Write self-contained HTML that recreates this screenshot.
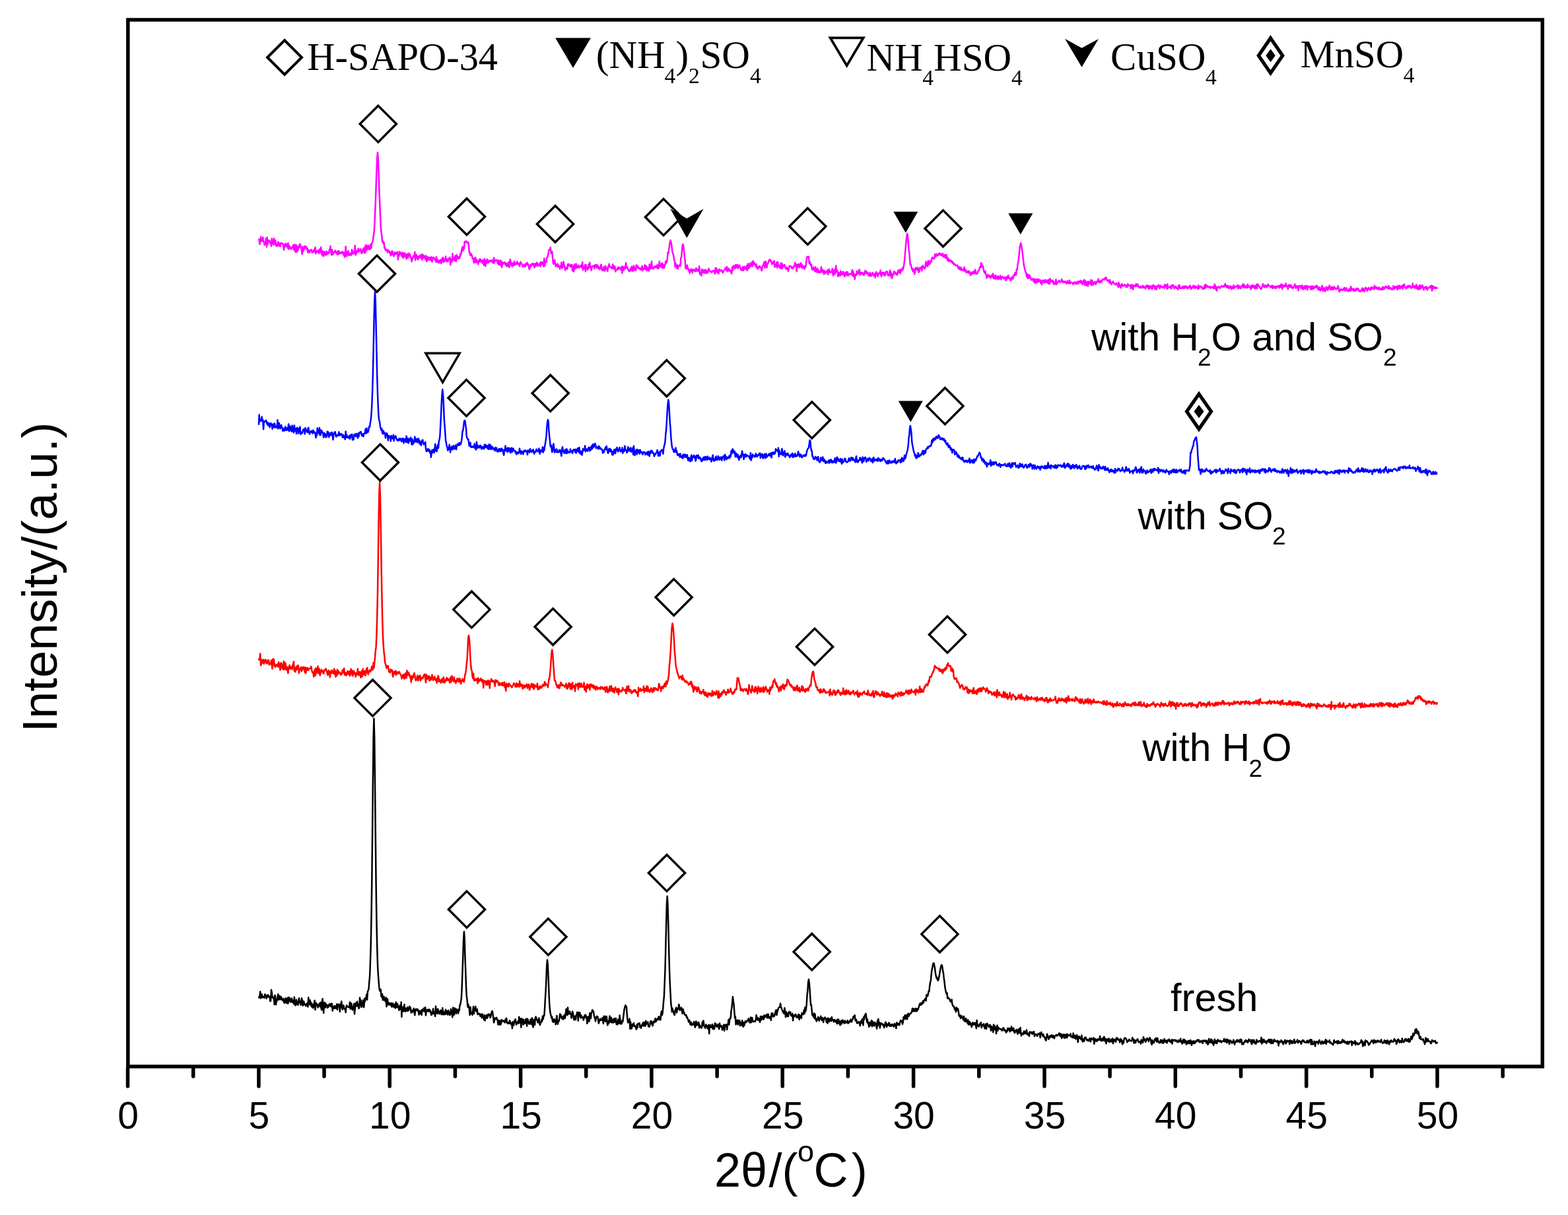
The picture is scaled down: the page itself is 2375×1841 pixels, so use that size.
<!DOCTYPE html><html><head><meta charset="utf-8"><title>XRD patterns</title><style>html,body{margin:0;padding:0;background:#fff;}svg{display:block;}</style></head><body><svg width="2375" height="1841" viewBox="0 0 2375 1841"><rect width="2375" height="1841" fill="#fff"/><path d="M391.9 1509.5 L392.6 1511.8 L393.4 1509.7 L394.2 1502.5 L395.0 1512.6 L395.8 1510.7 L396.6 1506.5 L397.4 1511.6 L398.2 1510.8 L399.0 1510.7 L399.8 1509.6 L400.6 1512.1 L401.4 1506.5 L402.2 1509.3 L403.0 1508.0 L403.8 1513.0 L404.5 1510.6 L405.3 1509.3 L406.1 1507.3 L406.9 1509.8 L407.7 1511.1 L408.5 1510.0 L409.3 1517.2 L410.1 1516.1 L410.9 1499.7 L411.7 1503.5 L412.5 1511.3 L413.3 1510.3 L414.1 1513.3 L414.9 1513.5 L415.7 1522.1 L416.4 1507.9 L417.2 1511.3 L418.0 1522.2 L418.8 1516.2 L419.6 1516.4 L420.4 1511.4 L421.2 1506.5 L422.0 1514.7 L422.8 1514.6 L423.6 1508.9 L424.4 1511.4 L425.2 1514.3 L426.0 1510.6 L426.8 1514.5 L427.6 1515.5 L428.3 1515.4 L429.1 1513.2 L429.9 1518.2 L430.7 1519.6 L431.5 1517.3 L432.3 1512.4 L433.1 1519.3 L433.9 1514.0 L434.7 1520.2 L435.5 1511.8 L436.3 1520.6 L437.1 1516.6 L437.9 1511.3 L438.7 1515.6 L439.5 1517.3 L440.2 1518.4 L441.0 1513.0 L441.8 1512.6 L442.6 1518.4 L443.4 1515.6 L444.2 1518.8 L445.0 1521.2 L445.8 1510.8 L446.6 1519.2 L447.4 1523.6 L448.2 1517.1 L449.0 1514.9 L449.8 1521.9 L450.6 1519.8 L451.4 1522.7 L452.1 1517.4 L452.9 1512.6 L453.7 1518.7 L454.5 1517.4 L455.3 1522.8 L456.1 1520.4 L456.9 1512.6 L457.7 1514.6 L458.5 1523.7 L459.3 1523.0 L460.1 1517.3 L460.9 1520.2 L461.7 1522.3 L462.5 1522.5 L463.3 1524.4 L464.0 1521.8 L464.8 1520.4 L465.6 1519.8 L466.4 1525.6 L467.2 1511.4 L468.0 1520.7 L468.8 1521.5 L469.6 1515.4 L470.4 1523.1 L471.2 1518.9 L472.0 1525.6 L472.8 1521.4 L473.6 1524.9 L474.4 1527.4 L475.2 1523.9 L476.0 1518.6 L476.7 1515.9 L477.5 1530.1 L478.3 1522.1 L479.1 1519.8 L479.9 1523.4 L480.7 1522.1 L481.5 1526.6 L482.3 1523.2 L483.1 1523.2 L483.9 1520.2 L484.7 1525.4 L485.5 1519.0 L486.3 1526.4 L487.1 1530.2 L487.9 1517.2 L488.6 1513.3 L489.4 1526.6 L490.2 1534.9 L491.0 1519.9 L491.8 1518.9 L492.6 1526.8 L493.4 1520.8 L494.2 1522.3 L495.0 1523.1 L495.8 1526.9 L496.6 1523.0 L497.4 1526.0 L498.2 1524.2 L499.0 1521.4 L499.8 1523.8 L500.5 1521.2 L501.3 1525.3 L502.1 1520.6 L502.9 1520.9 L503.7 1531.7 L504.5 1525.4 L505.3 1525.5 L506.1 1528.0 L506.9 1524.1 L507.7 1525.0 L508.5 1527.9 L509.3 1527.3 L510.1 1521.4 L510.9 1529.8 L511.7 1523.8 L512.4 1521.8 L513.2 1522.5 L514.0 1524.6 L514.8 1533.0 L515.6 1521.3 L516.4 1526.8 L517.2 1517.2 L518.0 1526.1 L518.8 1529.8 L519.6 1525.1 L520.4 1523.4 L521.2 1527.0 L522.0 1528.9 L522.8 1528.7 L523.6 1534.1 L524.3 1526.7 L525.1 1523.3 L525.9 1525.2 L526.7 1525.4 L527.5 1526.1 L528.3 1525.5 L529.1 1526.2 L529.9 1518.6 L530.7 1528.8 L531.5 1523.0 L532.3 1520.4 L533.1 1527.8 L533.9 1530.5 L534.7 1527.0 L535.5 1525.5 L536.2 1521.0 L537.0 1536.4 L537.8 1528.1 L538.6 1519.7 L539.4 1521.1 L540.2 1524.4 L541.0 1517.6 L541.8 1524.4 L542.6 1521.6 L543.4 1528.1 L544.2 1526.8 L545.0 1511.8 L545.8 1522.5 L546.6 1515.5 L547.4 1525.9 L548.1 1521.7 L548.9 1522.6 L549.7 1515.8 L550.5 1526.2 L551.3 1526.0 L552.1 1513.2 L552.9 1517.4 L553.7 1512.1 L554.5 1512.9 L555.3 1506.5 L556.1 1515.0 L556.9 1502.4 L557.7 1500.9 L558.5 1498.3 L559.3 1487.9 L560.1 1478.5 L560.8 1461.5 L561.6 1436.3 L562.4 1395.8 L563.2 1340.9 L564.0 1269.4 L564.8 1188.5 L565.6 1118.5 L566.4 1088.7 L567.2 1119.0 L568.0 1188.1 L568.8 1268.9 L569.6 1339.9 L570.4 1395.5 L571.2 1433.9 L572.0 1461.9 L572.7 1474.8 L573.5 1485.9 L574.3 1495.9 L575.1 1500.9 L575.9 1501.9 L576.7 1499.1 L577.5 1509.6 L578.3 1510.9 L579.1 1506.3 L579.9 1515.4 L580.7 1511.0 L581.5 1510.2 L582.3 1515.5 L583.1 1515.4 L583.9 1517.7 L584.6 1511.5 L585.4 1525.3 L586.2 1516.6 L587.0 1513.5 L587.8 1522.4 L588.6 1519.1 L589.4 1522.3 L590.2 1520.1 L591.0 1521.6 L591.8 1523.2 L592.6 1519.7 L593.4 1525.7 L594.2 1521.5 L595.0 1520.3 L595.8 1524.3 L596.5 1526.1 L597.3 1523.7 L598.1 1521.5 L598.9 1527.7 L599.7 1518.6 L600.5 1521.7 L601.3 1526.2 L602.1 1521.0 L602.9 1526.7 L603.7 1526.7 L604.5 1530.7 L605.3 1523.8 L606.1 1525.2 L606.9 1529.2 L607.7 1518.4 L608.4 1540.7 L609.2 1525.9 L610.0 1526.0 L610.8 1532.4 L611.6 1528.9 L612.4 1522.1 L613.2 1531.8 L614.0 1532.8 L614.8 1527.8 L615.6 1528.5 L616.4 1531.7 L617.2 1526.2 L618.0 1531.7 L618.8 1530.8 L619.6 1527.5 L620.3 1524.7 L621.1 1529.5 L621.9 1527.0 L622.7 1534.5 L623.5 1531.2 L624.3 1533.8 L625.1 1531.4 L625.9 1532.0 L626.7 1527.9 L627.5 1533.8 L628.3 1538.3 L629.1 1530.1 L629.9 1529.0 L630.7 1530.9 L631.5 1529.7 L632.3 1528.9 L633.0 1532.3 L633.8 1530.7 L634.6 1537.6 L635.4 1532.0 L636.2 1533.4 L637.0 1535.9 L637.8 1531.1 L638.6 1538.0 L639.4 1529.9 L640.2 1529.3 L641.0 1531.2 L641.8 1532.2 L642.6 1527.3 L643.4 1532.7 L644.2 1526.4 L644.9 1538.5 L645.7 1532.8 L646.5 1530.7 L647.3 1529.7 L648.1 1531.8 L648.9 1532.6 L649.7 1529.4 L650.5 1529.9 L651.3 1532.8 L652.1 1531.5 L652.9 1537.3 L653.7 1538.1 L654.5 1533.7 L655.3 1535.5 L656.1 1528.4 L656.8 1536.2 L657.6 1533.6 L658.4 1535.6 L659.2 1540.0 L660.0 1524.8 L660.8 1534.8 L661.6 1529.5 L662.4 1536.1 L663.2 1528.7 L664.0 1531.9 L664.8 1534.6 L665.6 1536.2 L666.4 1534.1 L667.2 1530.8 L668.0 1531.7 L668.7 1537.3 L669.5 1533.9 L670.3 1527.3 L671.1 1537.2 L671.9 1535.5 L672.7 1537.3 L673.5 1532.6 L674.3 1537.1 L675.1 1529.8 L675.9 1536.1 L676.7 1532.0 L677.5 1536.4 L678.3 1537.7 L679.1 1530.9 L679.9 1533.6 L680.6 1533.9 L681.4 1538.3 L682.2 1536.4 L683.0 1528.9 L683.8 1535.3 L684.6 1536.3 L685.4 1541.5 L686.2 1526.8 L687.0 1531.1 L687.8 1538.0 L688.6 1527.6 L689.4 1528.0 L690.2 1534.3 L691.0 1535.9 L691.8 1529.2 L692.5 1533.3 L693.3 1531.1 L694.1 1535.5 L694.9 1529.0 L695.7 1531.2 L696.5 1522.6 L697.3 1522.0 L698.1 1517.1 L698.9 1511.8 L699.7 1495.6 L700.5 1472.4 L701.3 1448.3 L702.1 1423.6 L702.9 1411.7 L703.7 1422.7 L704.4 1447.7 L705.2 1471.1 L706.0 1495.1 L706.8 1509.6 L707.6 1515.2 L708.4 1525.8 L709.2 1521.6 L710.0 1526.5 L710.8 1528.2 L711.6 1538.1 L712.4 1525.8 L713.2 1534.4 L714.0 1536.3 L714.8 1534.6 L715.6 1537.9 L716.4 1529.9 L717.1 1525.1 L717.9 1536.0 L718.7 1527.9 L719.5 1529.7 L720.3 1525.1 L721.1 1532.3 L721.9 1532.8 L722.7 1529.2 L723.5 1537.1 L724.3 1535.6 L725.1 1535.6 L725.9 1536.9 L726.7 1536.4 L727.5 1539.9 L728.3 1539.0 L729.0 1536.9 L729.8 1542.3 L730.6 1536.4 L731.4 1540.1 L732.2 1540.9 L733.0 1545.1 L733.8 1537.9 L734.6 1546.6 L735.4 1540.9 L736.2 1539.7 L737.0 1538.1 L737.8 1543.0 L738.6 1541.1 L739.4 1536.8 L740.2 1536.6 L740.9 1538.5 L741.7 1537.2 L742.5 1542.0 L743.3 1540.4 L744.1 1535.8 L744.9 1532.8 L745.7 1531.9 L746.5 1536.7 L747.3 1542.7 L748.1 1549.4 L748.9 1546.3 L749.7 1542.6 L750.5 1544.3 L751.3 1542.7 L752.1 1541.9 L752.8 1544.4 L753.6 1546.0 L754.4 1552.4 L755.2 1545.9 L756.0 1551.0 L756.8 1552.7 L757.6 1546.6 L758.4 1552.5 L759.2 1549.3 L760.0 1545.3 L760.8 1548.0 L761.6 1547.3 L762.4 1546.5 L763.2 1546.8 L764.0 1548.2 L764.7 1549.5 L765.5 1544.7 L766.3 1548.1 L767.1 1542.7 L767.9 1549.5 L768.7 1551.0 L769.5 1549.3 L770.3 1549.7 L771.1 1550.9 L771.9 1546.2 L772.7 1547.8 L773.5 1550.6 L774.3 1552.4 L775.1 1550.2 L775.9 1558.2 L776.6 1548.3 L777.4 1552.4 L778.2 1553.4 L779.0 1548.2 L779.8 1545.6 L780.6 1544.3 L781.4 1549.3 L782.2 1552.8 L783.0 1549.7 L783.8 1549.3 L784.6 1547.3 L785.4 1550.7 L786.2 1540.7 L787.0 1549.5 L787.8 1548.8 L788.5 1543.6 L789.3 1556.7 L790.1 1543.5 L790.9 1544.6 L791.7 1544.2 L792.5 1552.7 L793.3 1545.3 L794.1 1551.1 L794.9 1550.7 L795.7 1549.5 L796.5 1543.7 L797.3 1546.3 L798.1 1554.7 L798.9 1543.8 L799.7 1545.4 L800.5 1547.9 L801.2 1551.4 L802.0 1549.3 L802.8 1551.1 L803.6 1544.5 L804.4 1551.8 L805.2 1550.4 L806.0 1542.4 L806.8 1553.9 L807.6 1556.5 L808.4 1545.3 L809.2 1548.3 L810.0 1553.1 L810.8 1542.5 L811.6 1540.6 L812.4 1543.0 L813.1 1545.6 L813.9 1545.4 L814.7 1549.5 L815.5 1548.1 L816.3 1542.5 L817.1 1548.7 L817.9 1553.1 L818.7 1550.3 L819.5 1549.1 L820.3 1545.0 L821.1 1547.6 L821.9 1539.8 L822.7 1544.2 L823.5 1539.0 L824.3 1538.8 L825.0 1529.8 L825.8 1514.8 L826.6 1502.1 L827.4 1483.9 L828.2 1462.3 L829.0 1454.4 L829.8 1462.6 L830.6 1480.2 L831.4 1503.8 L832.2 1521.0 L833.0 1530.8 L833.8 1536.0 L834.6 1539.1 L835.4 1542.5 L836.2 1540.7 L836.9 1547.3 L837.7 1548.6 L838.5 1548.8 L839.3 1544.2 L840.1 1546.7 L840.9 1545.7 L841.7 1552.4 L842.5 1546.5 L843.3 1538.9 L844.1 1546.7 L844.9 1551.7 L845.7 1547.1 L846.5 1547.5 L847.3 1544.1 L848.1 1536.5 L848.8 1536.8 L849.6 1538.4 L850.4 1542.0 L851.2 1543.2 L852.0 1544.1 L852.8 1540.0 L853.6 1544.3 L854.4 1539.5 L855.2 1537.5 L856.0 1542.7 L856.8 1535.9 L857.6 1529.0 L858.4 1534.6 L859.2 1538.3 L860.0 1526.5 L860.7 1536.3 L861.5 1536.5 L862.3 1532.7 L863.1 1532.5 L863.9 1536.3 L864.7 1536.0 L865.5 1542.6 L866.3 1539.5 L867.1 1532.6 L867.9 1535.2 L868.7 1540.9 L869.5 1545.2 L870.3 1539.9 L871.1 1539.7 L871.9 1545.3 L872.7 1538.6 L873.4 1537.7 L874.2 1533.8 L875.0 1537.1 L875.8 1546.7 L876.6 1534.0 L877.4 1539.2 L878.2 1534.2 L879.0 1539.7 L879.8 1542.5 L880.6 1538.5 L881.4 1542.0 L882.2 1542.0 L883.0 1541.1 L883.8 1545.7 L884.6 1542.6 L885.3 1539.0 L886.1 1537.9 L886.9 1537.6 L887.7 1542.5 L888.5 1539.9 L889.3 1550.8 L890.1 1547.9 L890.9 1540.8 L891.7 1540.5 L892.5 1547.6 L893.3 1535.0 L894.1 1539.5 L894.9 1543.2 L895.7 1534.9 L896.5 1533.3 L897.2 1530.3 L898.0 1531.8 L898.8 1532.3 L899.6 1537.2 L900.4 1541.5 L901.2 1542.2 L902.0 1547.6 L902.8 1542.2 L903.6 1540.4 L904.4 1539.7 L905.2 1540.7 L906.0 1544.8 L906.8 1550.7 L907.6 1548.0 L908.4 1545.3 L909.1 1543.7 L909.9 1545.6 L910.7 1546.0 L911.5 1545.4 L912.3 1542.4 L913.1 1545.7 L913.9 1550.9 L914.7 1539.7 L915.5 1546.4 L916.3 1539.9 L917.1 1547.9 L917.9 1544.6 L918.7 1539.9 L919.5 1547.5 L920.3 1553.4 L921.0 1547.4 L921.8 1551.1 L922.6 1546.7 L923.4 1539.5 L924.2 1548.6 L925.0 1545.4 L925.8 1541.8 L926.6 1549.5 L927.4 1547.7 L928.2 1544.9 L929.0 1549.7 L929.8 1543.6 L930.6 1548.8 L931.4 1543.2 L932.2 1548.5 L932.9 1543.1 L933.7 1552.2 L934.5 1548.1 L935.3 1552.4 L936.1 1544.8 L936.9 1546.1 L937.7 1550.8 L938.5 1538.6 L939.3 1544.4 L940.1 1551.6 L940.9 1549.6 L941.7 1551.1 L942.5 1546.3 L943.3 1548.1 L944.1 1541.7 L944.8 1535.9 L945.6 1529.3 L946.4 1526.3 L947.2 1523.3 L948.0 1526.5 L948.8 1524.9 L949.6 1535.3 L950.4 1544.1 L951.2 1549.5 L952.0 1548.1 L952.8 1548.0 L953.6 1543.8 L954.4 1558.9 L955.2 1548.8 L956.0 1558.6 L956.8 1558.5 L957.5 1554.5 L958.3 1551.9 L959.1 1554.6 L959.9 1550.2 L960.7 1555.0 L961.5 1554.1 L962.3 1555.8 L963.1 1557.2 L963.9 1559.8 L964.7 1552.6 L965.5 1557.4 L966.3 1551.1 L967.1 1550.7 L967.9 1551.6 L968.7 1550.3 L969.4 1556.8 L970.2 1556.6 L971.0 1557.7 L971.8 1553.2 L972.6 1554.2 L973.4 1551.2 L974.2 1549.2 L975.0 1554.5 L975.8 1553.8 L976.6 1549.1 L977.4 1554.7 L978.2 1546.8 L979.0 1551.9 L979.8 1550.3 L980.6 1550.6 L981.3 1548.6 L982.1 1555.3 L982.9 1553.9 L983.7 1555.8 L984.5 1552.2 L985.3 1547.3 L986.1 1550.2 L986.9 1547.4 L987.7 1552.4 L988.5 1554.4 L989.3 1551.0 L990.1 1547.5 L990.9 1547.8 L991.7 1549.1 L992.5 1543.2 L993.2 1547.8 L994.0 1547.4 L994.8 1544.3 L995.6 1544.1 L996.4 1545.2 L997.2 1541.2 L998.0 1540.3 L998.8 1544.4 L999.6 1541.9 L1000.4 1545.5 L1001.2 1536.1 L1002.0 1532.2 L1002.8 1538.3 L1003.6 1535.2 L1004.4 1526.0 L1005.1 1517.2 L1005.9 1509.5 L1006.7 1489.7 L1007.5 1468.0 L1008.3 1435.2 L1009.1 1401.6 L1009.9 1369.3 L1010.7 1358.0 L1011.5 1372.1 L1012.3 1401.2 L1013.1 1437.0 L1013.9 1466.8 L1014.7 1489.8 L1015.5 1504.8 L1016.3 1521.0 L1017.0 1525.0 L1017.8 1533.3 L1018.6 1528.0 L1019.4 1531.8 L1020.2 1533.2 L1021.0 1537.1 L1021.8 1538.0 L1022.6 1530.8 L1023.4 1529.0 L1024.2 1526.7 L1025.0 1534.4 L1025.8 1529.9 L1026.6 1527.8 L1027.4 1528.9 L1028.2 1522.0 L1029.0 1523.9 L1029.7 1530.8 L1030.5 1529.6 L1031.3 1529.3 L1032.1 1526.8 L1032.9 1531.8 L1033.7 1535.9 L1034.5 1528.9 L1035.3 1533.5 L1036.1 1533.5 L1036.9 1537.1 L1037.7 1537.6 L1038.5 1538.6 L1039.3 1537.8 L1040.1 1541.7 L1040.9 1541.3 L1041.6 1543.9 L1042.4 1545.3 L1043.2 1548.6 L1044.0 1545.7 L1044.8 1547.3 L1045.6 1552.5 L1046.4 1549.0 L1047.2 1549.4 L1048.0 1553.5 L1048.8 1552.0 L1049.6 1551.7 L1050.4 1552.4 L1051.2 1547.9 L1052.0 1553.6 L1052.8 1556.6 L1053.5 1554.3 L1054.3 1547.5 L1055.1 1553.6 L1055.9 1549.8 L1056.7 1552.1 L1057.5 1553.3 L1058.3 1549.1 L1059.1 1557.4 L1059.9 1552.9 L1060.7 1555.7 L1061.5 1555.3 L1062.3 1557.6 L1063.1 1557.2 L1063.9 1548.6 L1064.7 1553.6 L1065.4 1546.6 L1066.2 1552.1 L1067.0 1555.9 L1067.8 1556.6 L1068.6 1557.9 L1069.4 1552.6 L1070.2 1554.9 L1071.0 1554.2 L1071.8 1558.0 L1072.6 1559.1 L1073.4 1552.9 L1074.2 1566.2 L1075.0 1554.1 L1075.8 1553.0 L1076.6 1556.1 L1077.3 1556.7 L1078.1 1556.1 L1078.9 1552.3 L1079.7 1559.1 L1080.5 1554.6 L1081.3 1559.4 L1082.1 1559.0 L1082.9 1550.5 L1083.7 1551.5 L1084.5 1551.5 L1085.3 1555.5 L1086.1 1554.9 L1086.9 1555.6 L1087.7 1552.2 L1088.5 1556.2 L1089.2 1559.3 L1090.0 1550.6 L1090.8 1554.3 L1091.6 1555.7 L1092.4 1554.5 L1093.2 1554.3 L1094.0 1560.5 L1094.8 1559.0 L1095.6 1557.6 L1096.4 1552.5 L1097.2 1561.9 L1098.0 1555.9 L1098.8 1552.7 L1099.6 1553.1 L1100.4 1552.3 L1101.1 1560.1 L1101.9 1553.6 L1102.7 1552.6 L1103.5 1545.0 L1104.3 1552.7 L1105.1 1545.5 L1105.9 1542.3 L1106.7 1542.6 L1107.5 1531.9 L1108.3 1527.5 L1109.1 1519.8 L1109.9 1510.2 L1110.7 1516.9 L1111.5 1521.4 L1112.3 1533.1 L1113.1 1542.3 L1113.8 1540.2 L1114.6 1552.3 L1115.4 1547.5 L1116.2 1545.7 L1117.0 1549.5 L1117.8 1552.6 L1118.6 1546.1 L1119.4 1550.4 L1120.2 1546.2 L1121.0 1554.2 L1121.8 1551.0 L1122.6 1549.1 L1123.4 1553.6 L1124.2 1546.3 L1125.0 1549.0 L1125.7 1555.9 L1126.5 1549.6 L1127.3 1554.0 L1128.1 1550.1 L1128.9 1547.1 L1129.7 1548.3 L1130.5 1549.1 L1131.3 1547.4 L1132.1 1545.9 L1132.9 1545.8 L1133.7 1543.4 L1134.5 1548.1 L1135.3 1548.7 L1136.1 1549.6 L1136.9 1541.5 L1137.6 1549.3 L1138.4 1546.5 L1139.2 1541.9 L1140.0 1546.4 L1140.8 1548.4 L1141.6 1547.2 L1142.4 1547.6 L1143.2 1548.1 L1144.0 1547.7 L1144.8 1544.6 L1145.6 1538.0 L1146.4 1541.9 L1147.2 1545.2 L1148.0 1542.5 L1148.8 1545.9 L1149.5 1546.0 L1150.3 1543.6 L1151.1 1549.0 L1151.9 1540.1 L1152.7 1545.8 L1153.5 1541.3 L1154.3 1540.1 L1155.1 1544.2 L1155.9 1540.3 L1156.7 1544.6 L1157.5 1538.2 L1158.3 1541.7 L1159.1 1538.8 L1159.9 1540.5 L1160.7 1539.9 L1161.4 1537.4 L1162.2 1542.6 L1163.0 1536.6 L1163.8 1537.2 L1164.6 1542.6 L1165.4 1542.6 L1166.2 1541.5 L1167.0 1540.4 L1167.8 1546.0 L1168.6 1535.3 L1169.4 1536.4 L1170.2 1535.3 L1171.0 1540.5 L1171.8 1538.2 L1172.6 1539.9 L1173.3 1538.8 L1174.1 1534.5 L1174.9 1531.8 L1175.7 1530.3 L1176.5 1538.1 L1177.3 1533.4 L1178.1 1531.1 L1178.9 1527.5 L1179.7 1527.0 L1180.5 1526.0 L1181.3 1525.8 L1182.1 1520.5 L1182.9 1527.2 L1183.7 1527.2 L1184.5 1530.1 L1185.2 1531.1 L1186.0 1534.0 L1186.8 1532.7 L1187.6 1536.0 L1188.4 1527.3 L1189.2 1532.3 L1190.0 1541.2 L1190.8 1533.2 L1191.6 1536.4 L1192.4 1539.7 L1193.2 1535.3 L1194.0 1540.2 L1194.8 1534.1 L1195.6 1532.8 L1196.4 1534.6 L1197.2 1533.7 L1197.9 1538.6 L1198.7 1537.8 L1199.5 1539.7 L1200.3 1535.7 L1201.1 1546.4 L1201.9 1538.5 L1202.7 1538.6 L1203.5 1540.1 L1204.3 1538.0 L1205.1 1536.8 L1205.9 1539.0 L1206.7 1541.6 L1207.5 1540.9 L1208.3 1541.8 L1209.1 1537.4 L1209.8 1536.8 L1210.6 1545.0 L1211.4 1538.3 L1212.2 1540.4 L1213.0 1541.1 L1213.8 1543.0 L1214.6 1534.8 L1215.4 1537.1 L1216.2 1536.9 L1217.0 1536.9 L1217.8 1530.2 L1218.6 1535.8 L1219.4 1526.4 L1220.2 1532.4 L1221.0 1528.5 L1221.7 1521.7 L1222.5 1508.4 L1223.3 1501.6 L1224.1 1488.6 L1224.9 1483.9 L1225.7 1488.6 L1226.5 1498.8 L1227.3 1512.0 L1228.1 1523.1 L1228.9 1522.8 L1229.7 1531.5 L1230.5 1538.4 L1231.3 1538.4 L1232.1 1540.5 L1232.9 1535.6 L1233.6 1543.2 L1234.4 1536.5 L1235.2 1542.0 L1236.0 1545.8 L1236.8 1547.6 L1237.6 1543.9 L1238.4 1545.2 L1239.2 1541.1 L1240.0 1541.7 L1240.8 1546.7 L1241.6 1543.5 L1242.4 1543.3 L1243.2 1539.7 L1244.0 1544.4 L1244.8 1546.0 L1245.5 1541.9 L1246.3 1542.9 L1247.1 1549.1 L1247.9 1545.1 L1248.7 1543.9 L1249.5 1541.5 L1250.3 1543.1 L1251.1 1544.3 L1251.9 1549.1 L1252.7 1543.4 L1253.5 1550.5 L1254.3 1542.7 L1255.1 1544.5 L1255.9 1548.1 L1256.7 1545.0 L1257.4 1543.4 L1258.2 1545.5 L1259.0 1547.3 L1259.8 1541.1 L1260.6 1545.4 L1261.4 1545.9 L1262.2 1545.2 L1263.0 1548.6 L1263.8 1544.9 L1264.6 1545.6 L1265.4 1546.8 L1266.2 1548.9 L1267.0 1546.2 L1267.8 1551.3 L1268.6 1544.4 L1269.4 1550.8 L1270.1 1544.7 L1270.9 1546.8 L1271.7 1548.4 L1272.5 1553.4 L1273.3 1550.1 L1274.1 1546.4 L1274.9 1551.4 L1275.7 1547.1 L1276.5 1545.5 L1277.3 1549.1 L1278.1 1548.1 L1278.9 1550.6 L1279.7 1546.4 L1280.5 1549.1 L1281.3 1549.9 L1282.0 1548.9 L1282.8 1548.0 L1283.6 1546.2 L1284.4 1550.7 L1285.2 1548.6 L1286.0 1549.6 L1286.8 1547.1 L1287.6 1548.0 L1288.4 1544.8 L1289.2 1547.5 L1290.0 1548.5 L1290.8 1545.0 L1291.6 1544.6 L1292.4 1540.5 L1293.2 1541.9 L1293.9 1539.3 L1294.7 1538.2 L1295.5 1546.3 L1296.3 1546.4 L1297.1 1545.1 L1297.9 1550.2 L1298.7 1549.5 L1299.5 1550.2 L1300.3 1548.2 L1301.1 1549.7 L1301.9 1550.0 L1302.7 1554.3 L1303.5 1547.4 L1304.3 1549.3 L1305.1 1550.2 L1305.8 1544.2 L1306.6 1544.1 L1307.4 1553.5 L1308.2 1541.1 L1309.0 1544.9 L1309.8 1538.5 L1310.6 1537.4 L1311.4 1535.7 L1312.2 1541.3 L1313.0 1548.4 L1313.8 1544.3 L1314.6 1550.8 L1315.4 1550.7 L1316.2 1555.8 L1317.0 1549.1 L1317.7 1554.1 L1318.5 1553.2 L1319.3 1550.1 L1320.1 1546.3 L1320.9 1555.3 L1321.7 1547.4 L1322.5 1549.9 L1323.3 1553.8 L1324.1 1554.5 L1324.9 1549.1 L1325.7 1551.5 L1326.5 1550.9 L1327.3 1554.9 L1328.1 1558.7 L1328.9 1546.7 L1329.6 1554.4 L1330.4 1544.0 L1331.2 1552.0 L1332.0 1549.0 L1332.8 1557.6 L1333.6 1552.7 L1334.4 1550.3 L1335.2 1551.0 L1336.0 1550.9 L1336.8 1553.1 L1337.6 1552.2 L1338.4 1554.5 L1339.2 1557.1 L1340.0 1554.8 L1340.8 1549.6 L1341.5 1548.6 L1342.3 1551.1 L1343.1 1556.1 L1343.9 1552.4 L1344.7 1551.6 L1345.5 1553.8 L1346.3 1549.7 L1347.1 1550.5 L1347.9 1555.1 L1348.7 1552.9 L1349.5 1552.6 L1350.3 1554.7 L1351.1 1552.3 L1351.9 1552.1 L1352.7 1552.8 L1353.5 1555.7 L1354.2 1554.3 L1355.0 1551.0 L1355.8 1553.4 L1356.6 1555.4 L1357.4 1558.1 L1358.2 1549.4 L1359.0 1552.8 L1359.8 1550.6 L1360.6 1552.9 L1361.4 1551.2 L1362.2 1553.4 L1363.0 1550.2 L1363.8 1546.7 L1364.6 1546.1 L1365.4 1547.9 L1366.1 1547.2 L1366.9 1551.9 L1367.7 1549.3 L1368.5 1541.2 L1369.3 1544.6 L1370.1 1539.6 L1370.9 1538.2 L1371.7 1543.9 L1372.5 1542.8 L1373.3 1538.0 L1374.1 1544.3 L1374.9 1536.9 L1375.7 1535.7 L1376.5 1539.7 L1377.3 1537.9 L1378.0 1536.2 L1378.8 1535.7 L1379.6 1535.6 L1380.4 1533.9 L1381.2 1533.0 L1382.0 1527.9 L1382.8 1528.4 L1383.6 1532.4 L1384.4 1528.7 L1385.2 1531.2 L1386.0 1532.3 L1386.8 1527.9 L1387.6 1528.8 L1388.4 1532.5 L1389.2 1528.5 L1389.9 1530.6 L1390.7 1529.1 L1391.5 1526.6 L1392.3 1523.8 L1393.1 1521.4 L1393.9 1520.0 L1394.7 1522.8 L1395.5 1521.9 L1396.3 1519.6 L1397.1 1520.9 L1397.9 1516.8 L1398.7 1519.5 L1399.5 1516.2 L1400.3 1515.0 L1401.1 1514.0 L1401.8 1512.7 L1402.6 1516.5 L1403.4 1507.2 L1404.2 1509.1 L1405.0 1509.4 L1405.8 1506.3 L1406.6 1501.9 L1407.4 1502.1 L1408.2 1493.7 L1409.0 1488.8 L1409.8 1485.8 L1410.6 1477.2 L1411.4 1470.0 L1412.2 1466.8 L1413.0 1461.9 L1413.7 1459.6 L1414.5 1459.6 L1415.3 1463.5 L1416.1 1467.3 L1416.9 1474.8 L1417.7 1478.4 L1418.5 1482.0 L1419.3 1480.9 L1420.1 1485.2 L1420.9 1485.6 L1421.7 1483.3 L1422.5 1479.6 L1423.3 1474.6 L1424.1 1469.7 L1424.9 1466.1 L1425.7 1462.9 L1426.4 1462.1 L1427.2 1463.9 L1428.0 1470.3 L1428.8 1473.7 L1429.6 1481.2 L1430.4 1486.6 L1431.2 1494.3 L1432.0 1499.6 L1432.8 1503.2 L1433.6 1505.5 L1434.4 1504.2 L1435.2 1512.7 L1436.0 1511.5 L1436.8 1511.8 L1437.6 1513.4 L1438.3 1513.9 L1439.1 1516.6 L1439.9 1517.8 L1440.7 1517.8 L1441.5 1514.5 L1442.3 1521.2 L1443.1 1523.6 L1443.9 1525.0 L1444.7 1524.8 L1445.5 1527.4 L1446.3 1529.8 L1447.1 1527.6 L1447.9 1533.2 L1448.7 1526.5 L1449.5 1529.1 L1450.2 1531.0 L1451.0 1528.4 L1451.8 1532.8 L1452.6 1539.0 L1453.4 1540.0 L1454.2 1538.2 L1455.0 1543.0 L1455.8 1540.3 L1456.6 1539.4 L1457.4 1542.0 L1458.2 1541.9 L1459.0 1544.8 L1459.8 1540.1 L1460.6 1547.0 L1461.4 1544.2 L1462.1 1548.1 L1462.9 1542.9 L1463.7 1546.1 L1464.5 1547.7 L1465.3 1550.1 L1466.1 1545.2 L1466.9 1552.7 L1467.7 1550.1 L1468.5 1547.9 L1469.3 1552.6 L1470.1 1550.0 L1470.9 1553.0 L1471.7 1556.2 L1472.5 1552.5 L1473.3 1549.5 L1474.0 1550.0 L1474.8 1552.8 L1475.6 1552.3 L1476.4 1549.6 L1477.2 1550.3 L1478.0 1553.9 L1478.8 1558.3 L1479.6 1545.9 L1480.4 1554.6 L1481.2 1552.4 L1482.0 1555.1 L1482.8 1555.5 L1483.6 1553.6 L1484.4 1551.1 L1485.2 1550.2 L1485.9 1549.2 L1486.7 1557.2 L1487.5 1553.8 L1488.3 1553.1 L1489.1 1553.9 L1489.9 1551.4 L1490.7 1555.7 L1491.5 1558.4 L1492.3 1558.1 L1493.1 1551.4 L1493.9 1559.0 L1494.7 1553.7 L1495.5 1550.9 L1496.3 1552.8 L1497.1 1553.6 L1497.8 1556.2 L1498.6 1553.7 L1499.4 1552.7 L1500.2 1556.0 L1501.0 1561.7 L1501.8 1555.1 L1502.6 1558.2 L1503.4 1557.4 L1504.2 1564.1 L1505.0 1552.6 L1505.8 1560.4 L1506.6 1554.5 L1507.4 1556.4 L1508.2 1557.7 L1509.0 1566.2 L1509.8 1556.3 L1510.5 1553.6 L1511.3 1561.8 L1512.1 1556.5 L1512.9 1558.1 L1513.7 1558.8 L1514.5 1559.3 L1515.3 1558.7 L1516.1 1560.0 L1516.9 1560.4 L1517.7 1561.7 L1518.5 1558.6 L1519.3 1557.9 L1520.1 1557.2 L1520.9 1561.5 L1521.7 1560.0 L1522.4 1561.7 L1523.2 1561.8 L1524.0 1564.8 L1524.8 1561.2 L1525.6 1562.7 L1526.4 1557.9 L1527.2 1558.3 L1528.0 1560.4 L1528.8 1558.2 L1529.6 1563.2 L1530.4 1558.2 L1531.2 1561.8 L1532.0 1555.6 L1532.8 1559.1 L1533.6 1561.2 L1534.3 1561.5 L1535.1 1557.8 L1535.9 1562.7 L1536.7 1565.0 L1537.5 1564.3 L1538.3 1561.1 L1539.1 1561.4 L1539.9 1560.0 L1540.7 1564.7 L1541.5 1566.9 L1542.3 1562.1 L1543.1 1559.2 L1543.9 1564.1 L1544.7 1565.5 L1545.5 1557.0 L1546.2 1564.3 L1547.0 1569.5 L1547.8 1566.3 L1548.6 1565.7 L1549.4 1565.5 L1550.2 1567.3 L1551.0 1562.4 L1551.8 1562.7 L1552.6 1566.0 L1553.4 1563.4 L1554.2 1565.9 L1555.0 1560.6 L1555.8 1567.4 L1556.6 1567.7 L1557.4 1565.9 L1558.1 1566.3 L1558.9 1570.1 L1559.7 1563.5 L1560.5 1564.0 L1561.3 1563.7 L1562.1 1565.5 L1562.9 1564.1 L1563.7 1566.9 L1564.5 1565.3 L1565.3 1563.4 L1566.1 1563.3 L1566.9 1570.3 L1567.7 1567.3 L1568.5 1567.0 L1569.3 1567.8 L1570.0 1567.6 L1570.8 1569.8 L1571.6 1569.5 L1572.4 1566.7 L1573.2 1566.3 L1574.0 1565.8 L1574.8 1565.5 L1575.6 1572.2 L1576.4 1566.6 L1577.2 1564.0 L1578.0 1567.0 L1578.8 1567.3 L1579.6 1570.2 L1580.4 1567.3 L1581.2 1570.9 L1581.9 1570.7 L1582.7 1572.8 L1583.5 1575.1 L1584.3 1576.7 L1585.1 1573.0 L1585.9 1566.8 L1586.7 1568.6 L1587.5 1570.2 L1588.3 1574.7 L1589.1 1571.3 L1589.9 1572.5 L1590.7 1569.1 L1591.5 1571.0 L1592.3 1571.3 L1593.1 1568.4 L1593.9 1571.4 L1594.6 1572.1 L1595.4 1569.1 L1596.2 1571.9 L1597.0 1573.5 L1597.8 1569.6 L1598.6 1569.4 L1599.4 1568.6 L1600.2 1567.8 L1601.0 1569.7 L1601.8 1568.3 L1602.6 1568.6 L1603.4 1567.4 L1604.2 1565.5 L1605.0 1567.0 L1605.8 1570.1 L1606.5 1566.3 L1607.3 1567.6 L1608.1 1573.2 L1608.9 1571.9 L1609.7 1567.5 L1610.5 1570.6 L1611.3 1567.5 L1612.1 1573.1 L1612.9 1567.7 L1613.7 1569.3 L1614.5 1572.4 L1615.3 1567.0 L1616.1 1572.2 L1616.9 1567.0 L1617.7 1569.6 L1618.4 1568.3 L1619.2 1568.8 L1620.0 1569.3 L1620.8 1568.8 L1621.6 1566.4 L1622.4 1571.0 L1623.2 1570.6 L1624.0 1572.0 L1624.8 1572.2 L1625.6 1565.6 L1626.4 1572.3 L1627.2 1572.8 L1628.0 1568.7 L1628.8 1572.9 L1629.6 1574.4 L1630.3 1569.9 L1631.1 1568.3 L1631.9 1571.2 L1632.7 1579.2 L1633.5 1573.4 L1634.3 1570.3 L1635.1 1573.0 L1635.9 1571.7 L1636.7 1573.5 L1637.5 1575.1 L1638.3 1568.7 L1639.1 1575.8 L1639.9 1578.4 L1640.7 1574.5 L1641.5 1574.1 L1642.2 1577.7 L1643.0 1572.0 L1643.8 1572.1 L1644.6 1571.8 L1645.4 1574.8 L1646.2 1576.2 L1647.0 1575.0 L1647.8 1576.6 L1648.6 1577.3 L1649.4 1576.6 L1650.2 1573.5 L1651.0 1574.8 L1651.8 1578.5 L1652.6 1573.0 L1653.4 1574.9 L1654.1 1574.6 L1654.9 1575.2 L1655.7 1573.1 L1656.5 1572.4 L1657.3 1581.8 L1658.1 1578.0 L1658.9 1574.1 L1659.7 1575.7 L1660.5 1577.5 L1661.3 1575.1 L1662.1 1577.4 L1662.9 1574.4 L1663.7 1575.1 L1664.5 1575.7 L1665.3 1574.8 L1666.1 1570.1 L1666.8 1576.0 L1667.6 1576.6 L1668.4 1577.1 L1669.2 1573.6 L1670.0 1576.8 L1670.8 1576.5 L1671.6 1571.8 L1672.4 1570.8 L1673.2 1577.2 L1674.0 1573.8 L1674.8 1578.4 L1675.6 1581.1 L1676.4 1574.7 L1677.2 1574.5 L1678.0 1576.1 L1678.7 1577.7 L1679.5 1573.5 L1680.3 1579.1 L1681.1 1578.5 L1681.9 1577.7 L1682.7 1574.9 L1683.5 1578.4 L1684.3 1578.2 L1685.1 1573.4 L1685.9 1581.2 L1686.7 1575.5 L1687.5 1577.1 L1688.3 1575.0 L1689.1 1577.2 L1689.9 1579.0 L1690.6 1574.4 L1691.4 1572.4 L1692.2 1575.3 L1693.0 1573.3 L1693.8 1574.6 L1694.6 1576.1 L1695.4 1576.2 L1696.2 1579.4 L1697.0 1574.0 L1697.8 1577.2 L1698.6 1575.2 L1699.4 1579.6 L1700.2 1582.3 L1701.0 1577.2 L1701.8 1580.4 L1702.5 1575.2 L1703.3 1572.7 L1704.1 1573.5 L1704.9 1572.8 L1705.7 1574.3 L1706.5 1576.0 L1707.3 1579.2 L1708.1 1578.2 L1708.9 1577.6 L1709.7 1575.6 L1710.5 1574.9 L1711.3 1576.7 L1712.1 1576.9 L1712.9 1577.2 L1713.7 1577.5 L1714.4 1576.4 L1715.2 1572.2 L1716.0 1574.1 L1716.8 1574.8 L1717.6 1580.6 L1718.4 1575.7 L1719.2 1578.3 L1720.0 1580.1 L1720.8 1577.5 L1721.6 1575.8 L1722.4 1576.1 L1723.2 1574.4 L1724.0 1577.5 L1724.8 1579.4 L1725.6 1578.1 L1726.3 1578.6 L1727.1 1578.5 L1727.9 1581.5 L1728.7 1575.4 L1729.5 1577.2 L1730.3 1578.5 L1731.1 1579.7 L1731.9 1571.3 L1732.7 1575.7 L1733.5 1576.4 L1734.3 1574.5 L1735.1 1578.9 L1735.9 1577.4 L1736.7 1576.0 L1737.5 1573.2 L1738.2 1573.9 L1739.0 1574.7 L1739.8 1578.0 L1740.6 1574.2 L1741.4 1572.3 L1742.2 1573.7 L1743.0 1575.7 L1743.8 1580.9 L1744.6 1582.8 L1745.4 1576.0 L1746.2 1579.2 L1747.0 1580.3 L1747.8 1580.0 L1748.6 1576.9 L1749.4 1574.2 L1750.2 1576.0 L1750.9 1572.9 L1751.7 1577.7 L1752.5 1578.9 L1753.3 1572.9 L1754.1 1577.1 L1754.9 1577.9 L1755.7 1580.1 L1756.5 1580.4 L1757.3 1579.1 L1758.1 1575.7 L1758.9 1576.4 L1759.7 1580.0 L1760.5 1575.9 L1761.3 1577.2 L1762.1 1580.8 L1762.8 1577.6 L1763.6 1574.2 L1764.4 1576.7 L1765.2 1578.8 L1766.0 1576.9 L1766.8 1580.0 L1767.6 1580.3 L1768.4 1575.9 L1769.2 1576.3 L1770.0 1577.2 L1770.8 1574.7 L1771.6 1578.3 L1772.4 1577.0 L1773.2 1579.2 L1774.0 1576.1 L1774.7 1575.5 L1775.5 1581.6 L1776.3 1575.5 L1777.1 1576.2 L1777.9 1575.9 L1778.7 1576.9 L1779.5 1575.5 L1780.3 1577.5 L1781.1 1576.0 L1781.9 1576.6 L1782.7 1578.4 L1783.5 1579.2 L1784.3 1578.7 L1785.1 1576.0 L1785.9 1578.5 L1786.6 1577.4 L1787.4 1577.4 L1788.2 1573.8 L1789.0 1579.2 L1789.8 1577.4 L1790.6 1581.5 L1791.4 1579.2 L1792.2 1575.2 L1793.0 1574.7 L1793.8 1580.3 L1794.6 1575.8 L1795.4 1579.3 L1796.2 1577.1 L1797.0 1582.5 L1797.8 1578.0 L1798.5 1581.2 L1799.3 1580.8 L1800.1 1576.8 L1800.9 1577.1 L1801.7 1581.2 L1802.5 1577.9 L1803.3 1576.0 L1804.1 1580.6 L1804.9 1583.7 L1805.7 1577.9 L1806.5 1581.1 L1807.3 1577.6 L1808.1 1581.0 L1808.9 1577.5 L1809.7 1581.0 L1810.4 1579.2 L1811.2 1577.6 L1812.0 1578.6 L1812.8 1576.8 L1813.6 1575.5 L1814.4 1575.7 L1815.2 1577.9 L1816.0 1575.7 L1816.8 1579.0 L1817.6 1579.3 L1818.4 1579.1 L1819.2 1577.0 L1820.0 1578.2 L1820.8 1578.0 L1821.6 1581.0 L1822.4 1576.3 L1823.1 1577.2 L1823.9 1577.6 L1824.7 1577.8 L1825.5 1576.4 L1826.3 1576.7 L1827.1 1580.4 L1827.9 1576.7 L1828.7 1580.1 L1829.5 1582.6 L1830.3 1580.9 L1831.1 1574.1 L1831.9 1579.8 L1832.7 1579.2 L1833.5 1579.3 L1834.3 1574.5 L1835.0 1579.8 L1835.8 1575.7 L1836.6 1581.0 L1837.4 1580.5 L1838.2 1583.8 L1839.0 1577.2 L1839.8 1574.7 L1840.6 1580.4 L1841.4 1580.0 L1842.2 1577.2 L1843.0 1581.1 L1843.8 1579.6 L1844.6 1575.2 L1845.4 1577.3 L1846.2 1577.1 L1846.9 1577.8 L1847.7 1578.5 L1848.5 1576.6 L1849.3 1577.7 L1850.1 1579.4 L1850.9 1577.9 L1851.7 1577.5 L1852.5 1577.4 L1853.3 1577.9 L1854.1 1573.9 L1854.9 1578.4 L1855.7 1575.8 L1856.5 1578.3 L1857.3 1574.8 L1858.1 1580.1 L1858.8 1578.6 L1859.6 1575.1 L1860.4 1578.6 L1861.2 1576.4 L1862.0 1582.1 L1862.8 1579.2 L1863.6 1576.3 L1864.4 1578.6 L1865.2 1578.0 L1866.0 1580.7 L1866.8 1578.9 L1867.6 1579.2 L1868.4 1575.6 L1869.2 1579.8 L1870.0 1582.7 L1870.7 1579.5 L1871.5 1578.0 L1872.3 1578.5 L1873.1 1576.0 L1873.9 1578.5 L1874.7 1575.7 L1875.5 1578.2 L1876.3 1577.3 L1877.1 1576.3 L1877.9 1579.4 L1878.7 1574.8 L1879.5 1578.0 L1880.3 1575.2 L1881.1 1582.1 L1881.9 1582.4 L1882.6 1580.0 L1883.4 1582.3 L1884.2 1579.4 L1885.0 1579.3 L1885.8 1577.2 L1886.6 1576.1 L1887.4 1578.4 L1888.2 1576.9 L1889.0 1577.2 L1889.8 1579.7 L1890.6 1577.8 L1891.4 1574.7 L1892.2 1577.6 L1893.0 1576.4 L1893.8 1577.5 L1894.5 1575.7 L1895.3 1580.7 L1896.1 1582.3 L1896.9 1575.7 L1897.7 1579.5 L1898.5 1579.4 L1899.3 1575.8 L1900.1 1578.3 L1900.9 1581.2 L1901.7 1579.9 L1902.5 1581.6 L1903.3 1575.5 L1904.1 1576.5 L1904.9 1578.7 L1905.7 1578.9 L1906.5 1578.1 L1907.2 1577.2 L1908.0 1577.2 L1908.8 1576.8 L1909.6 1579.1 L1910.4 1572.1 L1911.2 1581.6 L1912.0 1576.9 L1912.8 1575.0 L1913.6 1579.3 L1914.4 1575.0 L1915.2 1578.9 L1916.0 1577.2 L1916.8 1579.3 L1917.6 1579.8 L1918.4 1580.9 L1919.1 1577.0 L1919.9 1577.4 L1920.7 1578.0 L1921.5 1575.0 L1922.3 1579.3 L1923.1 1578.3 L1923.9 1575.1 L1924.7 1580.7 L1925.5 1581.0 L1926.3 1575.2 L1927.1 1579.3 L1927.9 1580.8 L1928.7 1579.9 L1929.5 1575.9 L1930.3 1575.0 L1931.0 1577.8 L1931.8 1577.0 L1932.6 1578.0 L1933.4 1577.8 L1934.2 1579.2 L1935.0 1576.8 L1935.8 1577.7 L1936.6 1584.4 L1937.4 1577.7 L1938.2 1579.6 L1939.0 1578.6 L1939.8 1578.5 L1940.6 1576.1 L1941.4 1579.2 L1942.2 1577.9 L1942.9 1579.8 L1943.7 1582.4 L1944.5 1578.4 L1945.3 1579.7 L1946.1 1575.8 L1946.9 1578.3 L1947.7 1581.4 L1948.5 1577.9 L1949.3 1576.6 L1950.1 1578.5 L1950.9 1577.6 L1951.7 1577.5 L1952.5 1577.2 L1953.3 1582.3 L1954.1 1576.2 L1954.8 1577.2 L1955.6 1576.9 L1956.4 1580.8 L1957.2 1577.5 L1958.0 1580.9 L1958.8 1578.5 L1959.6 1578.1 L1960.4 1575.0 L1961.2 1580.8 L1962.0 1579.4 L1962.8 1579.1 L1963.6 1578.0 L1964.4 1577.4 L1965.2 1575.5 L1966.0 1580.3 L1966.7 1578.9 L1967.5 1577.5 L1968.3 1577.0 L1969.1 1578.6 L1969.9 1578.2 L1970.7 1581.9 L1971.5 1580.0 L1972.3 1577.1 L1973.1 1576.0 L1973.9 1577.9 L1974.7 1576.5 L1975.5 1578.6 L1976.3 1579.3 L1977.1 1579.8 L1977.9 1579.4 L1978.6 1578.1 L1979.4 1579.8 L1980.2 1576.6 L1981.0 1578.4 L1981.8 1580.3 L1982.6 1579.2 L1983.4 1575.9 L1984.2 1576.2 L1985.0 1575.2 L1985.8 1582.5 L1986.6 1575.4 L1987.4 1578.4 L1988.2 1582.6 L1989.0 1581.0 L1989.8 1581.5 L1990.6 1577.7 L1991.3 1580.3 L1992.1 1585.3 L1992.9 1578.7 L1993.7 1579.7 L1994.5 1578.1 L1995.3 1578.8 L1996.1 1579.6 L1996.9 1581.8 L1997.7 1577.0 L1998.5 1575.9 L1999.3 1579.0 L2000.1 1579.4 L2000.9 1581.9 L2001.7 1580.5 L2002.5 1577.6 L2003.2 1580.2 L2004.0 1581.4 L2004.8 1579.6 L2005.6 1578.3 L2006.4 1580.5 L2007.2 1578.3 L2008.0 1575.1 L2008.8 1581.9 L2009.6 1576.4 L2010.4 1578.4 L2011.2 1578.4 L2012.0 1578.4 L2012.8 1578.5 L2013.6 1576.1 L2014.4 1580.3 L2015.1 1579.2 L2015.9 1579.3 L2016.7 1581.5 L2017.5 1581.5 L2018.3 1582.1 L2019.1 1583.2 L2019.9 1580.2 L2020.7 1576.0 L2021.5 1579.7 L2022.3 1579.3 L2023.1 1579.5 L2023.9 1578.1 L2024.7 1577.5 L2025.5 1581.0 L2026.3 1581.4 L2027.0 1577.0 L2027.8 1580.5 L2028.6 1579.1 L2029.4 1578.6 L2030.2 1580.9 L2031.0 1579.3 L2031.8 1578.3 L2032.6 1579.6 L2033.4 1575.3 L2034.2 1578.3 L2035.0 1578.6 L2035.8 1576.6 L2036.6 1579.9 L2037.4 1580.1 L2038.2 1578.3 L2038.9 1579.2 L2039.7 1581.0 L2040.5 1581.8 L2041.3 1578.0 L2042.1 1580.3 L2042.9 1581.8 L2043.7 1579.6 L2044.5 1578.0 L2045.3 1578.1 L2046.1 1579.0 L2046.9 1577.5 L2047.7 1583.9 L2048.5 1578.5 L2049.3 1580.5 L2050.1 1580.1 L2050.8 1581.1 L2051.6 1579.0 L2052.4 1577.1 L2053.2 1583.2 L2054.0 1579.6 L2054.8 1580.1 L2055.6 1580.2 L2056.4 1582.5 L2057.2 1581.5 L2058.0 1582.3 L2058.8 1581.6 L2059.6 1580.2 L2060.4 1580.4 L2061.2 1578.4 L2062.0 1575.9 L2062.8 1579.4 L2063.5 1577.6 L2064.3 1585.3 L2065.1 1583.1 L2065.9 1582.2 L2066.7 1578.6 L2067.5 1584.0 L2068.3 1576.2 L2069.1 1577.2 L2069.9 1578.0 L2070.7 1577.6 L2071.5 1579.9 L2072.3 1580.0 L2073.1 1583.5 L2073.9 1581.6 L2074.7 1582.0 L2075.4 1580.3 L2076.2 1579.1 L2077.0 1577.9 L2077.8 1576.2 L2078.6 1577.5 L2079.4 1578.5 L2080.2 1580.8 L2081.0 1575.7 L2081.8 1576.4 L2082.6 1579.6 L2083.4 1577.0 L2084.2 1579.8 L2085.0 1578.2 L2085.8 1577.5 L2086.6 1576.2 L2087.3 1578.8 L2088.1 1577.4 L2088.9 1577.6 L2089.7 1577.6 L2090.5 1579.2 L2091.3 1579.1 L2092.1 1575.2 L2092.9 1578.4 L2093.7 1579.6 L2094.5 1580.8 L2095.3 1580.3 L2096.1 1579.1 L2096.9 1576.2 L2097.7 1577.0 L2098.5 1580.4 L2099.2 1577.0 L2100.0 1580.6 L2100.8 1581.1 L2101.6 1576.2 L2102.4 1579.3 L2103.2 1578.1 L2104.0 1582.5 L2104.8 1580.0 L2105.6 1577.2 L2106.4 1579.0 L2107.2 1576.3 L2108.0 1577.8 L2108.8 1578.5 L2109.6 1578.3 L2110.4 1578.6 L2111.1 1576.1 L2111.9 1574.1 L2112.7 1577.1 L2113.5 1576.0 L2114.3 1576.3 L2115.1 1582.1 L2115.9 1580.1 L2116.7 1577.3 L2117.5 1574.7 L2118.3 1574.9 L2119.1 1578.3 L2119.9 1579.8 L2120.7 1577.0 L2121.5 1577.8 L2122.3 1578.0 L2123.0 1579.7 L2123.8 1573.6 L2124.6 1577.8 L2125.4 1578.2 L2126.2 1579.3 L2127.0 1578.1 L2127.8 1575.0 L2128.6 1576.0 L2129.4 1574.0 L2130.2 1577.4 L2131.0 1577.2 L2131.8 1577.7 L2132.6 1574.5 L2133.4 1573.9 L2134.2 1578.9 L2134.9 1575.8 L2135.7 1578.3 L2136.5 1575.1 L2137.3 1570.6 L2138.1 1574.2 L2138.9 1574.0 L2139.7 1569.7 L2140.5 1565.8 L2141.3 1569.4 L2142.1 1566.6 L2142.9 1566.2 L2143.7 1560.0 L2144.5 1565.0 L2145.3 1559.1 L2146.1 1562.7 L2146.9 1566.4 L2147.6 1562.5 L2148.4 1563.6 L2149.2 1567.4 L2150.0 1572.6 L2150.8 1573.8 L2151.6 1570.7 L2152.4 1574.8 L2153.2 1574.9 L2154.0 1575.1 L2154.8 1575.9 L2155.6 1574.3 L2156.4 1577.8 L2157.2 1578.7 L2158.0 1582.3 L2158.8 1578.9 L2159.5 1572.4 L2160.3 1575.0 L2161.1 1578.3 L2161.9 1577.9 L2162.7 1574.1 L2163.5 1577.6 L2164.3 1577.3 L2165.1 1578.0 L2165.9 1577.9 L2166.7 1580.0 L2167.5 1581.2 L2168.3 1579.7 L2169.1 1576.1 L2169.9 1576.6 L2170.7 1577.1 L2171.4 1578.3 L2172.2 1577.6 L2173.0 1577.8 L2173.8 1576.7 L2174.6 1580.5 L2175.4 1580.3 L2176.2 1580.6 L2177.0 1578.5" fill="none" stroke="#000000" stroke-width="2.5" stroke-linejoin="round"/><path d="M391.9 1000.7 L392.6 998.0 L393.4 998.6 L394.2 990.4 L395.0 1008.3 L395.8 1005.7 L396.6 999.8 L397.4 1004.6 L398.2 1002.7 L399.0 999.5 L399.8 1006.0 L400.6 1000.9 L401.4 1001.0 L402.2 999.3 L403.0 1004.6 L403.8 1002.5 L404.5 1005.4 L405.3 1000.8 L406.1 1004.1 L406.9 1000.1 L407.7 1007.4 L408.5 1004.9 L409.3 1005.7 L410.1 1006.2 L410.9 1000.6 L411.7 1008.1 L412.5 1013.5 L413.3 998.7 L414.1 998.5 L414.9 999.6 L415.7 1009.4 L416.4 1006.7 L417.2 1010.7 L418.0 1009.5 L418.8 1007.6 L419.6 1008.1 L420.4 1006.4 L421.2 1010.8 L422.0 1003.0 L422.8 1006.0 L423.6 1008.9 L424.4 1015.4 L425.2 1005.3 L426.0 1004.2 L426.8 1006.5 L427.6 1012.8 L428.3 1008.2 L429.1 1014.6 L429.9 1002.0 L430.7 1014.2 L431.5 1014.1 L432.3 1004.4 L433.1 1010.8 L433.9 1015.1 L434.7 1010.8 L435.5 1014.5 L436.3 1020.1 L437.1 1011.8 L437.9 1009.8 L438.7 1007.9 L439.5 1013.7 L440.2 1010.5 L441.0 1010.6 L441.8 1011.1 L442.6 1014.2 L443.4 1007.5 L444.2 1005.8 L445.0 1002.4 L445.8 1016.8 L446.6 1012.5 L447.4 1018.2 L448.2 1012.4 L449.0 1009.6 L449.8 1014.5 L450.6 1012.5 L451.4 1008.0 L452.1 1009.6 L452.9 1020.0 L453.7 1014.6 L454.5 1015.0 L455.3 1012.4 L456.1 1010.9 L456.9 1017.2 L457.7 1013.4 L458.5 1011.0 L459.3 1013.6 L460.1 1010.7 L460.9 1015.1 L461.7 1018.8 L462.5 1011.3 L463.3 1020.2 L464.0 1012.2 L464.8 1015.5 L465.6 1011.8 L466.4 1014.3 L467.2 1015.5 L468.0 1013.7 L468.8 1012.8 L469.6 1013.0 L470.4 1012.6 L471.2 1009.9 L472.0 1014.9 L472.8 1017.5 L473.6 1019.5 L474.4 1018.6 L475.2 1025.6 L476.0 1017.5 L476.7 1014.7 L477.5 1023.6 L478.3 1012.6 L479.1 1020.3 L479.9 1013.1 L480.7 1018.1 L481.5 1009.5 L482.3 1020.3 L483.1 1016.4 L483.9 1013.5 L484.7 1023.5 L485.5 1020.1 L486.3 1017.5 L487.1 1014.6 L487.9 1017.3 L488.6 1017.0 L489.4 1020.3 L490.2 1020.7 L491.0 1015.3 L491.8 1015.8 L492.6 1016.0 L493.4 1013.0 L494.2 1015.9 L495.0 1017.8 L495.8 1020.8 L496.6 1023.2 L497.4 1015.4 L498.2 1020.5 L499.0 1016.9 L499.8 1026.2 L500.5 1018.5 L501.3 1020.6 L502.1 1015.4 L502.9 1016.0 L503.7 1019.7 L504.5 1017.7 L505.3 1020.4 L506.1 1013.5 L506.9 1021.7 L507.7 1016.1 L508.5 1025.7 L509.3 1018.5 L510.1 1023.6 L510.9 1014.6 L511.7 1021.2 L512.4 1016.5 L513.2 1018.0 L514.0 1019.9 L514.8 1018.7 L515.6 1020.8 L516.4 1022.6 L517.2 1022.2 L518.0 1019.6 L518.8 1015.1 L519.6 1017.1 L520.4 1019.3 L521.2 1012.5 L522.0 1022.7 L522.8 1019.2 L523.6 1019.2 L524.3 1023.5 L525.1 1022.5 L525.9 1021.0 L526.7 1016.7 L527.5 1021.3 L528.3 1021.5 L529.1 1017.2 L529.9 1024.0 L530.7 1022.1 L531.5 1013.4 L532.3 1020.8 L533.1 1015.9 L533.9 1024.3 L534.7 1023.2 L535.5 1016.5 L536.2 1017.3 L537.0 1020.7 L537.8 1019.5 L538.6 1025.7 L539.4 1022.9 L540.2 1019.4 L541.0 1022.3 L541.8 1013.3 L542.6 1021.4 L543.4 1023.3 L544.2 1019.6 L545.0 1017.8 L545.8 1022.1 L546.6 1026.8 L547.4 1020.8 L548.1 1016.2 L548.9 1024.8 L549.7 1013.5 L550.5 1021.5 L551.3 1017.7 L552.1 1022.6 L552.9 1016.4 L553.7 1023.5 L554.5 1019.8 L555.3 1012.9 L556.1 1011.8 L556.9 1017.0 L557.7 1021.9 L558.5 1017.6 L559.3 1017.0 L560.1 1015.4 L560.8 1017.9 L561.6 1016.0 L562.4 1014.8 L563.2 1009.8 L564.0 1015.2 L564.8 1014.1 L565.6 1004.3 L566.4 1012.2 L567.2 1004.3 L568.0 996.4 L568.8 986.0 L569.6 980.7 L570.4 962.7 L571.2 935.0 L572.0 896.6 L572.7 850.7 L573.5 795.0 L574.3 747.6 L575.1 730.6 L575.9 749.8 L576.7 796.2 L577.5 849.4 L578.3 898.6 L579.1 933.6 L579.9 962.1 L580.7 977.9 L581.5 987.5 L582.3 993.6 L583.1 1003.7 L583.9 1005.9 L584.6 1008.6 L585.4 1012.5 L586.2 1009.1 L587.0 1009.3 L587.8 1008.8 L588.6 1014.1 L589.4 1018.3 L590.2 1016.2 L591.0 1019.3 L591.8 1014.2 L592.6 1017.0 L593.4 1016.5 L594.2 1015.4 L595.0 1025.5 L595.8 1022.7 L596.5 1018.0 L597.3 1018.2 L598.1 1020.8 L598.9 1016.6 L599.7 1022.8 L600.5 1017.6 L601.3 1020.7 L602.1 1018.9 L602.9 1020.8 L603.7 1018.3 L604.5 1017.7 L605.3 1019.8 L606.1 1020.9 L606.9 1022.3 L607.7 1023.6 L608.4 1028.4 L609.2 1026.3 L610.0 1023.0 L610.8 1026.3 L611.6 1021.9 L612.4 1028.8 L613.2 1026.0 L614.0 1020.0 L614.8 1026.9 L615.6 1027.2 L616.4 1016.1 L617.2 1022.3 L618.0 1023.3 L618.8 1018.7 L619.6 1021.6 L620.3 1022.0 L621.1 1026.8 L621.9 1026.2 L622.7 1033.7 L623.5 1024.1 L624.3 1029.2 L625.1 1025.8 L625.9 1026.5 L626.7 1022.0 L627.5 1019.7 L628.3 1023.4 L629.1 1028.4 L629.9 1031.1 L630.7 1028.0 L631.5 1027.7 L632.3 1023.5 L633.0 1031.2 L633.8 1030.6 L634.6 1024.7 L635.4 1026.3 L636.2 1023.4 L637.0 1031.3 L637.8 1028.0 L638.6 1026.5 L639.4 1028.1 L640.2 1028.3 L641.0 1025.7 L641.8 1023.1 L642.6 1023.0 L643.4 1021.6 L644.2 1028.7 L644.9 1034.3 L645.7 1022.0 L646.5 1027.9 L647.3 1028.8 L648.1 1024.4 L648.9 1028.3 L649.7 1024.2 L650.5 1031.6 L651.3 1026.0 L652.1 1028.2 L652.9 1030.2 L653.7 1026.7 L654.5 1022.5 L655.3 1026.6 L656.1 1030.8 L656.8 1028.1 L657.6 1029.2 L658.4 1025.2 L659.2 1029.1 L660.0 1031.0 L660.8 1028.9 L661.6 1034.9 L662.4 1028.3 L663.2 1025.8 L664.0 1024.0 L664.8 1032.9 L665.6 1029.1 L666.4 1032.6 L667.2 1030.9 L668.0 1034.7 L668.7 1033.6 L669.5 1028.5 L670.3 1030.6 L671.1 1033.3 L671.9 1026.0 L672.7 1034.6 L673.5 1033.9 L674.3 1033.2 L675.1 1029.6 L675.9 1031.2 L676.7 1026.8 L677.5 1030.6 L678.3 1028.6 L679.1 1030.8 L679.9 1029.1 L680.6 1031.6 L681.4 1034.5 L682.2 1026.7 L683.0 1033.8 L683.8 1024.7 L684.6 1024.3 L685.4 1030.7 L686.2 1031.1 L687.0 1032.6 L687.8 1026.1 L688.6 1031.1 L689.4 1031.7 L690.2 1035.2 L691.0 1030.9 L691.8 1032.9 L692.5 1028.1 L693.3 1030.5 L694.1 1029.7 L694.9 1033.2 L695.7 1027.8 L696.5 1028.2 L697.3 1032.4 L698.1 1036.0 L698.9 1031.4 L699.7 1030.9 L700.5 1028.6 L701.3 1032.5 L702.1 1030.3 L702.9 1033.1 L703.7 1027.7 L704.4 1022.2 L705.2 1020.3 L706.0 1014.2 L706.8 1005.5 L707.6 999.2 L708.4 983.0 L709.2 965.8 L710.0 962.7 L710.8 967.6 L711.6 980.2 L712.4 997.5 L713.2 1008.5 L714.0 1014.9 L714.8 1016.7 L715.6 1025.4 L716.4 1027.9 L717.1 1020.6 L717.9 1030.7 L718.7 1031.5 L719.5 1028.7 L720.3 1030.9 L721.1 1030.0 L721.9 1028.5 L722.7 1030.2 L723.5 1035.6 L724.3 1027.2 L725.1 1032.5 L725.9 1032.5 L726.7 1029.8 L727.5 1030.7 L728.3 1027.9 L729.0 1029.6 L729.8 1032.4 L730.6 1033.6 L731.4 1029.9 L732.2 1042.2 L733.0 1031.2 L733.8 1033.5 L734.6 1032.5 L735.4 1032.1 L736.2 1037.5 L737.0 1032.1 L737.8 1037.8 L738.6 1037.3 L739.4 1030.7 L740.2 1037.2 L740.9 1032.2 L741.7 1042.7 L742.5 1033.2 L743.3 1031.6 L744.1 1028.7 L744.9 1030.8 L745.7 1033.0 L746.5 1031.9 L747.3 1031.3 L748.1 1033.0 L748.9 1034.6 L749.7 1039.8 L750.5 1030.3 L751.3 1033.9 L752.1 1032.8 L752.8 1031.1 L753.6 1032.0 L754.4 1033.2 L755.2 1038.3 L756.0 1035.6 L756.8 1034.7 L757.6 1038.3 L758.4 1037.4 L759.2 1035.9 L760.0 1037.9 L760.8 1034.3 L761.6 1038.8 L762.4 1038.4 L763.2 1035.9 L764.0 1033.5 L764.7 1042.0 L765.5 1037.7 L766.3 1046.8 L767.1 1035.6 L767.9 1040.3 L768.7 1036.5 L769.5 1038.7 L770.3 1040.5 L771.1 1035.6 L771.9 1037.8 L772.7 1038.6 L773.5 1038.5 L774.3 1040.1 L775.1 1041.4 L775.9 1040.9 L776.6 1039.2 L777.4 1037.4 L778.2 1035.1 L779.0 1036.4 L779.8 1037.1 L780.6 1040.8 L781.4 1037.7 L782.2 1035.1 L783.0 1040.8 L783.8 1036.5 L784.6 1036.7 L785.4 1038.4 L786.2 1040.6 L787.0 1031.9 L787.8 1035.9 L788.5 1039.9 L789.3 1038.3 L790.1 1036.8 L790.9 1037.9 L791.7 1043.7 L792.5 1038.2 L793.3 1041.8 L794.1 1042.1 L794.9 1038.4 L795.7 1041.2 L796.5 1038.5 L797.3 1038.1 L798.1 1036.6 L798.9 1042.7 L799.7 1038.9 L800.5 1038.5 L801.2 1036.8 L802.0 1045.7 L802.8 1042.6 L803.6 1040.0 L804.4 1038.4 L805.2 1035.9 L806.0 1041.4 L806.8 1041.5 L807.6 1036.4 L808.4 1044.2 L809.2 1043.0 L810.0 1037.7 L810.8 1038.9 L811.6 1039.3 L812.4 1041.0 L813.1 1040.0 L813.9 1035.5 L814.7 1044.8 L815.5 1041.3 L816.3 1044.0 L817.1 1043.9 L817.9 1039.5 L818.7 1041.1 L819.5 1042.2 L820.3 1042.2 L821.1 1039.3 L821.9 1037.9 L822.7 1039.7 L823.5 1037.1 L824.3 1037.6 L825.0 1033.1 L825.8 1039.1 L826.6 1035.5 L827.4 1036.5 L828.2 1037.5 L829.0 1038.0 L829.8 1041.5 L830.6 1035.3 L831.4 1028.5 L832.2 1028.7 L833.0 1020.5 L833.8 1013.6 L834.6 999.9 L835.4 989.0 L836.2 984.4 L836.9 989.1 L837.7 997.7 L838.5 1011.2 L839.3 1021.8 L840.1 1031.3 L840.9 1031.3 L841.7 1033.4 L842.5 1037.5 L843.3 1038.2 L844.1 1041.9 L844.9 1039.4 L845.7 1038.0 L846.5 1042.2 L847.3 1043.0 L848.1 1037.3 L848.8 1039.3 L849.6 1034.0 L850.4 1038.0 L851.2 1036.5 L852.0 1038.6 L852.8 1037.9 L853.6 1038.8 L854.4 1039.1 L855.2 1040.9 L856.0 1040.1 L856.8 1037.9 L857.6 1035.8 L858.4 1043.2 L859.2 1043.7 L860.0 1038.3 L860.7 1041.3 L861.5 1035.2 L862.3 1035.1 L863.1 1038.9 L863.9 1044.0 L864.7 1036.6 L865.5 1037.3 L866.3 1044.4 L867.1 1034.2 L867.9 1041.6 L868.7 1041.2 L869.5 1039.2 L870.3 1040.3 L871.1 1047.4 L871.9 1036.5 L872.7 1038.9 L873.4 1039.1 L874.2 1037.8 L875.0 1035.9 L875.8 1044.5 L876.6 1040.5 L877.4 1034.7 L878.2 1037.8 L879.0 1041.0 L879.8 1041.0 L880.6 1035.6 L881.4 1039.6 L882.2 1040.6 L883.0 1041.0 L883.8 1041.0 L884.6 1034.5 L885.3 1045.2 L886.1 1040.5 L886.9 1045.1 L887.7 1048.2 L888.5 1039.5 L889.3 1036.5 L890.1 1042.7 L890.9 1039.7 L891.7 1039.1 L892.5 1037.5 L893.3 1045.4 L894.1 1039.4 L894.9 1036.7 L895.7 1039.6 L896.5 1037.6 L897.2 1041.5 L898.0 1040.0 L898.8 1038.2 L899.6 1043.1 L900.4 1039.6 L901.2 1043.7 L902.0 1045.3 L902.8 1040.7 L903.6 1040.0 L904.4 1042.5 L905.2 1044.6 L906.0 1042.2 L906.8 1042.7 L907.6 1042.3 L908.4 1043.4 L909.1 1044.4 L909.9 1040.6 L910.7 1041.4 L911.5 1043.0 L912.3 1041.1 L913.1 1043.5 L913.9 1044.7 L914.7 1043.2 L915.5 1041.6 L916.3 1041.2 L917.1 1048.6 L917.9 1046.2 L918.7 1040.6 L919.5 1041.5 L920.3 1049.3 L921.0 1048.4 L921.8 1044.5 L922.6 1047.6 L923.4 1040.1 L924.2 1044.5 L925.0 1046.7 L925.8 1039.3 L926.6 1042.5 L927.4 1047.1 L928.2 1048.1 L929.0 1043.3 L929.8 1045.9 L930.6 1049.7 L931.4 1044.1 L932.2 1041.4 L932.9 1045.1 L933.7 1044.2 L934.5 1049.1 L935.3 1045.9 L936.1 1043.2 L936.9 1052.4 L937.7 1044.2 L938.5 1047.0 L939.3 1047.7 L940.1 1048.0 L940.9 1046.3 L941.7 1047.6 L942.5 1045.8 L943.3 1042.0 L944.1 1045.5 L944.8 1045.6 L945.6 1045.7 L946.4 1046.6 L947.2 1044.5 L948.0 1050.1 L948.8 1050.8 L949.6 1040.3 L950.4 1046.6 L951.2 1044.6 L952.0 1039.3 L952.8 1047.9 L953.6 1045.0 L954.4 1045.7 L955.2 1045.0 L956.0 1050.0 L956.8 1050.5 L957.5 1047.8 L958.3 1049.0 L959.1 1046.8 L959.9 1047.6 L960.7 1045.2 L961.5 1047.4 L962.3 1045.3 L963.1 1048.5 L963.9 1049.8 L964.7 1048.4 L965.5 1050.9 L966.3 1055.2 L967.1 1041.8 L967.9 1047.6 L968.7 1045.8 L969.4 1046.0 L970.2 1043.3 L971.0 1047.2 L971.8 1046.2 L972.6 1045.0 L973.4 1045.9 L974.2 1044.8 L975.0 1039.8 L975.8 1049.2 L976.6 1045.2 L977.4 1043.3 L978.2 1046.7 L979.0 1043.8 L979.8 1039.5 L980.6 1047.9 L981.3 1040.6 L982.1 1044.6 L982.9 1045.4 L983.7 1048.7 L984.5 1048.2 L985.3 1045.2 L986.1 1042.5 L986.9 1043.4 L987.7 1047.4 L988.5 1049.2 L989.3 1045.6 L990.1 1042.2 L990.9 1046.7 L991.7 1042.7 L992.5 1042.5 L993.2 1042.7 L994.0 1044.9 L994.8 1043.9 L995.6 1045.7 L996.4 1046.3 L997.2 1044.0 L998.0 1036.0 L998.8 1037.5 L999.6 1042.4 L1000.4 1041.6 L1001.2 1047.4 L1002.0 1041.1 L1002.8 1040.5 L1003.6 1043.1 L1004.4 1043.0 L1005.1 1039.1 L1005.9 1040.5 L1006.7 1035.6 L1007.5 1035.4 L1008.3 1040.3 L1009.1 1032.3 L1009.9 1036.9 L1010.7 1034.3 L1011.5 1031.7 L1012.3 1028.0 L1013.1 1021.6 L1013.9 1008.5 L1014.7 1000.9 L1015.5 989.3 L1016.3 976.7 L1017.0 960.5 L1017.8 949.1 L1018.6 944.4 L1019.4 949.3 L1020.2 957.9 L1021.0 971.0 L1021.8 986.4 L1022.6 993.6 L1023.4 1006.6 L1024.2 1011.7 L1025.0 1013.9 L1025.8 1019.3 L1026.6 1019.9 L1027.4 1023.8 L1028.2 1025.1 L1029.0 1028.3 L1029.7 1025.3 L1030.5 1026.0 L1031.3 1024.9 L1032.1 1026.7 L1032.9 1029.8 L1033.7 1023.2 L1034.5 1030.1 L1035.3 1027.8 L1036.1 1030.0 L1036.9 1031.3 L1037.7 1033.3 L1038.5 1032.5 L1039.3 1031.5 L1040.1 1034.0 L1040.9 1033.8 L1041.6 1033.8 L1042.4 1035.5 L1043.2 1037.7 L1044.0 1036.2 L1044.8 1036.7 L1045.6 1033.2 L1046.4 1036.6 L1047.2 1032.8 L1048.0 1040.4 L1048.8 1036.7 L1049.6 1043.3 L1050.4 1048.5 L1051.2 1040.0 L1052.0 1045.3 L1052.8 1043.3 L1053.5 1041.3 L1054.3 1041.0 L1055.1 1045.3 L1055.9 1048.1 L1056.7 1045.7 L1057.5 1041.2 L1058.3 1042.9 L1059.1 1045.6 L1059.9 1050.4 L1060.7 1047.9 L1061.5 1048.5 L1062.3 1051.4 L1063.1 1048.0 L1063.9 1048.7 L1064.7 1048.9 L1065.4 1045.1 L1066.2 1051.6 L1067.0 1051.9 L1067.8 1053.9 L1068.6 1048.4 L1069.4 1049.9 L1070.2 1055.1 L1071.0 1053.4 L1071.8 1056.1 L1072.6 1050.0 L1073.4 1052.8 L1074.2 1050.4 L1075.0 1053.0 L1075.8 1050.7 L1076.6 1053.4 L1077.3 1054.8 L1078.1 1053.6 L1078.9 1046.8 L1079.7 1054.2 L1080.5 1052.8 L1081.3 1048.7 L1082.1 1049.0 L1082.9 1051.3 L1083.7 1052.8 L1084.5 1049.9 L1085.3 1046.7 L1086.1 1051.8 L1086.9 1051.4 L1087.7 1057.4 L1088.5 1047.3 L1089.2 1057.5 L1090.0 1055.3 L1090.8 1051.3 L1091.6 1054.9 L1092.4 1050.6 L1093.2 1052.9 L1094.0 1048.2 L1094.8 1050.3 L1095.6 1047.2 L1096.4 1045.6 L1097.2 1049.0 L1098.0 1047.9 L1098.8 1051.1 L1099.6 1052.9 L1100.4 1048.9 L1101.1 1049.4 L1101.9 1049.7 L1102.7 1044.6 L1103.5 1049.7 L1104.3 1048.9 L1105.1 1048.6 L1105.9 1045.6 L1106.7 1043.1 L1107.5 1047.6 L1108.3 1048.9 L1109.1 1051.5 L1109.9 1050.6 L1110.7 1051.2 L1111.5 1047.9 L1112.3 1049.4 L1113.1 1044.9 L1113.8 1045.5 L1114.6 1043.8 L1115.4 1044.6 L1116.2 1034.4 L1117.0 1026.9 L1117.8 1030.8 L1118.6 1027.8 L1119.4 1033.3 L1120.2 1036.8 L1121.0 1038.5 L1121.8 1046.5 L1122.6 1045.9 L1123.4 1043.6 L1124.2 1045.8 L1125.0 1044.7 L1125.7 1047.6 L1126.5 1045.0 L1127.3 1044.0 L1128.1 1044.4 L1128.9 1044.9 L1129.7 1046.8 L1130.5 1043.6 L1131.3 1045.8 L1132.1 1047.1 L1132.9 1052.1 L1133.7 1048.1 L1134.5 1037.8 L1135.3 1044.3 L1136.1 1044.6 L1136.9 1046.4 L1137.6 1049.7 L1138.4 1047.4 L1139.2 1039.2 L1140.0 1046.1 L1140.8 1045.5 L1141.6 1046.2 L1142.4 1048.6 L1143.2 1042.0 L1144.0 1047.8 L1144.8 1040.4 L1145.6 1044.8 L1146.4 1045.7 L1147.2 1050.8 L1148.0 1042.8 L1148.8 1040.2 L1149.5 1046.5 L1150.3 1042.9 L1151.1 1048.8 L1151.9 1042.8 L1152.7 1042.3 L1153.5 1047.9 L1154.3 1044.8 L1155.1 1047.3 L1155.9 1040.8 L1156.7 1048.9 L1157.5 1043.0 L1158.3 1046.7 L1159.1 1041.8 L1159.9 1040.3 L1160.7 1043.7 L1161.4 1044.8 L1162.2 1048.4 L1163.0 1045.1 L1163.8 1046.0 L1164.6 1045.7 L1165.4 1051.9 L1166.2 1041.4 L1167.0 1046.4 L1167.8 1042.2 L1168.6 1042.4 L1169.4 1039.0 L1170.2 1041.6 L1171.0 1033.6 L1171.8 1031.2 L1172.6 1032.0 L1173.3 1029.0 L1174.1 1034.1 L1174.9 1036.5 L1175.7 1034.7 L1176.5 1040.5 L1177.3 1038.6 L1178.1 1041.4 L1178.9 1042.3 L1179.7 1047.7 L1180.5 1043.2 L1181.3 1041.0 L1182.1 1041.1 L1182.9 1046.6 L1183.7 1039.2 L1184.5 1042.2 L1185.2 1042.3 L1186.0 1036.8 L1186.8 1041.5 L1187.6 1044.7 L1188.4 1041.8 L1189.2 1037.7 L1190.0 1039.8 L1190.8 1037.2 L1191.6 1038.3 L1192.4 1029.8 L1193.2 1029.8 L1194.0 1031.6 L1194.8 1033.2 L1195.6 1036.2 L1196.4 1038.0 L1197.2 1038.3 L1197.9 1037.3 L1198.7 1040.9 L1199.5 1039.4 L1200.3 1040.6 L1201.1 1042.2 L1201.9 1045.1 L1202.7 1046.1 L1203.5 1041.3 L1204.3 1044.9 L1205.1 1046.2 L1205.9 1044.1 L1206.7 1040.0 L1207.5 1038.6 L1208.3 1046.3 L1209.1 1046.6 L1209.8 1045.1 L1210.6 1041.7 L1211.4 1048.3 L1212.2 1047.7 L1213.0 1044.5 L1213.8 1044.1 L1214.6 1039.6 L1215.4 1046.7 L1216.2 1040.6 L1217.0 1046.5 L1217.8 1046.6 L1218.6 1045.0 L1219.4 1048.8 L1220.2 1043.8 L1221.0 1046.1 L1221.7 1046.5 L1222.5 1044.9 L1223.3 1042.9 L1224.1 1046.7 L1224.9 1043.9 L1225.7 1041.2 L1226.5 1039.6 L1227.3 1037.8 L1228.1 1039.3 L1228.9 1030.0 L1229.7 1024.7 L1230.5 1019.2 L1231.3 1017.5 L1232.1 1017.7 L1232.9 1026.0 L1233.6 1030.3 L1234.4 1032.3 L1235.2 1034.7 L1236.0 1040.1 L1236.8 1041.4 L1237.6 1040.7 L1238.4 1045.6 L1239.2 1045.8 L1240.0 1045.8 L1240.8 1048.2 L1241.6 1044.8 L1242.4 1050.2 L1243.2 1044.3 L1244.0 1048.4 L1244.8 1048.9 L1245.5 1046.8 L1246.3 1048.5 L1247.1 1044.4 L1247.9 1044.0 L1248.7 1047.4 L1249.5 1046.2 L1250.3 1049.7 L1251.1 1048.3 L1251.9 1049.9 L1252.7 1049.3 L1253.5 1049.1 L1254.3 1048.9 L1255.1 1047.8 L1255.9 1047.6 L1256.7 1054.1 L1257.4 1044.5 L1258.2 1048.6 L1259.0 1051.7 L1259.8 1050.3 L1260.6 1052.9 L1261.4 1050.8 L1262.2 1046.2 L1263.0 1048.7 L1263.8 1046.0 L1264.6 1052.2 L1265.4 1053.4 L1266.2 1048.6 L1267.0 1051.2 L1267.8 1048.7 L1268.6 1046.1 L1269.4 1048.7 L1270.1 1045.8 L1270.9 1048.4 L1271.7 1050.4 L1272.5 1051.8 L1273.3 1053.3 L1274.1 1049.1 L1274.9 1050.6 L1275.7 1051.1 L1276.5 1051.5 L1277.3 1042.8 L1278.1 1048.1 L1278.9 1052.1 L1279.7 1047.3 L1280.5 1050.8 L1281.3 1052.3 L1282.0 1045.3 L1282.8 1049.7 L1283.6 1050.8 L1284.4 1050.3 L1285.2 1046.3 L1286.0 1051.2 L1286.8 1048.9 L1287.6 1052.4 L1288.4 1051.4 L1289.2 1048.9 L1290.0 1050.8 L1290.8 1048.6 L1291.6 1048.6 L1292.4 1046.4 L1293.2 1049.8 L1293.9 1052.5 L1294.7 1050.8 L1295.5 1050.4 L1296.3 1048.9 L1297.1 1049.2 L1297.9 1052.4 L1298.7 1046.7 L1299.5 1055.8 L1300.3 1050.4 L1301.1 1056.1 L1301.9 1053.6 L1302.7 1049.5 L1303.5 1052.5 L1304.3 1051.3 L1305.1 1051.9 L1305.8 1052.8 L1306.6 1049.4 L1307.4 1049.3 L1308.2 1049.9 L1309.0 1047.5 L1309.8 1050.4 L1310.6 1051.7 L1311.4 1051.8 L1312.2 1051.7 L1313.0 1050.3 L1313.8 1053.4 L1314.6 1046.2 L1315.4 1050.5 L1316.2 1050.7 L1317.0 1053.9 L1317.7 1053.3 L1318.5 1053.7 L1319.3 1051.8 L1320.1 1054.2 L1320.9 1049.4 L1321.7 1052.1 L1322.5 1046.7 L1323.3 1056.4 L1324.1 1056.2 L1324.9 1050.7 L1325.7 1050.1 L1326.5 1047.0 L1327.3 1048.5 L1328.1 1052.8 L1328.9 1052.1 L1329.6 1048.9 L1330.4 1051.4 L1331.2 1051.0 L1332.0 1053.9 L1332.8 1054.6 L1333.6 1052.3 L1334.4 1053.3 L1335.2 1053.0 L1336.0 1047.8 L1336.8 1053.6 L1337.6 1053.1 L1338.4 1055.2 L1339.2 1048.7 L1340.0 1055.3 L1340.8 1051.9 L1341.5 1054.2 L1342.3 1056.6 L1343.1 1050.0 L1343.9 1050.5 L1344.7 1056.3 L1345.5 1051.0 L1346.3 1051.5 L1347.1 1055.5 L1347.9 1053.5 L1348.7 1055.9 L1349.5 1054.6 L1350.3 1053.6 L1351.1 1056.0 L1351.9 1058.9 L1352.7 1053.1 L1353.5 1056.9 L1354.2 1055.9 L1355.0 1053.2 L1355.8 1054.0 L1356.6 1050.4 L1357.4 1051.1 L1358.2 1053.2 L1359.0 1052.2 L1359.8 1055.5 L1360.6 1048.9 L1361.4 1051.3 L1362.2 1050.3 L1363.0 1051.4 L1363.8 1054.5 L1364.6 1048.5 L1365.4 1053.5 L1366.1 1049.8 L1366.9 1050.3 L1367.7 1053.5 L1368.5 1050.2 L1369.3 1052.4 L1370.1 1050.9 L1370.9 1050.1 L1371.7 1049.5 L1372.5 1045.9 L1373.3 1048.3 L1374.1 1050.4 L1374.9 1050.4 L1375.7 1046.0 L1376.5 1052.1 L1377.3 1050.9 L1378.0 1046.1 L1378.8 1046.6 L1379.6 1050.3 L1380.4 1044.6 L1381.2 1047.0 L1382.0 1048.5 L1382.8 1048.2 L1383.6 1048.3 L1384.4 1049.2 L1385.2 1046.1 L1386.0 1046.8 L1386.8 1052.9 L1387.6 1044.2 L1388.4 1046.4 L1389.2 1047.6 L1389.9 1045.6 L1390.7 1050.0 L1391.5 1047.0 L1392.3 1048.5 L1393.1 1040.0 L1393.9 1049.1 L1394.7 1048.8 L1395.5 1043.8 L1396.3 1048.5 L1397.1 1045.6 L1397.9 1046.8 L1398.7 1048.4 L1399.5 1043.7 L1400.3 1040.4 L1401.1 1042.0 L1401.8 1038.1 L1402.6 1038.3 L1403.4 1037.2 L1404.2 1036.1 L1405.0 1038.9 L1405.8 1036.6 L1406.6 1031.1 L1407.4 1033.6 L1408.2 1025.8 L1409.0 1025.9 L1409.8 1024.9 L1410.6 1025.4 L1411.4 1022.4 L1412.2 1019.8 L1413.0 1019.4 L1413.7 1016.5 L1414.5 1016.1 L1415.3 1011.1 L1416.1 1008.6 L1416.9 1010.2 L1417.7 1012.0 L1418.5 1011.0 L1419.3 1012.4 L1420.1 1012.7 L1420.9 1013.2 L1421.7 1014.7 L1422.5 1012.9 L1423.3 1017.1 L1424.1 1014.2 L1424.9 1016.6 L1425.7 1014.7 L1426.4 1018.6 L1427.2 1014.8 L1428.0 1020.2 L1428.8 1014.6 L1429.6 1016.8 L1430.4 1015.2 L1431.2 1012.7 L1432.0 1015.3 L1432.8 1011.1 L1433.6 1013.2 L1434.4 1007.8 L1435.2 1007.3 L1436.0 1004.8 L1436.8 1008.8 L1437.6 1009.6 L1438.3 1009.0 L1439.1 1009.3 L1439.9 1009.3 L1440.7 1016.7 L1441.5 1015.6 L1442.3 1012.8 L1443.1 1017.7 L1443.9 1015.1 L1444.7 1025.5 L1445.5 1028.3 L1446.3 1029.1 L1447.1 1027.6 L1447.9 1027.9 L1448.7 1027.6 L1449.5 1033.5 L1450.2 1032.0 L1451.0 1034.1 L1451.8 1034.6 L1452.6 1036.3 L1453.4 1040.0 L1454.2 1042.6 L1455.0 1039.7 L1455.8 1040.0 L1456.6 1037.8 L1457.4 1038.1 L1458.2 1038.9 L1459.0 1044.0 L1459.8 1042.9 L1460.6 1045.0 L1461.4 1044.0 L1462.1 1042.4 L1462.9 1040.8 L1463.7 1043.2 L1464.5 1041.1 L1465.3 1049.5 L1466.1 1045.8 L1466.9 1044.6 L1467.7 1050.5 L1468.5 1045.2 L1469.3 1047.7 L1470.1 1046.4 L1470.9 1047.9 L1471.7 1046.3 L1472.5 1048.4 L1473.3 1050.7 L1474.0 1044.4 L1474.8 1042.2 L1475.6 1050.7 L1476.4 1048.0 L1477.2 1049.7 L1478.0 1046.9 L1478.8 1051.2 L1479.6 1051.8 L1480.4 1044.7 L1481.2 1048.9 L1482.0 1045.7 L1482.8 1043.2 L1483.6 1045.9 L1484.4 1047.6 L1485.2 1042.7 L1485.9 1042.5 L1486.7 1047.8 L1487.5 1044.6 L1488.3 1045.0 L1489.1 1041.2 L1489.9 1042.2 L1490.7 1043.9 L1491.5 1044.2 L1492.3 1044.5 L1493.1 1048.3 L1493.9 1045.7 L1494.7 1042.5 L1495.5 1044.7 L1496.3 1047.2 L1497.1 1050.8 L1497.8 1046.8 L1498.6 1048.0 L1499.4 1049.3 L1500.2 1048.1 L1501.0 1048.2 L1501.8 1049.8 L1502.6 1053.0 L1503.4 1052.0 L1504.2 1050.4 L1505.0 1052.2 L1505.8 1048.4 L1506.6 1053.9 L1507.4 1053.4 L1508.2 1052.5 L1509.0 1048.1 L1509.8 1056.8 L1510.5 1045.3 L1511.3 1049.9 L1512.1 1050.2 L1512.9 1054.1 L1513.7 1049.1 L1514.5 1053.3 L1515.3 1052.5 L1516.1 1052.2 L1516.9 1055.0 L1517.7 1056.5 L1518.5 1054.2 L1519.3 1052.7 L1520.1 1048.1 L1520.9 1057.0 L1521.7 1052.9 L1522.4 1049.4 L1523.2 1054.2 L1524.0 1057.3 L1524.8 1053.7 L1525.6 1051.4 L1526.4 1059.5 L1527.2 1055.8 L1528.0 1055.3 L1528.8 1056.9 L1529.6 1049.6 L1530.4 1054.6 L1531.2 1054.5 L1532.0 1060.2 L1532.8 1053.7 L1533.6 1053.8 L1534.3 1052.0 L1535.1 1053.4 L1535.9 1054.9 L1536.7 1056.1 L1537.5 1055.2 L1538.3 1060.4 L1539.1 1057.0 L1539.9 1057.4 L1540.7 1059.2 L1541.5 1057.6 L1542.3 1055.0 L1543.1 1052.7 L1543.9 1057.2 L1544.7 1054.5 L1545.5 1059.6 L1546.2 1054.9 L1547.0 1051.6 L1547.8 1056.9 L1548.6 1059.4 L1549.4 1056.5 L1550.2 1057.5 L1551.0 1057.6 L1551.8 1061.3 L1552.6 1058.1 L1553.4 1057.4 L1554.2 1056.1 L1555.0 1053.9 L1555.8 1061.0 L1556.6 1060.5 L1557.4 1055.7 L1558.1 1059.4 L1558.9 1058.9 L1559.7 1057.3 L1560.5 1057.6 L1561.3 1060.1 L1562.1 1055.7 L1562.9 1057.4 L1563.7 1058.5 L1564.5 1058.7 L1565.3 1058.3 L1566.1 1059.4 L1566.9 1060.2 L1567.7 1057.0 L1568.5 1059.4 L1569.3 1058.1 L1570.0 1062.8 L1570.8 1056.2 L1571.6 1059.0 L1572.4 1061.2 L1573.2 1059.1 L1574.0 1059.1 L1574.8 1058.7 L1575.6 1060.7 L1576.4 1057.4 L1577.2 1060.0 L1578.0 1060.0 L1578.8 1057.0 L1579.6 1061.1 L1580.4 1059.5 L1581.2 1061.4 L1581.9 1062.7 L1582.7 1061.5 L1583.5 1058.0 L1584.3 1061.4 L1585.1 1057.0 L1585.9 1058.9 L1586.7 1064.4 L1587.5 1060.6 L1588.3 1064.1 L1589.1 1060.1 L1589.9 1060.5 L1590.7 1058.0 L1591.5 1062.6 L1592.3 1060.0 L1593.1 1061.8 L1593.9 1061.4 L1594.6 1061.6 L1595.4 1061.1 L1596.2 1060.2 L1597.0 1060.3 L1597.8 1058.7 L1598.6 1055.5 L1599.4 1061.3 L1600.2 1064.9 L1601.0 1062.6 L1601.8 1065.4 L1602.6 1061.2 L1603.4 1058.0 L1604.2 1057.9 L1605.0 1061.8 L1605.8 1060.8 L1606.5 1059.7 L1607.3 1061.7 L1608.1 1058.0 L1608.9 1061.1 L1609.7 1059.3 L1610.5 1060.3 L1611.3 1062.6 L1612.1 1059.6 L1612.9 1062.9 L1613.7 1062.8 L1614.5 1058.1 L1615.3 1065.0 L1616.1 1057.0 L1616.9 1059.5 L1617.7 1061.4 L1618.4 1054.6 L1619.2 1062.0 L1620.0 1062.2 L1620.8 1059.4 L1621.6 1060.2 L1622.4 1060.2 L1623.2 1059.3 L1624.0 1062.3 L1624.8 1059.1 L1625.6 1060.0 L1626.4 1061.0 L1627.2 1062.1 L1628.0 1062.8 L1628.8 1057.1 L1629.6 1056.0 L1630.3 1060.3 L1631.1 1060.6 L1631.9 1058.4 L1632.7 1061.6 L1633.5 1062.4 L1634.3 1061.9 L1635.1 1064.8 L1635.9 1059.0 L1636.7 1061.4 L1637.5 1065.7 L1638.3 1063.0 L1639.1 1059.2 L1639.9 1062.2 L1640.7 1064.4 L1641.5 1066.5 L1642.2 1063.5 L1643.0 1064.7 L1643.8 1059.7 L1644.6 1061.7 L1645.4 1065.0 L1646.2 1060.4 L1647.0 1062.4 L1647.8 1058.5 L1648.6 1066.0 L1649.4 1062.6 L1650.2 1064.2 L1651.0 1059.7 L1651.8 1060.2 L1652.6 1067.2 L1653.4 1062.6 L1654.1 1062.2 L1654.9 1064.6 L1655.7 1064.8 L1656.5 1059.4 L1657.3 1061.6 L1658.1 1064.0 L1658.9 1064.0 L1659.7 1064.8 L1660.5 1063.2 L1661.3 1063.6 L1662.1 1064.8 L1662.9 1062.9 L1663.7 1062.7 L1664.5 1063.4 L1665.3 1064.7 L1666.1 1064.5 L1666.8 1063.8 L1667.6 1064.4 L1668.4 1065.0 L1669.2 1065.9 L1670.0 1066.0 L1670.8 1062.6 L1671.6 1067.6 L1672.4 1062.1 L1673.2 1066.8 L1674.0 1064.2 L1674.8 1067.1 L1675.6 1068.2 L1676.4 1061.9 L1677.2 1067.4 L1678.0 1066.8 L1678.7 1065.3 L1679.5 1067.2 L1680.3 1065.4 L1681.1 1066.8 L1681.9 1064.4 L1682.7 1068.4 L1683.5 1068.1 L1684.3 1068.5 L1685.1 1065.6 L1685.9 1071.1 L1686.7 1071.4 L1687.5 1067.1 L1688.3 1066.5 L1689.1 1066.6 L1689.9 1069.0 L1690.6 1069.9 L1691.4 1066.2 L1692.2 1063.5 L1693.0 1068.9 L1693.8 1067.9 L1694.6 1068.3 L1695.4 1069.0 L1696.2 1065.6 L1697.0 1068.1 L1697.8 1067.3 L1698.6 1068.7 L1699.4 1070.5 L1700.2 1067.9 L1701.0 1066.1 L1701.8 1070.6 L1702.5 1069.4 L1703.3 1067.5 L1704.1 1064.1 L1704.9 1066.1 L1705.7 1068.2 L1706.5 1069.1 L1707.3 1066.8 L1708.1 1068.8 L1708.9 1066.6 L1709.7 1067.0 L1710.5 1069.0 L1711.3 1067.3 L1712.1 1068.2 L1712.9 1069.7 L1713.7 1070.3 L1714.4 1066.6 L1715.2 1067.4 L1716.0 1065.1 L1716.8 1065.1 L1717.6 1068.5 L1718.4 1066.8 L1719.2 1064.0 L1720.0 1069.0 L1720.8 1066.1 L1721.6 1067.2 L1722.4 1068.7 L1723.2 1068.7 L1724.0 1067.7 L1724.8 1063.7 L1725.6 1069.0 L1726.3 1066.6 L1727.1 1064.9 L1727.9 1063.3 L1728.7 1070.6 L1729.5 1068.2 L1730.3 1068.1 L1731.1 1069.1 L1731.9 1067.7 L1732.7 1064.8 L1733.5 1069.3 L1734.3 1070.0 L1735.1 1068.9 L1735.9 1071.1 L1736.7 1071.8 L1737.5 1066.2 L1738.2 1067.0 L1739.0 1069.7 L1739.8 1068.2 L1740.6 1068.3 L1741.4 1069.8 L1742.2 1069.4 L1743.0 1067.0 L1743.8 1068.1 L1744.6 1066.4 L1745.4 1067.5 L1746.2 1065.6 L1747.0 1063.8 L1747.8 1066.9 L1748.6 1066.7 L1749.4 1069.7 L1750.2 1071.1 L1750.9 1067.9 L1751.7 1068.9 L1752.5 1066.6 L1753.3 1066.0 L1754.1 1067.3 L1754.9 1067.3 L1755.7 1068.5 L1756.5 1068.1 L1757.3 1071.3 L1758.1 1067.5 L1758.9 1064.5 L1759.7 1068.2 L1760.5 1066.6 L1761.3 1068.3 L1762.1 1070.2 L1762.8 1066.6 L1763.6 1067.8 L1764.4 1069.0 L1765.2 1066.0 L1766.0 1068.4 L1766.8 1069.0 L1767.6 1069.6 L1768.4 1070.2 L1769.2 1069.1 L1770.0 1068.7 L1770.8 1065.1 L1771.6 1062.5 L1772.4 1066.0 L1773.2 1070.8 L1774.0 1068.2 L1774.7 1063.4 L1775.5 1067.1 L1776.3 1068.7 L1777.1 1064.2 L1777.9 1069.1 L1778.7 1065.6 L1779.5 1070.0 L1780.3 1068.0 L1781.1 1074.2 L1781.9 1065.3 L1782.7 1068.5 L1783.5 1065.0 L1784.3 1070.3 L1785.1 1068.2 L1785.9 1069.8 L1786.6 1068.2 L1787.4 1065.6 L1788.2 1066.7 L1789.0 1065.5 L1789.8 1065.9 L1790.6 1068.3 L1791.4 1070.1 L1792.2 1069.7 L1793.0 1069.0 L1793.8 1066.8 L1794.6 1069.0 L1795.4 1066.3 L1796.2 1068.4 L1797.0 1069.7 L1797.8 1067.6 L1798.5 1067.0 L1799.3 1067.1 L1800.1 1069.2 L1800.9 1067.4 L1801.7 1065.1 L1802.5 1067.1 L1803.3 1065.8 L1804.1 1071.0 L1804.9 1068.0 L1805.7 1065.0 L1806.5 1068.5 L1807.3 1069.4 L1808.1 1068.7 L1808.9 1067.2 L1809.7 1068.2 L1810.4 1068.4 L1811.2 1069.9 L1812.0 1068.5 L1812.8 1072.3 L1813.6 1067.3 L1814.4 1070.8 L1815.2 1067.7 L1816.0 1064.3 L1816.8 1065.3 L1817.6 1064.0 L1818.4 1064.1 L1819.2 1069.9 L1820.0 1066.2 L1820.8 1068.7 L1821.6 1065.7 L1822.4 1067.4 L1823.1 1065.3 L1823.9 1069.1 L1824.7 1066.8 L1825.5 1066.4 L1826.3 1066.9 L1827.1 1071.5 L1827.9 1068.1 L1828.7 1068.8 L1829.5 1064.6 L1830.3 1065.8 L1831.1 1067.6 L1831.9 1063.3 L1832.7 1069.6 L1833.5 1067.5 L1834.3 1066.9 L1835.0 1066.5 L1835.8 1066.4 L1836.6 1065.8 L1837.4 1069.6 L1838.2 1068.1 L1839.0 1069.2 L1839.8 1066.1 L1840.6 1064.9 L1841.4 1069.3 L1842.2 1064.2 L1843.0 1065.4 L1843.8 1067.9 L1844.6 1068.7 L1845.4 1063.9 L1846.2 1065.9 L1846.9 1066.5 L1847.7 1066.1 L1848.5 1064.6 L1849.3 1067.7 L1850.1 1065.2 L1850.9 1065.8 L1851.7 1061.8 L1852.5 1066.0 L1853.3 1062.3 L1854.1 1067.5 L1854.9 1067.1 L1855.7 1065.1 L1856.5 1066.3 L1857.3 1066.2 L1858.1 1065.7 L1858.8 1066.6 L1859.6 1065.7 L1860.4 1064.9 L1861.2 1064.3 L1862.0 1069.1 L1862.8 1066.2 L1863.6 1065.7 L1864.4 1067.1 L1865.2 1064.9 L1866.0 1064.9 L1866.8 1066.9 L1867.6 1067.6 L1868.4 1066.9 L1869.2 1062.6 L1870.0 1065.6 L1870.7 1065.4 L1871.5 1066.3 L1872.3 1063.6 L1873.1 1063.3 L1873.9 1065.1 L1874.7 1063.5 L1875.5 1063.2 L1876.3 1065.1 L1877.1 1067.0 L1877.9 1065.4 L1878.7 1067.3 L1879.5 1063.1 L1880.3 1066.4 L1881.1 1065.0 L1881.9 1063.3 L1882.6 1064.1 L1883.4 1063.3 L1884.2 1064.5 L1885.0 1063.4 L1885.8 1067.3 L1886.6 1064.1 L1887.4 1062.0 L1888.2 1064.4 L1889.0 1065.5 L1889.8 1064.1 L1890.6 1066.3 L1891.4 1062.8 L1892.2 1062.9 L1893.0 1067.7 L1893.8 1064.5 L1894.5 1065.5 L1895.3 1065.4 L1896.1 1065.5 L1896.9 1064.5 L1897.7 1064.0 L1898.5 1066.4 L1899.3 1063.3 L1900.1 1064.5 L1900.9 1065.6 L1901.7 1063.4 L1902.5 1061.2 L1903.3 1065.0 L1904.1 1066.2 L1904.9 1064.6 L1905.7 1060.8 L1906.5 1065.2 L1907.2 1067.8 L1908.0 1061.0 L1908.8 1058.8 L1909.6 1063.6 L1910.4 1064.3 L1911.2 1065.7 L1912.0 1065.8 L1912.8 1064.4 L1913.6 1065.3 L1914.4 1065.0 L1915.2 1064.6 L1916.0 1064.3 L1916.8 1064.2 L1917.6 1065.9 L1918.4 1065.3 L1919.1 1063.8 L1919.9 1066.7 L1920.7 1063.3 L1921.5 1064.3 L1922.3 1065.0 L1923.1 1061.1 L1923.9 1064.1 L1924.7 1066.5 L1925.5 1066.5 L1926.3 1062.7 L1927.1 1063.4 L1927.9 1063.0 L1928.7 1064.6 L1929.5 1065.0 L1930.3 1062.1 L1931.0 1065.8 L1931.8 1065.4 L1932.6 1065.1 L1933.4 1064.0 L1934.2 1065.0 L1935.0 1062.0 L1935.8 1065.9 L1936.6 1065.9 L1937.4 1065.3 L1938.2 1063.3 L1939.0 1068.0 L1939.8 1067.8 L1940.6 1062.1 L1941.4 1066.5 L1942.2 1066.0 L1942.9 1060.9 L1943.7 1066.8 L1944.5 1067.1 L1945.3 1067.3 L1946.1 1066.3 L1946.9 1064.8 L1947.7 1065.1 L1948.5 1067.0 L1949.3 1068.3 L1950.1 1065.2 L1950.9 1065.7 L1951.7 1067.6 L1952.5 1062.2 L1953.3 1067.2 L1954.1 1065.9 L1954.8 1062.2 L1955.6 1067.9 L1956.4 1064.7 L1957.2 1068.0 L1958.0 1069.2 L1958.8 1064.2 L1959.6 1064.4 L1960.4 1066.7 L1961.2 1063.4 L1962.0 1068.1 L1962.8 1067.2 L1963.6 1068.7 L1964.4 1063.4 L1965.2 1067.3 L1966.0 1067.8 L1966.7 1063.6 L1967.5 1068.7 L1968.3 1064.5 L1969.1 1067.5 L1969.9 1064.7 L1970.7 1068.7 L1971.5 1070.5 L1972.3 1067.4 L1973.1 1067.4 L1973.9 1069.8 L1974.7 1066.6 L1975.5 1067.6 L1976.3 1069.1 L1977.1 1068.4 L1977.9 1070.6 L1978.6 1069.9 L1979.4 1071.3 L1980.2 1067.7 L1981.0 1069.9 L1981.8 1066.3 L1982.6 1069.6 L1983.4 1071.3 L1984.2 1072.4 L1985.0 1065.7 L1985.8 1067.8 L1986.6 1069.5 L1987.4 1066.5 L1988.2 1069.3 L1989.0 1069.3 L1989.8 1067.4 L1990.6 1067.3 L1991.3 1066.7 L1992.1 1069.0 L1992.9 1070.9 L1993.7 1069.1 L1994.5 1073.8 L1995.3 1065.8 L1996.1 1067.6 L1996.9 1070.0 L1997.7 1066.6 L1998.5 1069.4 L1999.3 1070.3 L2000.1 1069.2 L2000.9 1068.5 L2001.7 1070.7 L2002.5 1069.8 L2003.2 1070.4 L2004.0 1070.1 L2004.8 1067.8 L2005.6 1067.0 L2006.4 1068.4 L2007.2 1069.5 L2008.0 1068.9 L2008.8 1071.1 L2009.6 1069.8 L2010.4 1071.2 L2011.2 1069.6 L2012.0 1068.1 L2012.8 1071.1 L2013.6 1070.4 L2014.4 1068.0 L2015.1 1068.8 L2015.9 1074.9 L2016.7 1063.3 L2017.5 1071.8 L2018.3 1069.8 L2019.1 1069.6 L2019.9 1069.1 L2020.7 1068.7 L2021.5 1074.1 L2022.3 1068.8 L2023.1 1069.0 L2023.9 1071.1 L2024.7 1070.3 L2025.5 1069.2 L2026.3 1069.0 L2027.0 1067.0 L2027.8 1071.6 L2028.6 1067.5 L2029.4 1064.9 L2030.2 1071.5 L2031.0 1070.9 L2031.8 1070.1 L2032.6 1068.4 L2033.4 1071.7 L2034.2 1067.3 L2035.0 1065.2 L2035.8 1069.7 L2036.6 1070.9 L2037.4 1070.5 L2038.2 1073.2 L2038.9 1070.9 L2039.7 1068.9 L2040.5 1068.9 L2041.3 1070.9 L2042.1 1069.1 L2042.9 1069.0 L2043.7 1065.9 L2044.5 1068.6 L2045.3 1066.7 L2046.1 1069.6 L2046.9 1069.4 L2047.7 1070.5 L2048.5 1072.5 L2049.3 1068.8 L2050.1 1071.8 L2050.8 1066.9 L2051.6 1069.4 L2052.4 1070.9 L2053.2 1072.8 L2054.0 1066.9 L2054.8 1068.5 L2055.6 1069.3 L2056.4 1068.8 L2057.2 1067.2 L2058.0 1065.9 L2058.8 1066.6 L2059.6 1068.8 L2060.4 1066.4 L2061.2 1072.3 L2062.0 1071.2 L2062.8 1065.3 L2063.5 1067.9 L2064.3 1071.4 L2065.1 1071.6 L2065.9 1070.9 L2066.7 1066.1 L2067.5 1068.1 L2068.3 1071.2 L2069.1 1069.0 L2069.9 1067.9 L2070.7 1069.7 L2071.5 1070.6 L2072.3 1069.0 L2073.1 1069.2 L2073.9 1070.7 L2074.7 1067.6 L2075.4 1066.9 L2076.2 1070.1 L2077.0 1066.4 L2077.8 1069.6 L2078.6 1067.2 L2079.4 1070.2 L2080.2 1066.3 L2081.0 1070.7 L2081.8 1069.1 L2082.6 1068.0 L2083.4 1066.9 L2084.2 1068.2 L2085.0 1066.7 L2085.8 1066.2 L2086.6 1070.5 L2087.3 1069.6 L2088.1 1070.8 L2088.9 1065.9 L2089.7 1064.7 L2090.5 1065.4 L2091.3 1069.6 L2092.1 1069.9 L2092.9 1064.8 L2093.7 1070.3 L2094.5 1067.5 L2095.3 1066.0 L2096.1 1068.1 L2096.9 1069.3 L2097.7 1067.8 L2098.5 1067.9 L2099.2 1066.6 L2100.0 1065.5 L2100.8 1067.5 L2101.6 1065.1 L2102.4 1069.3 L2103.2 1066.5 L2104.0 1070.6 L2104.8 1065.1 L2105.6 1070.7 L2106.4 1066.4 L2107.2 1066.3 L2108.0 1068.6 L2108.8 1069.7 L2109.6 1067.9 L2110.4 1067.3 L2111.1 1071.7 L2111.9 1068.9 L2112.7 1065.6 L2113.5 1067.4 L2114.3 1071.0 L2115.1 1068.4 L2115.9 1069.4 L2116.7 1071.6 L2117.5 1066.6 L2118.3 1068.4 L2119.1 1066.4 L2119.9 1067.6 L2120.7 1068.6 L2121.5 1065.0 L2122.3 1067.7 L2123.0 1067.6 L2123.8 1069.3 L2124.6 1066.1 L2125.4 1064.8 L2126.2 1067.9 L2127.0 1064.9 L2127.8 1067.3 L2128.6 1068.0 L2129.4 1065.2 L2130.2 1066.5 L2131.0 1064.7 L2131.8 1061.2 L2132.6 1063.7 L2133.4 1062.4 L2134.2 1066.2 L2134.9 1064.0 L2135.7 1065.5 L2136.5 1065.5 L2137.3 1067.3 L2138.1 1064.4 L2138.9 1063.9 L2139.7 1065.1 L2140.5 1066.6 L2141.3 1062.8 L2142.1 1062.9 L2142.9 1061.1 L2143.7 1059.3 L2144.5 1056.8 L2145.3 1058.3 L2146.1 1057.0 L2146.9 1056.1 L2147.6 1059.1 L2148.4 1054.6 L2149.2 1055.5 L2150.0 1054.5 L2150.8 1057.6 L2151.6 1055.8 L2152.4 1060.3 L2153.2 1057.6 L2154.0 1060.4 L2154.8 1061.7 L2155.6 1060.4 L2156.4 1063.1 L2157.2 1062.3 L2158.0 1061.4 L2158.8 1062.0 L2159.5 1064.2 L2160.3 1067.2 L2161.1 1063.2 L2161.9 1065.3 L2162.7 1063.0 L2163.5 1065.0 L2164.3 1062.2 L2165.1 1063.2 L2165.9 1064.7 L2166.7 1063.4 L2167.5 1064.3 L2168.3 1066.7 L2169.1 1064.6 L2169.9 1063.5 L2170.7 1062.5 L2171.4 1063.8 L2172.2 1066.9 L2173.0 1064.6 L2173.8 1064.5 L2174.6 1066.1 L2175.4 1066.3 L2176.2 1066.6 L2177.0 1064.0" fill="none" stroke="#ff0000" stroke-width="2.5" stroke-linejoin="round"/><path d="M391.9 643.9 L392.6 628.5 L393.4 638.9 L394.2 635.8 L395.0 636.4 L395.8 637.5 L396.6 631.6 L397.4 637.9 L398.2 636.0 L399.0 650.5 L399.8 640.2 L400.6 638.5 L401.4 639.0 L402.2 637.9 L403.0 636.8 L403.8 639.3 L404.5 642.5 L405.3 640.4 L406.1 644.7 L406.9 641.0 L407.7 642.0 L408.5 647.4 L409.3 644.2 L410.1 640.9 L410.9 642.3 L411.7 645.0 L412.5 649.9 L413.3 642.7 L414.1 643.1 L414.9 647.5 L415.7 641.4 L416.4 643.6 L417.2 647.8 L418.0 647.1 L418.8 645.7 L419.6 647.9 L420.4 636.3 L421.2 649.5 L422.0 643.1 L422.8 641.0 L423.6 647.8 L424.4 649.4 L425.2 645.8 L426.0 644.0 L426.8 647.9 L427.6 647.9 L428.3 653.0 L429.1 651.1 L429.9 649.5 L430.7 652.8 L431.5 648.6 L432.3 646.5 L433.1 651.8 L433.9 652.0 L434.7 649.6 L435.5 647.9 L436.3 651.6 L437.1 642.6 L437.9 653.3 L438.7 652.7 L439.5 645.7 L440.2 651.4 L441.0 648.1 L441.8 653.9 L442.6 644.7 L443.4 648.5 L444.2 653.9 L445.0 655.5 L445.8 644.5 L446.6 650.1 L447.4 652.9 L448.2 649.9 L449.0 657.3 L449.8 648.1 L450.6 653.3 L451.4 648.7 L452.1 656.9 L452.9 652.2 L453.7 651.2 L454.5 646.8 L455.3 658.1 L456.1 655.1 L456.9 655.1 L457.7 656.5 L458.5 653.9 L459.3 650.8 L460.1 650.3 L460.9 650.4 L461.7 657.6 L462.5 648.3 L463.3 651.2 L464.0 652.2 L464.8 654.1 L465.6 655.3 L466.4 649.4 L467.2 647.8 L468.0 653.6 L468.8 657.7 L469.6 656.2 L470.4 654.5 L471.2 652.8 L472.0 654.9 L472.8 653.3 L473.6 656.9 L474.4 651.7 L475.2 654.8 L476.0 654.2 L476.7 656.4 L477.5 655.5 L478.3 663.2 L479.1 659.8 L479.9 659.9 L480.7 648.5 L481.5 654.2 L482.3 653.4 L483.1 657.2 L483.9 648.2 L484.7 659.5 L485.5 659.3 L486.3 651.7 L487.1 652.8 L487.9 653.5 L488.6 656.4 L489.4 658.4 L490.2 663.1 L491.0 655.9 L491.8 659.1 L492.6 657.3 L493.4 662.6 L494.2 659.4 L495.0 661.5 L495.8 653.7 L496.6 656.7 L497.4 654.7 L498.2 662.4 L499.0 659.7 L499.8 656.7 L500.5 656.3 L501.3 659.5 L502.1 655.7 L502.9 655.1 L503.7 659.8 L504.5 666.3 L505.3 657.6 L506.1 656.7 L506.9 654.9 L507.7 654.4 L508.5 660.5 L509.3 661.7 L510.1 659.1 L510.9 660.2 L511.7 659.6 L512.4 659.8 L513.2 654.5 L514.0 658.1 L514.8 660.0 L515.6 657.2 L516.4 658.3 L517.2 657.3 L518.0 659.0 L518.8 662.8 L519.6 658.9 L520.4 659.8 L521.2 663.0 L522.0 662.5 L522.8 665.8 L523.6 653.7 L524.3 663.1 L525.1 658.7 L525.9 660.6 L526.7 662.8 L527.5 663.5 L528.3 663.3 L529.1 660.5 L529.9 665.0 L530.7 658.9 L531.5 659.3 L532.3 662.2 L533.1 657.9 L533.9 666.4 L534.7 662.7 L535.5 666.3 L536.2 659.2 L537.0 658.0 L537.8 659.7 L538.6 661.3 L539.4 657.1 L540.2 660.0 L541.0 658.7 L541.8 663.7 L542.6 656.4 L543.4 661.6 L544.2 656.2 L545.0 655.0 L545.8 655.6 L546.6 654.0 L547.4 657.9 L548.1 660.4 L548.9 657.5 L549.7 658.6 L550.5 661.4 L551.3 657.0 L552.1 656.5 L552.9 654.7 L553.7 650.3 L554.5 656.9 L555.3 648.8 L556.1 655.3 L556.9 652.4 L557.7 654.6 L558.5 649.8 L559.3 645.9 L560.1 646.8 L560.8 640.9 L561.6 636.7 L562.4 629.0 L563.2 615.7 L564.0 596.1 L564.8 567.9 L565.6 532.6 L566.4 490.6 L567.2 457.0 L568.0 441.5 L568.8 458.1 L569.6 493.6 L570.4 531.6 L571.2 569.2 L572.0 596.9 L572.7 614.9 L573.5 631.0 L574.3 637.1 L575.1 639.0 L575.9 646.4 L576.7 649.2 L577.5 651.9 L578.3 649.5 L579.1 656.1 L579.9 657.4 L580.7 652.8 L581.5 654.9 L582.3 657.2 L583.1 656.3 L583.9 663.7 L584.6 659.6 L585.4 656.3 L586.2 657.3 L587.0 659.9 L587.8 667.3 L588.6 660.1 L589.4 661.3 L590.2 662.8 L591.0 661.3 L591.8 668.6 L592.6 660.3 L593.4 664.4 L594.2 662.8 L595.0 664.4 L595.8 659.1 L596.5 668.2 L597.3 662.6 L598.1 663.3 L598.9 660.5 L599.7 661.3 L600.5 665.4 L601.3 666.8 L602.1 666.2 L602.9 667.8 L603.7 666.4 L604.5 664.4 L605.3 667.1 L606.1 666.4 L606.9 664.5 L607.7 667.1 L608.4 669.0 L609.2 665.9 L610.0 664.2 L610.8 667.6 L611.6 671.4 L612.4 665.1 L613.2 665.6 L614.0 665.6 L614.8 669.9 L615.6 660.7 L616.4 667.6 L617.2 670.3 L618.0 664.3 L618.8 671.5 L619.6 668.7 L620.3 665.6 L621.1 668.0 L621.9 662.8 L622.7 665.9 L623.5 673.4 L624.3 665.2 L625.1 673.7 L625.9 668.0 L626.7 671.4 L627.5 668.6 L628.3 661.8 L629.1 667.0 L629.9 669.5 L630.7 665.5 L631.5 665.1 L632.3 670.4 L633.0 667.5 L633.8 664.4 L634.6 667.6 L635.4 672.5 L636.2 668.5 L637.0 672.9 L637.8 674.9 L638.6 670.4 L639.4 667.0 L640.2 666.6 L641.0 670.6 L641.8 673.5 L642.6 671.7 L643.4 672.7 L644.2 669.8 L644.9 679.0 L645.7 683.6 L646.5 684.0 L647.3 681.0 L648.1 680.0 L648.9 683.2 L649.7 681.2 L650.5 681.6 L651.3 686.3 L652.1 683.9 L652.9 692.8 L653.7 686.6 L654.5 681.8 L655.3 685.8 L656.1 684.3 L656.8 680.9 L657.6 685.9 L658.4 679.9 L659.2 672.8 L660.0 683.5 L660.8 678.8 L661.6 684.0 L662.4 676.8 L663.2 673.7 L664.0 679.0 L664.8 668.3 L665.6 666.0 L666.4 660.3 L667.2 645.3 L668.0 629.5 L668.7 612.3 L669.5 597.7 L670.3 590.1 L671.1 597.6 L671.9 613.0 L672.7 633.3 L673.5 644.8 L674.3 655.5 L675.1 667.9 L675.9 670.7 L676.7 676.1 L677.5 678.0 L678.3 682.5 L679.1 678.4 L679.9 680.9 L680.6 673.8 L681.4 678.5 L682.2 685.4 L683.0 678.6 L683.8 678.3 L684.6 676.4 L685.4 681.3 L686.2 679.7 L687.0 675.2 L687.8 680.2 L688.6 678.4 L689.4 679.4 L690.2 674.6 L691.0 681.1 L691.8 676.5 L692.5 674.3 L693.3 672.4 L694.1 672.5 L694.9 674.9 L695.7 670.9 L696.5 674.2 L697.3 671.9 L698.1 672.6 L698.9 668.8 L699.7 662.9 L700.5 653.3 L701.3 652.5 L702.1 646.4 L702.9 638.8 L703.7 637.0 L704.4 637.6 L705.2 644.0 L706.0 649.7 L706.8 661.8 L707.6 663.7 L708.4 665.4 L709.2 665.3 L710.0 670.2 L710.8 675.8 L711.6 673.7 L712.4 670.7 L713.2 677.5 L714.0 677.8 L714.8 676.8 L715.6 676.5 L716.4 677.8 L717.1 676.2 L717.9 677.1 L718.7 672.6 L719.5 679.6 L720.3 675.9 L721.1 681.4 L721.9 669.4 L722.7 677.7 L723.5 678.7 L724.3 674.9 L725.1 677.3 L725.9 678.3 L726.7 677.9 L727.5 674.7 L728.3 676.0 L729.0 679.6 L729.8 680.5 L730.6 677.1 L731.4 677.2 L732.2 677.7 L733.0 680.3 L733.8 674.2 L734.6 673.5 L735.4 678.0 L736.2 674.4 L737.0 676.1 L737.8 678.3 L738.6 679.6 L739.4 675.1 L740.2 680.8 L740.9 673.2 L741.7 680.3 L742.5 674.1 L743.3 675.1 L744.1 680.9 L744.9 677.9 L745.7 676.9 L746.5 678.1 L747.3 680.9 L748.1 679.5 L748.9 679.7 L749.7 683.0 L750.5 677.9 L751.3 678.7 L752.1 678.7 L752.8 683.9 L753.6 683.4 L754.4 684.4 L755.2 680.7 L756.0 680.4 L756.8 683.5 L757.6 680.0 L758.4 683.7 L759.2 683.5 L760.0 679.4 L760.8 681.4 L761.6 681.4 L762.4 687.0 L763.2 689.6 L764.0 681.8 L764.7 682.3 L765.5 675.6 L766.3 683.1 L767.1 682.6 L767.9 679.5 L768.7 685.1 L769.5 678.2 L770.3 682.2 L771.1 683.3 L771.9 679.2 L772.7 685.5 L773.5 686.1 L774.3 678.9 L775.1 678.8 L775.9 684.8 L776.6 682.9 L777.4 679.5 L778.2 682.2 L779.0 682.8 L779.8 682.7 L780.6 685.6 L781.4 684.3 L782.2 688.4 L783.0 687.2 L783.8 685.2 L784.6 686.4 L785.4 687.1 L786.2 685.3 L787.0 679.7 L787.8 685.8 L788.5 683.5 L789.3 688.1 L790.1 683.6 L790.9 684.9 L791.7 684.3 L792.5 688.3 L793.3 683.9 L794.1 682.6 L794.9 684.3 L795.7 682.2 L796.5 683.9 L797.3 683.4 L798.1 684.3 L798.9 689.1 L799.7 682.3 L800.5 683.6 L801.2 682.9 L802.0 685.5 L802.8 680.1 L803.6 681.5 L804.4 683.4 L805.2 685.2 L806.0 683.4 L806.8 682.1 L807.6 681.0 L808.4 685.1 L809.2 687.7 L810.0 684.4 L810.8 684.0 L811.6 684.7 L812.4 680.6 L813.1 682.4 L813.9 682.5 L814.7 684.1 L815.5 683.0 L816.3 679.5 L817.1 686.2 L817.9 687.7 L818.7 681.9 L819.5 683.6 L820.3 683.0 L821.1 684.2 L821.9 677.3 L822.7 685.6 L823.5 679.0 L824.3 682.6 L825.0 677.3 L825.8 672.7 L826.6 667.9 L827.4 662.4 L828.2 648.8 L829.0 640.5 L829.8 636.1 L830.6 638.1 L831.4 653.2 L832.2 661.7 L833.0 668.2 L833.8 676.7 L834.6 674.5 L835.4 678.9 L836.2 685.1 L836.9 683.8 L837.7 675.2 L838.5 672.4 L839.3 679.3 L840.1 685.5 L840.9 681.3 L841.7 682.2 L842.5 684.7 L843.3 680.5 L844.1 683.7 L844.9 685.5 L845.7 684.6 L846.5 684.5 L847.3 681.6 L848.1 684.9 L848.8 682.2 L849.6 687.2 L850.4 690.9 L851.2 681.3 L852.0 677.2 L852.8 682.2 L853.6 684.6 L854.4 686.5 L855.2 686.6 L856.0 681.2 L856.8 681.2 L857.6 687.1 L858.4 680.3 L859.2 686.6 L860.0 682.8 L860.7 685.6 L861.5 685.4 L862.3 685.6 L863.1 685.7 L863.9 680.5 L864.7 684.2 L865.5 683.4 L866.3 684.2 L867.1 686.8 L867.9 682.5 L868.7 681.2 L869.5 681.1 L870.3 682.3 L871.1 685.3 L871.9 680.8 L872.7 686.5 L873.4 683.9 L874.2 682.4 L875.0 679.2 L875.8 683.7 L876.6 685.0 L877.4 677.9 L878.2 686.3 L879.0 687.6 L879.8 683.8 L880.6 684.2 L881.4 689.6 L882.2 686.2 L883.0 680.1 L883.8 682.5 L884.6 682.0 L885.3 681.9 L886.1 675.5 L886.9 684.3 L887.7 680.1 L888.5 682.2 L889.3 681.1 L890.1 683.6 L890.9 680.0 L891.7 678.1 L892.5 681.3 L893.3 683.2 L894.1 677.8 L894.9 681.7 L895.7 678.0 L896.5 675.2 L897.2 680.0 L898.0 673.2 L898.8 677.7 L899.6 673.6 L900.4 676.2 L901.2 672.1 L902.0 673.6 L902.8 679.3 L903.6 677.6 L904.4 677.9 L905.2 677.3 L906.0 680.3 L906.8 675.7 L907.6 676.9 L908.4 680.0 L909.1 678.5 L909.9 679.1 L910.7 681.1 L911.5 681.1 L912.3 681.0 L913.1 686.4 L913.9 684.7 L914.7 685.3 L915.5 681.8 L916.3 680.5 L917.1 677.9 L917.9 681.0 L918.7 676.1 L919.5 680.4 L920.3 684.2 L921.0 686.7 L921.8 684.8 L922.6 679.7 L923.4 683.5 L924.2 679.9 L925.0 684.4 L925.8 681.8 L926.6 684.5 L927.4 689.4 L928.2 684.7 L929.0 688.7 L929.8 682.6 L930.6 681.1 L931.4 685.8 L932.2 686.9 L932.9 680.5 L933.7 682.2 L934.5 678.0 L935.3 681.4 L936.1 684.5 L936.9 681.7 L937.7 680.3 L938.5 678.0 L939.3 683.0 L940.1 684.2 L940.9 683.6 L941.7 682.6 L942.5 678.3 L943.3 686.8 L944.1 681.7 L944.8 681.4 L945.6 683.9 L946.4 675.7 L947.2 681.6 L948.0 681.5 L948.8 683.1 L949.6 686.0 L950.4 683.6 L951.2 677.3 L952.0 681.6 L952.8 683.3 L953.6 683.3 L954.4 679.4 L955.2 678.4 L956.0 684.8 L956.8 684.3 L957.5 683.5 L958.3 678.8 L959.1 688.8 L959.9 675.8 L960.7 683.0 L961.5 690.0 L962.3 683.9 L963.1 685.1 L963.9 681.3 L964.7 688.5 L965.5 681.2 L966.3 685.7 L967.1 685.5 L967.9 682.3 L968.7 687.8 L969.4 681.5 L970.2 683.7 L971.0 685.6 L971.8 684.7 L972.6 687.3 L973.4 688.7 L974.2 685.4 L975.0 684.8 L975.8 685.0 L976.6 685.6 L977.4 689.0 L978.2 686.2 L979.0 688.1 L979.8 686.8 L980.6 684.8 L981.3 689.5 L982.1 684.3 L982.9 687.2 L983.7 691.3 L984.5 684.2 L985.3 687.1 L986.1 682.8 L986.9 685.8 L987.7 683.1 L988.5 686.2 L989.3 685.7 L990.1 687.6 L990.9 691.5 L991.7 687.9 L992.5 688.9 L993.2 686.9 L994.0 686.3 L994.8 684.6 L995.6 681.9 L996.4 686.9 L997.2 691.0 L998.0 687.7 L998.8 684.8 L999.6 690.5 L1000.4 684.5 L1001.2 683.7 L1002.0 681.6 L1002.8 681.7 L1003.6 682.9 L1004.4 687.7 L1005.1 680.4 L1005.9 676.0 L1006.7 673.5 L1007.5 669.0 L1008.3 658.0 L1009.1 651.1 L1009.9 638.7 L1010.7 623.8 L1011.5 611.9 L1012.3 605.7 L1013.1 610.3 L1013.9 625.0 L1014.7 639.5 L1015.5 648.5 L1016.3 662.4 L1017.0 670.0 L1017.8 676.8 L1018.6 679.8 L1019.4 680.4 L1020.2 683.8 L1021.0 684.9 L1021.8 685.2 L1022.6 681.0 L1023.4 678.5 L1024.2 684.8 L1025.0 682.9 L1025.8 688.4 L1026.6 690.0 L1027.4 689.2 L1028.2 687.8 L1029.0 689.3 L1029.7 692.5 L1030.5 687.6 L1031.3 692.4 L1032.1 692.0 L1032.9 691.1 L1033.7 694.5 L1034.5 688.8 L1035.3 693.6 L1036.1 688.7 L1036.9 689.3 L1037.7 688.7 L1038.5 693.0 L1039.3 689.4 L1040.1 692.3 L1040.9 689.2 L1041.6 695.4 L1042.4 697.7 L1043.2 693.5 L1044.0 697.5 L1044.8 694.7 L1045.6 699.3 L1046.4 693.8 L1047.2 689.4 L1048.0 697.9 L1048.8 693.7 L1049.6 691.3 L1050.4 692.5 L1051.2 689.9 L1052.0 694.0 L1052.8 691.5 L1053.5 698.6 L1054.3 696.4 L1055.1 690.1 L1055.9 690.5 L1056.7 693.2 L1057.5 689.5 L1058.3 694.5 L1059.1 694.7 L1059.9 692.8 L1060.7 693.4 L1061.5 696.3 L1062.3 698.9 L1063.1 699.1 L1063.9 695.2 L1064.7 697.4 L1065.4 693.1 L1066.2 696.3 L1067.0 692.6 L1067.8 697.3 L1068.6 691.9 L1069.4 692.7 L1070.2 695.4 L1071.0 696.9 L1071.8 691.6 L1072.6 694.0 L1073.4 695.9 L1074.2 696.2 L1075.0 693.3 L1075.8 695.9 L1076.6 695.0 L1077.3 699.5 L1078.1 697.3 L1078.9 692.1 L1079.7 689.6 L1080.5 695.8 L1081.3 698.7 L1082.1 695.9 L1082.9 697.7 L1083.7 693.9 L1084.5 691.5 L1085.3 697.1 L1086.1 695.3 L1086.9 696.8 L1087.7 691.1 L1088.5 695.3 L1089.2 693.0 L1090.0 696.8 L1090.8 692.9 L1091.6 692.8 L1092.4 692.8 L1093.2 697.6 L1094.0 694.2 L1094.8 692.0 L1095.6 691.2 L1096.4 691.0 L1097.2 697.6 L1098.0 688.7 L1098.8 691.1 L1099.6 694.9 L1100.4 696.2 L1101.1 692.4 L1101.9 694.5 L1102.7 694.0 L1103.5 694.1 L1104.3 690.9 L1105.1 694.2 L1105.9 689.4 L1106.7 691.6 L1107.5 683.6 L1108.3 687.6 L1109.1 681.2 L1109.9 680.3 L1110.7 685.4 L1111.5 682.9 L1112.3 687.1 L1113.1 684.4 L1113.8 692.3 L1114.6 689.1 L1115.4 686.9 L1116.2 690.9 L1117.0 693.2 L1117.8 689.1 L1118.6 692.7 L1119.4 696.9 L1120.2 693.8 L1121.0 691.5 L1121.8 690.0 L1122.6 693.1 L1123.4 687.5 L1124.2 683.4 L1125.0 689.7 L1125.7 688.6 L1126.5 696.1 L1127.3 691.7 L1128.1 688.7 L1128.9 688.2 L1129.7 692.5 L1130.5 688.9 L1131.3 689.5 L1132.1 690.8 L1132.9 691.2 L1133.7 691.2 L1134.5 691.2 L1135.3 694.3 L1136.1 695.3 L1136.9 686.3 L1137.6 697.5 L1138.4 690.9 L1139.2 693.8 L1140.0 688.4 L1140.8 691.2 L1141.6 690.8 L1142.4 690.5 L1143.2 692.4 L1144.0 691.7 L1144.8 687.3 L1145.6 689.6 L1146.4 691.8 L1147.2 691.7 L1148.0 689.0 L1148.8 689.2 L1149.5 689.5 L1150.3 687.0 L1151.1 686.5 L1151.9 694.1 L1152.7 688.8 L1153.5 690.1 L1154.3 687.9 L1155.1 693.3 L1155.9 694.5 L1156.7 689.2 L1157.5 691.2 L1158.3 687.8 L1159.1 694.4 L1159.9 692.2 L1160.7 687.5 L1161.4 692.9 L1162.2 690.5 L1163.0 690.6 L1163.8 690.4 L1164.6 687.6 L1165.4 687.8 L1166.2 690.6 L1167.0 688.7 L1167.8 686.1 L1168.6 693.5 L1169.4 687.3 L1170.2 686.0 L1171.0 685.1 L1171.8 688.1 L1172.6 688.2 L1173.3 685.8 L1174.1 686.7 L1174.9 680.2 L1175.7 682.6 L1176.5 682.0 L1177.3 683.1 L1178.1 684.4 L1178.9 678.5 L1179.7 691.7 L1180.5 682.4 L1181.3 686.0 L1182.1 687.9 L1182.9 688.6 L1183.7 687.6 L1184.5 680.0 L1185.2 685.1 L1186.0 690.2 L1186.8 686.2 L1187.6 686.1 L1188.4 683.0 L1189.2 692.4 L1190.0 690.7 L1190.8 687.2 L1191.6 689.3 L1192.4 689.4 L1193.2 686.8 L1194.0 689.1 L1194.8 690.5 L1195.6 691.3 L1196.4 693.2 L1197.2 690.0 L1197.9 688.7 L1198.7 691.0 L1199.5 688.3 L1200.3 686.7 L1201.1 693.0 L1201.9 689.0 L1202.7 690.3 L1203.5 691.7 L1204.3 687.1 L1205.1 691.7 L1205.9 691.2 L1206.7 689.8 L1207.5 691.1 L1208.3 688.1 L1209.1 684.3 L1209.8 689.3 L1210.6 687.6 L1211.4 692.2 L1212.2 690.6 L1213.0 688.5 L1213.8 690.0 L1214.6 693.3 L1215.4 692.7 L1216.2 690.8 L1217.0 691.0 L1217.8 689.3 L1218.6 689.6 L1219.4 691.4 L1220.2 689.4 L1221.0 690.1 L1221.7 685.7 L1222.5 682.8 L1223.3 680.2 L1224.1 679.4 L1224.9 678.5 L1225.7 673.3 L1226.5 666.9 L1227.3 668.1 L1228.1 678.1 L1228.9 682.7 L1229.7 682.7 L1230.5 691.6 L1231.3 691.4 L1232.1 695.5 L1232.9 693.9 L1233.6 695.9 L1234.4 694.9 L1235.2 692.0 L1236.0 694.2 L1236.8 693.4 L1237.6 697.6 L1238.4 693.2 L1239.2 692.0 L1240.0 698.0 L1240.8 699.5 L1241.6 700.5 L1242.4 699.8 L1243.2 693.3 L1244.0 695.6 L1244.8 696.2 L1245.5 697.8 L1246.3 692.5 L1247.1 698.3 L1247.9 699.2 L1248.7 696.3 L1249.5 699.0 L1250.3 701.8 L1251.1 698.8 L1251.9 701.4 L1252.7 701.2 L1253.5 699.7 L1254.3 699.6 L1255.1 697.6 L1255.9 701.7 L1256.7 697.3 L1257.4 696.7 L1258.2 700.2 L1259.0 696.5 L1259.8 699.5 L1260.6 701.1 L1261.4 698.5 L1262.2 698.5 L1263.0 700.6 L1263.8 700.2 L1264.6 694.2 L1265.4 694.8 L1266.2 701.5 L1267.0 699.1 L1267.8 692.7 L1268.6 694.6 L1269.4 698.1 L1270.1 695.5 L1270.9 699.1 L1271.7 698.1 L1272.5 699.1 L1273.3 694.9 L1274.1 699.4 L1274.9 702.8 L1275.7 695.7 L1276.5 701.1 L1277.3 700.2 L1278.1 699.3 L1278.9 697.5 L1279.7 694.6 L1280.5 695.3 L1281.3 699.5 L1282.0 700.0 L1282.8 700.6 L1283.6 699.9 L1284.4 699.7 L1285.2 696.2 L1286.0 694.2 L1286.8 697.8 L1287.6 698.5 L1288.4 697.4 L1289.2 693.3 L1290.0 695.8 L1290.8 693.4 L1291.6 697.5 L1292.4 694.4 L1293.2 696.6 L1293.9 697.8 L1294.7 697.3 L1295.5 700.4 L1296.3 694.1 L1297.1 691.3 L1297.9 699.2 L1298.7 700.3 L1299.5 700.4 L1300.3 697.4 L1301.1 698.0 L1301.9 697.0 L1302.7 693.3 L1303.5 695.1 L1304.3 697.8 L1305.1 695.0 L1305.8 701.3 L1306.6 692.5 L1307.4 695.3 L1308.2 699.2 L1309.0 694.8 L1309.8 693.4 L1310.6 692.8 L1311.4 694.4 L1312.2 700.0 L1313.0 697.2 L1313.8 697.4 L1314.6 694.8 L1315.4 698.2 L1316.2 696.3 L1317.0 693.6 L1317.7 694.8 L1318.5 696.4 L1319.3 698.8 L1320.1 695.7 L1320.9 697.2 L1321.7 701.1 L1322.5 694.1 L1323.3 693.0 L1324.1 698.7 L1324.9 697.4 L1325.7 696.2 L1326.5 697.2 L1327.3 695.7 L1328.1 698.0 L1328.9 695.9 L1329.6 698.8 L1330.4 694.0 L1331.2 694.9 L1332.0 697.4 L1332.8 696.0 L1333.6 699.0 L1334.4 697.2 L1335.2 696.0 L1336.0 698.0 L1336.8 696.2 L1337.6 693.7 L1338.4 694.9 L1339.2 695.8 L1340.0 696.7 L1340.8 698.2 L1341.5 700.3 L1342.3 699.5 L1343.1 702.6 L1343.9 701.4 L1344.7 697.9 L1345.5 702.5 L1346.3 701.4 L1347.1 697.4 L1347.9 699.4 L1348.7 701.4 L1349.5 699.3 L1350.3 701.3 L1351.1 699.9 L1351.9 700.7 L1352.7 698.2 L1353.5 700.0 L1354.2 698.2 L1355.0 700.8 L1355.8 695.0 L1356.6 700.1 L1357.4 702.4 L1358.2 700.8 L1359.0 699.3 L1359.8 700.7 L1360.6 697.1 L1361.4 696.9 L1362.2 697.9 L1363.0 698.2 L1363.8 700.7 L1364.6 695.8 L1365.4 700.2 L1366.1 693.6 L1366.9 695.2 L1367.7 696.6 L1368.5 699.0 L1369.3 694.2 L1370.1 689.9 L1370.9 695.2 L1371.7 693.0 L1372.5 689.0 L1373.3 686.7 L1374.1 684.0 L1374.9 680.7 L1375.7 675.0 L1376.5 662.8 L1377.3 659.9 L1378.0 648.8 L1378.8 645.1 L1379.6 649.3 L1380.4 655.8 L1381.2 668.3 L1382.0 674.3 L1382.8 677.8 L1383.6 682.4 L1384.4 685.3 L1385.2 687.6 L1386.0 691.2 L1386.8 688.8 L1387.6 694.5 L1388.4 690.7 L1389.2 690.6 L1389.9 693.1 L1390.7 686.1 L1391.5 688.4 L1392.3 691.7 L1393.1 690.0 L1393.9 689.6 L1394.7 690.1 L1395.5 687.3 L1396.3 687.8 L1397.1 684.5 L1397.9 682.7 L1398.7 689.1 L1399.5 683.4 L1400.3 683.1 L1401.1 687.0 L1401.8 685.3 L1402.6 680.9 L1403.4 680.0 L1404.2 679.9 L1405.0 677.1 L1405.8 679.2 L1406.6 677.2 L1407.4 676.1 L1408.2 676.3 L1409.0 675.1 L1409.8 676.1 L1410.6 674.3 L1411.4 667.0 L1412.2 671.0 L1413.0 666.1 L1413.7 664.6 L1414.5 667.6 L1415.3 664.2 L1416.1 664.1 L1416.9 665.9 L1417.7 662.2 L1418.5 661.3 L1419.3 663.0 L1420.1 664.3 L1420.9 662.8 L1421.7 659.1 L1422.5 660.7 L1423.3 661.8 L1424.1 665.7 L1424.9 664.2 L1425.7 664.6 L1426.4 665.8 L1427.2 663.7 L1428.0 665.8 L1428.8 666.6 L1429.6 664.7 L1430.4 667.4 L1431.2 669.4 L1432.0 667.2 L1432.8 671.8 L1433.6 672.6 L1434.4 674.2 L1435.2 671.5 L1436.0 674.2 L1436.8 677.9 L1437.6 677.5 L1438.3 675.1 L1439.1 678.1 L1439.9 681.4 L1440.7 679.0 L1441.5 680.7 L1442.3 686.3 L1443.1 681.2 L1443.9 682.2 L1444.7 681.2 L1445.5 683.0 L1446.3 688.8 L1447.1 686.1 L1447.9 684.6 L1448.7 686.1 L1449.5 689.0 L1450.2 691.6 L1451.0 688.9 L1451.8 693.0 L1452.6 690.9 L1453.4 693.5 L1454.2 694.5 L1455.0 695.3 L1455.8 693.5 L1456.6 694.7 L1457.4 696.8 L1458.2 693.1 L1459.0 697.1 L1459.8 698.4 L1460.6 700.2 L1461.4 698.1 L1462.1 698.2 L1462.9 699.4 L1463.7 697.5 L1464.5 698.8 L1465.3 700.3 L1466.1 700.1 L1466.9 697.0 L1467.7 698.8 L1468.5 694.6 L1469.3 701.5 L1470.1 698.4 L1470.9 700.2 L1471.7 697.0 L1472.5 699.4 L1473.3 700.5 L1474.0 701.6 L1474.8 696.0 L1475.6 700.8 L1476.4 698.0 L1477.2 695.9 L1478.0 697.9 L1478.8 695.0 L1479.6 693.5 L1480.4 691.0 L1481.2 691.3 L1482.0 689.2 L1482.8 687.6 L1483.6 685.6 L1484.4 687.1 L1485.2 690.3 L1485.9 693.9 L1486.7 693.1 L1487.5 698.0 L1488.3 696.4 L1489.1 695.3 L1489.9 700.2 L1490.7 697.4 L1491.5 701.1 L1492.3 703.1 L1493.1 700.3 L1493.9 701.1 L1494.7 707.3 L1495.5 702.3 L1496.3 702.5 L1497.1 703.9 L1497.8 701.9 L1498.6 702.1 L1499.4 703.3 L1500.2 697.0 L1501.0 705.9 L1501.8 700.3 L1502.6 700.3 L1503.4 704.2 L1504.2 703.1 L1505.0 700.2 L1505.8 703.7 L1506.6 700.6 L1507.4 701.7 L1508.2 699.9 L1509.0 701.6 L1509.8 704.5 L1510.5 703.9 L1511.3 704.4 L1512.1 705.9 L1512.9 703.8 L1513.7 702.4 L1514.5 703.4 L1515.3 707.9 L1516.1 704.2 L1516.9 705.0 L1517.7 704.1 L1518.5 704.9 L1519.3 705.4 L1520.1 704.4 L1520.9 704.2 L1521.7 702.8 L1522.4 702.7 L1523.2 705.6 L1524.0 706.4 L1524.8 706.9 L1525.6 704.9 L1526.4 702.9 L1527.2 706.3 L1528.0 706.3 L1528.8 701.5 L1529.6 706.9 L1530.4 706.4 L1531.2 708.9 L1532.0 702.6 L1532.8 702.2 L1533.6 707.0 L1534.3 701.2 L1535.1 703.6 L1535.9 702.9 L1536.7 703.1 L1537.5 701.1 L1538.3 704.9 L1539.1 707.8 L1539.9 706.6 L1540.7 706.6 L1541.5 704.8 L1542.3 709.0 L1543.1 707.0 L1543.9 708.2 L1544.7 702.3 L1545.5 706.7 L1546.2 703.3 L1547.0 706.8 L1547.8 706.5 L1548.6 703.5 L1549.4 706.5 L1550.2 708.8 L1551.0 707.3 L1551.8 707.6 L1552.6 704.3 L1553.4 704.8 L1554.2 703.8 L1555.0 706.7 L1555.8 709.1 L1556.6 707.5 L1557.4 706.5 L1558.1 704.0 L1558.9 707.6 L1559.7 706.1 L1560.5 702.4 L1561.3 702.8 L1562.1 706.0 L1562.9 704.8 L1563.7 710.6 L1564.5 707.0 L1565.3 704.6 L1566.1 705.9 L1566.9 710.6 L1567.7 704.9 L1568.5 708.9 L1569.3 708.1 L1570.0 710.5 L1570.8 708.4 L1571.6 706.4 L1572.4 708.5 L1573.2 707.5 L1574.0 709.6 L1574.8 707.3 L1575.6 711.9 L1576.4 707.3 L1577.2 708.6 L1578.0 706.2 L1578.8 707.9 L1579.6 707.8 L1580.4 708.1 L1581.2 709.6 L1581.9 706.3 L1582.7 705.6 L1583.5 709.9 L1584.3 706.7 L1585.1 705.7 L1585.9 709.7 L1586.7 708.8 L1587.5 701.1 L1588.3 706.1 L1589.1 708.6 L1589.9 708.6 L1590.7 705.6 L1591.5 710.1 L1592.3 704.8 L1593.1 705.9 L1593.9 706.7 L1594.6 706.3 L1595.4 708.0 L1596.2 708.4 L1597.0 706.0 L1597.8 709.1 L1598.6 704.4 L1599.4 705.4 L1600.2 709.6 L1601.0 705.9 L1601.8 708.0 L1602.6 704.6 L1603.4 704.9 L1604.2 705.2 L1605.0 705.7 L1605.8 704.5 L1606.5 705.2 L1607.3 706.6 L1608.1 707.7 L1608.9 705.3 L1609.7 706.6 L1610.5 707.2 L1611.3 702.9 L1612.1 701.9 L1612.9 709.0 L1613.7 708.4 L1614.5 705.7 L1615.3 706.4 L1616.1 703.6 L1616.9 702.7 L1617.7 706.5 L1618.4 702.6 L1619.2 707.9 L1620.0 704.5 L1620.8 706.7 L1621.6 710.4 L1622.4 710.3 L1623.2 705.7 L1624.0 708.7 L1624.8 704.1 L1625.6 705.2 L1626.4 707.3 L1627.2 709.6 L1628.0 705.4 L1628.8 707.9 L1629.6 707.0 L1630.3 704.1 L1631.1 706.6 L1631.9 710.2 L1632.7 706.8 L1633.5 708.2 L1634.3 709.0 L1635.1 705.6 L1635.9 710.0 L1636.7 710.6 L1637.5 710.9 L1638.3 710.3 L1639.1 706.5 L1639.9 706.4 L1640.7 706.0 L1641.5 705.8 L1642.2 706.1 L1643.0 710.0 L1643.8 711.1 L1644.6 706.6 L1645.4 709.8 L1646.2 705.4 L1647.0 707.5 L1647.8 706.1 L1648.6 704.8 L1649.4 708.5 L1650.2 708.6 L1651.0 707.6 L1651.8 707.5 L1652.6 706.5 L1653.4 708.4 L1654.1 707.5 L1654.9 709.4 L1655.7 706.3 L1656.5 709.5 L1657.3 710.1 L1658.1 711.8 L1658.9 711.4 L1659.7 709.6 L1660.5 707.8 L1661.3 705.4 L1662.1 709.4 L1662.9 712.5 L1663.7 713.1 L1664.5 704.2 L1665.3 708.1 L1666.1 709.0 L1666.8 707.6 L1667.6 710.3 L1668.4 710.0 L1669.2 708.9 L1670.0 710.0 L1670.8 706.7 L1671.6 708.1 L1672.4 708.4 L1673.2 712.3 L1674.0 706.9 L1674.8 710.0 L1675.6 712.2 L1676.4 710.5 L1677.2 712.4 L1678.0 709.3 L1678.7 711.7 L1679.5 712.8 L1680.3 715.7 L1681.1 712.5 L1681.9 714.1 L1682.7 711.2 L1683.5 711.4 L1684.3 714.6 L1685.1 712.6 L1685.9 714.4 L1686.7 713.0 L1687.5 716.0 L1688.3 716.7 L1689.1 709.9 L1689.9 715.7 L1690.6 712.7 L1691.4 712.9 L1692.2 711.7 L1693.0 713.5 L1693.8 709.7 L1694.6 710.5 L1695.4 710.5 L1696.2 712.7 L1697.0 714.1 L1697.8 713.7 L1698.6 712.9 L1699.4 710.9 L1700.2 708.5 L1701.0 713.1 L1701.8 712.6 L1702.5 713.0 L1703.3 715.3 L1704.1 711.9 L1704.9 711.9 L1705.7 707.5 L1706.5 713.6 L1707.3 712.3 L1708.1 710.9 L1708.9 713.3 L1709.7 710.3 L1710.5 711.4 L1711.3 716.6 L1712.1 714.1 L1712.9 714.5 L1713.7 714.1 L1714.4 713.9 L1715.2 713.0 L1716.0 717.4 L1716.8 712.5 L1717.6 714.2 L1718.4 712.2 L1719.2 712.0 L1720.0 707.7 L1720.8 708.8 L1721.6 716.0 L1722.4 715.9 L1723.2 711.9 L1724.0 712.8 L1724.8 714.1 L1725.6 710.8 L1726.3 716.6 L1727.1 710.8 L1727.9 711.4 L1728.7 707.2 L1729.5 716.1 L1730.3 713.1 L1731.1 716.4 L1731.9 711.0 L1732.7 713.8 L1733.5 713.2 L1734.3 713.5 L1735.1 717.4 L1735.9 717.8 L1736.7 716.0 L1737.5 712.4 L1738.2 715.1 L1739.0 716.0 L1739.8 714.4 L1740.6 714.4 L1741.4 714.3 L1742.2 711.5 L1743.0 713.8 L1743.8 716.7 L1744.6 711.3 L1745.4 713.6 L1746.2 715.1 L1747.0 710.6 L1747.8 713.2 L1748.6 710.0 L1749.4 712.3 L1750.2 710.6 L1750.9 711.7 L1751.7 712.6 L1752.5 713.0 L1753.3 713.2 L1754.1 708.7 L1754.9 716.9 L1755.7 713.1 L1756.5 711.4 L1757.3 712.4 L1758.1 714.4 L1758.9 711.7 L1759.7 712.9 L1760.5 712.8 L1761.3 714.9 L1762.1 712.3 L1762.8 714.8 L1763.6 714.6 L1764.4 713.6 L1765.2 716.4 L1766.0 714.0 L1766.8 711.6 L1767.6 714.6 L1768.4 714.2 L1769.2 713.9 L1770.0 714.5 L1770.8 718.8 L1771.6 714.6 L1772.4 715.0 L1773.2 713.6 L1774.0 716.8 L1774.7 714.1 L1775.5 712.6 L1776.3 711.7 L1777.1 715.3 L1777.9 715.8 L1778.7 711.1 L1779.5 712.8 L1780.3 715.6 L1781.1 716.3 L1781.9 711.6 L1782.7 713.4 L1783.5 715.9 L1784.3 713.2 L1785.1 713.3 L1785.9 713.1 L1786.6 711.6 L1787.4 714.3 L1788.2 714.8 L1789.0 711.4 L1789.8 714.4 L1790.6 716.4 L1791.4 714.6 L1792.2 716.1 L1793.0 713.1 L1793.8 716.9 L1794.6 712.6 L1795.4 718.0 L1796.2 713.3 L1797.0 712.7 L1797.8 712.4 L1798.5 713.3 L1799.3 713.2 L1800.1 712.8 L1800.9 713.5 L1801.7 709.8 L1802.5 705.6 L1803.3 685.5 L1804.1 686.5 L1804.9 681.9 L1805.7 680.6 L1806.5 677.1 L1807.3 676.1 L1808.1 670.1 L1808.9 667.1 L1809.7 666.7 L1810.4 663.8 L1811.2 664.4 L1812.0 662.4 L1812.8 669.5 L1813.6 676.0 L1814.4 691.8 L1815.2 701.4 L1816.0 712.3 L1816.8 710.6 L1817.6 711.6 L1818.4 718.3 L1819.2 715.4 L1820.0 711.1 L1820.8 711.0 L1821.6 714.9 L1822.4 712.8 L1823.1 715.2 L1823.9 712.7 L1824.7 713.6 L1825.5 714.5 L1826.3 711.9 L1827.1 710.1 L1827.9 711.6 L1828.7 712.6 L1829.5 713.6 L1830.3 713.8 L1831.1 713.8 L1831.9 715.0 L1832.7 712.2 L1833.5 716.7 L1834.3 717.9 L1835.0 714.7 L1835.8 714.3 L1836.6 716.4 L1837.4 715.2 L1838.2 714.3 L1839.0 713.6 L1839.8 712.4 L1840.6 711.6 L1841.4 715.2 L1842.2 716.2 L1843.0 711.8 L1843.8 713.7 L1844.6 714.3 L1845.4 713.0 L1846.2 712.3 L1846.9 713.1 L1847.7 709.9 L1848.5 713.7 L1849.3 713.3 L1850.1 718.0 L1850.9 715.7 L1851.7 713.1 L1852.5 713.8 L1853.3 717.2 L1854.1 717.0 L1854.9 714.2 L1855.7 713.5 L1856.5 710.9 L1857.3 713.1 L1858.1 713.5 L1858.8 712.3 L1859.6 717.2 L1860.4 710.1 L1861.2 713.5 L1862.0 714.6 L1862.8 714.6 L1863.6 717.1 L1864.4 711.0 L1865.2 712.3 L1866.0 713.9 L1866.8 714.0 L1867.6 713.0 L1868.4 712.2 L1869.2 715.8 L1870.0 711.6 L1870.7 712.6 L1871.5 716.6 L1872.3 717.1 L1873.1 715.4 L1873.9 712.0 L1874.7 712.0 L1875.5 711.9 L1876.3 711.4 L1877.1 712.9 L1877.9 716.2 L1878.7 714.1 L1879.5 712.2 L1880.3 712.1 L1881.1 711.3 L1881.9 716.0 L1882.6 709.7 L1883.4 714.2 L1884.2 710.8 L1885.0 711.5 L1885.8 710.7 L1886.6 715.5 L1887.4 713.4 L1888.2 719.0 L1889.0 711.5 L1889.8 711.4 L1890.6 714.7 L1891.4 714.7 L1892.2 713.0 L1893.0 709.6 L1893.8 716.4 L1894.5 714.7 L1895.3 714.3 L1896.1 712.4 L1896.9 714.8 L1897.7 712.4 L1898.5 713.6 L1899.3 713.1 L1900.1 716.0 L1900.9 712.6 L1901.7 712.8 L1902.5 715.6 L1903.3 713.9 L1904.1 713.4 L1904.9 713.0 L1905.7 715.3 L1906.5 712.2 L1907.2 714.4 L1908.0 717.4 L1908.8 714.2 L1909.6 711.9 L1910.4 711.1 L1911.2 713.7 L1912.0 711.0 L1912.8 710.3 L1913.6 711.9 L1914.4 711.2 L1915.2 715.1 L1916.0 710.5 L1916.8 716.5 L1917.6 711.9 L1918.4 713.6 L1919.1 714.7 L1919.9 713.8 L1920.7 714.8 L1921.5 711.4 L1922.3 708.9 L1923.1 713.0 L1923.9 710.1 L1924.7 712.3 L1925.5 715.3 L1926.3 713.1 L1927.1 712.3 L1927.9 711.3 L1928.7 712.9 L1929.5 713.2 L1930.3 710.4 L1931.0 714.1 L1931.8 711.4 L1932.6 714.0 L1933.4 712.7 L1934.2 715.5 L1935.0 715.3 L1935.8 713.6 L1936.6 713.4 L1937.4 714.5 L1938.2 716.3 L1939.0 715.7 L1939.8 714.0 L1940.6 714.3 L1941.4 716.8 L1942.2 710.6 L1942.9 714.8 L1943.7 712.0 L1944.5 716.4 L1945.3 712.9 L1946.1 713.6 L1946.9 711.7 L1947.7 713.9 L1948.5 715.4 L1949.3 717.2 L1950.1 711.5 L1950.9 713.1 L1951.7 721.6 L1952.5 715.8 L1953.3 714.0 L1954.1 715.0 L1954.8 708.9 L1955.6 717.2 L1956.4 714.4 L1957.2 711.3 L1958.0 716.4 L1958.8 712.9 L1959.6 712.1 L1960.4 715.2 L1961.2 715.0 L1962.0 713.3 L1962.8 714.1 L1963.6 711.6 L1964.4 711.4 L1965.2 716.0 L1966.0 716.8 L1966.7 715.1 L1967.5 715.0 L1968.3 713.5 L1969.1 714.1 L1969.9 712.5 L1970.7 717.8 L1971.5 713.3 L1972.3 715.2 L1973.1 714.4 L1973.9 711.7 L1974.7 718.2 L1975.5 713.7 L1976.3 712.9 L1977.1 714.7 L1977.9 712.7 L1978.6 714.5 L1979.4 712.6 L1980.2 715.6 L1981.0 714.6 L1981.8 711.9 L1982.6 716.5 L1983.4 714.9 L1984.2 712.4 L1985.0 715.3 L1985.8 715.4 L1986.6 718.2 L1987.4 713.0 L1988.2 716.3 L1989.0 714.5 L1989.8 715.9 L1990.6 714.2 L1991.3 714.6 L1992.1 715.7 L1992.9 712.4 L1993.7 710.7 L1994.5 714.7 L1995.3 713.9 L1996.1 715.0 L1996.9 716.0 L1997.7 714.4 L1998.5 717.1 L1999.3 714.8 L2000.1 715.1 L2000.9 716.5 L2001.7 716.0 L2002.5 714.7 L2003.2 715.2 L2004.0 713.5 L2004.8 713.8 L2005.6 715.2 L2006.4 716.6 L2007.2 714.1 L2008.0 716.6 L2008.8 718.7 L2009.6 719.1 L2010.4 715.0 L2011.2 716.9 L2012.0 716.1 L2012.8 716.4 L2013.6 716.5 L2014.4 715.8 L2015.1 716.4 L2015.9 715.2 L2016.7 714.3 L2017.5 715.3 L2018.3 715.7 L2019.1 717.1 L2019.9 715.4 L2020.7 716.1 L2021.5 717.4 L2022.3 712.9 L2023.1 714.2 L2023.9 715.7 L2024.7 714.7 L2025.5 712.7 L2026.3 716.5 L2027.0 714.4 L2027.8 712.6 L2028.6 718.2 L2029.4 712.0 L2030.2 714.5 L2031.0 713.2 L2031.8 714.7 L2032.6 715.5 L2033.4 712.8 L2034.2 714.2 L2035.0 714.1 L2035.8 712.4 L2036.6 716.6 L2037.4 714.6 L2038.2 713.7 L2038.9 713.0 L2039.7 713.6 L2040.5 714.5 L2041.3 713.3 L2042.1 716.6 L2042.9 709.3 L2043.7 710.0 L2044.5 713.6 L2045.3 710.6 L2046.1 714.0 L2046.9 712.8 L2047.7 715.2 L2048.5 714.8 L2049.3 716.5 L2050.1 715.7 L2050.8 716.4 L2051.6 715.0 L2052.4 716.0 L2053.2 714.9 L2054.0 712.8 L2054.8 711.5 L2055.6 711.5 L2056.4 714.7 L2057.2 709.3 L2058.0 714.1 L2058.8 712.3 L2059.6 715.1 L2060.4 714.1 L2061.2 712.3 L2062.0 713.7 L2062.8 709.3 L2063.5 714.1 L2064.3 714.5 L2065.1 710.1 L2065.9 715.2 L2066.7 713.3 L2067.5 713.9 L2068.3 710.8 L2069.1 714.6 L2069.9 714.6 L2070.7 713.4 L2071.5 711.5 L2072.3 714.8 L2073.1 715.7 L2073.9 714.1 L2074.7 715.2 L2075.4 712.2 L2076.2 713.6 L2077.0 714.0 L2077.8 713.5 L2078.6 718.6 L2079.4 714.0 L2080.2 712.1 L2081.0 714.7 L2081.8 711.1 L2082.6 713.8 L2083.4 714.6 L2084.2 712.1 L2085.0 712.4 L2085.8 711.2 L2086.6 713.2 L2087.3 711.7 L2088.1 716.2 L2088.9 714.1 L2089.7 712.5 L2090.5 710.2 L2091.3 716.6 L2092.1 715.2 L2092.9 713.6 L2093.7 713.1 L2094.5 713.0 L2095.3 711.7 L2096.1 716.1 L2096.9 712.9 L2097.7 709.8 L2098.5 711.2 L2099.2 707.6 L2100.0 713.7 L2100.8 713.9 L2101.6 715.7 L2102.4 716.3 L2103.2 710.9 L2104.0 713.2 L2104.8 714.2 L2105.6 713.7 L2106.4 711.2 L2107.2 713.6 L2108.0 713.0 L2108.8 714.5 L2109.6 711.9 L2110.4 711.4 L2111.1 710.8 L2111.9 711.0 L2112.7 710.1 L2113.5 710.8 L2114.3 712.2 L2115.1 712.0 L2115.9 713.5 L2116.7 712.9 L2117.5 711.9 L2118.3 708.5 L2119.1 711.4 L2119.9 712.3 L2120.7 707.7 L2121.5 707.9 L2122.3 708.0 L2123.0 707.6 L2123.8 708.8 L2124.6 707.5 L2125.4 709.7 L2126.2 706.6 L2127.0 708.4 L2127.8 707.6 L2128.6 706.7 L2129.4 710.1 L2130.2 708.2 L2131.0 709.1 L2131.8 707.5 L2132.6 709.3 L2133.4 709.2 L2134.2 707.9 L2134.9 705.1 L2135.7 709.8 L2136.5 709.7 L2137.3 708.9 L2138.1 709.2 L2138.9 709.2 L2139.7 709.5 L2140.5 707.6 L2141.3 709.5 L2142.1 710.4 L2142.9 709.0 L2143.7 708.6 L2144.5 713.9 L2145.3 711.9 L2146.1 710.5 L2146.9 710.4 L2147.6 706.8 L2148.4 709.2 L2149.2 711.6 L2150.0 714.6 L2150.8 708.7 L2151.6 711.4 L2152.4 716.3 L2153.2 714.2 L2154.0 714.0 L2154.8 715.6 L2155.6 713.3 L2156.4 713.4 L2157.2 715.2 L2158.0 715.5 L2158.8 712.1 L2159.5 717.1 L2160.3 711.1 L2161.1 713.2 L2161.9 720.3 L2162.7 713.7 L2163.5 716.0 L2164.3 713.0 L2165.1 714.4 L2165.9 713.7 L2166.7 714.4 L2167.5 716.4 L2168.3 718.5 L2169.1 717.0 L2169.9 718.3 L2170.7 714.6 L2171.4 718.3 L2172.2 716.7 L2173.0 718.2 L2173.8 715.0 L2174.6 715.4 L2175.4 718.4 L2176.2 717.0 L2177.0 716.1" fill="none" stroke="#0000ff" stroke-width="2.5" stroke-linejoin="round"/><path d="M391.9 361.7 L392.6 363.5 L393.4 370.1 L394.2 366.8 L395.0 358.8 L395.8 364.7 L396.6 362.7 L397.4 365.6 L398.2 359.6 L399.0 366.2 L399.8 366.4 L400.6 371.2 L401.4 367.0 L402.2 367.8 L403.0 361.0 L403.8 374.2 L404.5 359.8 L405.3 370.5 L406.1 365.7 L406.9 363.9 L407.7 364.9 L408.5 365.0 L409.3 368.8 L410.1 367.2 L410.9 373.0 L411.7 361.6 L412.5 368.1 L413.3 365.2 L414.1 371.1 L414.9 361.2 L415.7 367.5 L416.4 369.6 L417.2 363.9 L418.0 372.6 L418.8 370.0 L419.6 373.0 L420.4 373.0 L421.2 366.5 L422.0 367.2 L422.8 369.5 L423.6 372.9 L424.4 373.4 L425.2 368.2 L426.0 368.7 L426.8 368.2 L427.6 369.1 L428.3 370.5 L429.1 371.0 L429.9 378.7 L430.7 370.0 L431.5 370.9 L432.3 373.7 L433.1 368.9 L433.9 371.1 L434.7 372.6 L435.5 375.4 L436.3 368.3 L437.1 377.7 L437.9 371.9 L438.7 373.9 L439.5 376.4 L440.2 375.9 L441.0 377.4 L441.8 374.5 L442.6 374.0 L443.4 375.3 L444.2 370.9 L445.0 378.7 L445.8 372.0 L446.6 370.5 L447.4 382.0 L448.2 374.7 L449.0 371.2 L449.8 381.8 L450.6 374.5 L451.4 379.4 L452.1 373.0 L452.9 375.2 L453.7 370.4 L454.5 369.8 L455.3 373.2 L456.1 376.4 L456.9 379.5 L457.7 385.2 L458.5 373.6 L459.3 380.7 L460.1 375.3 L460.9 377.0 L461.7 372.7 L462.5 372.8 L463.3 375.4 L464.0 374.1 L464.8 378.3 L465.6 376.0 L466.4 382.7 L467.2 379.1 L468.0 379.2 L468.8 382.6 L469.6 380.6 L470.4 378.7 L471.2 378.6 L472.0 378.6 L472.8 382.7 L473.6 381.8 L474.4 380.5 L475.2 382.0 L476.0 377.6 L476.7 381.2 L477.5 374.8 L478.3 384.2 L479.1 380.0 L479.9 380.4 L480.7 381.9 L481.5 379.9 L482.3 379.1 L483.1 384.1 L483.9 380.5 L484.7 377.1 L485.5 381.8 L486.3 374.6 L487.1 386.0 L487.9 379.9 L488.6 380.7 L489.4 388.2 L490.2 388.0 L491.0 381.2 L491.8 383.0 L492.6 384.6 L493.4 386.7 L494.2 380.7 L495.0 381.6 L495.8 385.3 L496.6 382.2 L497.4 383.9 L498.2 383.5 L499.0 377.7 L499.8 378.7 L500.5 372.9 L501.3 380.9 L502.1 386.3 L502.9 378.2 L503.7 386.1 L504.5 385.4 L505.3 381.9 L506.1 382.2 L506.9 382.5 L507.7 379.5 L508.5 381.5 L509.3 382.3 L510.1 384.6 L510.9 385.2 L511.7 380.2 L512.4 385.5 L513.2 380.2 L514.0 382.3 L514.8 384.2 L515.6 382.9 L516.4 382.7 L517.2 384.0 L518.0 381.4 L518.8 381.1 L519.6 382.7 L520.4 386.6 L521.2 383.1 L522.0 389.8 L522.8 384.1 L523.6 373.6 L524.3 381.8 L525.1 388.6 L525.9 383.1 L526.7 381.5 L527.5 380.0 L528.3 387.1 L529.1 386.0 L529.9 384.8 L530.7 383.9 L531.5 387.1 L532.3 385.0 L533.1 378.2 L533.9 384.6 L534.7 382.6 L535.5 381.5 L536.2 384.3 L537.0 381.8 L537.8 372.0 L538.6 386.5 L539.4 384.7 L540.2 380.8 L541.0 379.8 L541.8 381.7 L542.6 376.6 L543.4 381.6 L544.2 379.7 L545.0 379.2 L545.8 377.2 L546.6 377.8 L547.4 383.3 L548.1 383.9 L548.9 381.0 L549.7 379.0 L550.5 376.1 L551.3 381.1 L552.1 383.7 L552.9 373.3 L553.7 381.9 L554.5 371.2 L555.3 376.6 L556.1 378.6 L556.9 372.7 L557.7 371.8 L558.5 376.5 L559.3 377.9 L560.1 373.0 L560.8 377.5 L561.6 369.9 L562.4 375.8 L563.2 369.0 L564.0 366.7 L564.8 364.0 L565.6 358.0 L566.4 354.0 L567.2 343.7 L568.0 326.0 L568.8 306.5 L569.6 283.1 L570.4 259.1 L571.2 239.2 L572.0 230.9 L572.7 239.3 L573.5 259.9 L574.3 284.8 L575.1 305.8 L575.9 324.2 L576.7 342.2 L577.5 352.4 L578.3 356.7 L579.1 366.7 L579.9 365.2 L580.7 369.1 L581.5 366.7 L582.3 376.0 L583.1 374.9 L583.9 379.2 L584.6 379.0 L585.4 378.0 L586.2 378.8 L587.0 382.6 L587.8 378.9 L588.6 379.4 L589.4 380.5 L590.2 383.1 L591.0 383.9 L591.8 387.3 L592.6 381.5 L593.4 386.0 L594.2 380.3 L595.0 384.5 L595.8 383.2 L596.5 388.5 L597.3 385.2 L598.1 382.1 L598.9 385.5 L599.7 385.0 L600.5 383.1 L601.3 383.4 L602.1 381.5 L602.9 393.3 L603.7 385.2 L604.5 388.0 L605.3 381.4 L606.1 381.8 L606.9 384.9 L607.7 385.1 L608.4 388.2 L609.2 382.7 L610.0 387.7 L610.8 390.9 L611.6 383.4 L612.4 389.3 L613.2 383.5 L614.0 387.8 L614.8 388.0 L615.6 392.4 L616.4 384.9 L617.2 387.7 L618.0 390.6 L618.8 383.7 L619.6 387.5 L620.3 384.9 L621.1 385.6 L621.9 390.1 L622.7 390.3 L623.5 396.3 L624.3 392.6 L625.1 392.5 L625.9 388.0 L626.7 387.7 L627.5 389.2 L628.3 381.7 L629.1 394.2 L629.9 387.0 L630.7 385.9 L631.5 387.9 L632.3 392.2 L633.0 393.4 L633.8 388.4 L634.6 391.1 L635.4 389.7 L636.2 386.8 L637.0 390.6 L637.8 390.3 L638.6 385.4 L639.4 393.9 L640.2 385.5 L641.0 391.3 L641.8 387.4 L642.6 388.3 L643.4 388.7 L644.2 393.3 L644.9 387.2 L645.7 390.6 L646.5 396.2 L647.3 389.3 L648.1 391.5 L648.9 393.8 L649.7 389.9 L650.5 393.4 L651.3 389.9 L652.1 394.3 L652.9 392.4 L653.7 389.4 L654.5 396.8 L655.3 392.2 L656.1 391.7 L656.8 389.8 L657.6 391.3 L658.4 392.6 L659.2 393.6 L660.0 396.6 L660.8 389.1 L661.6 392.2 L662.4 397.2 L663.2 394.1 L664.0 394.9 L664.8 398.6 L665.6 394.8 L666.4 395.2 L667.2 393.6 L668.0 399.3 L668.7 397.1 L669.5 391.6 L670.3 395.6 L671.1 390.3 L671.9 397.3 L672.7 396.0 L673.5 393.5 L674.3 392.7 L675.1 388.4 L675.9 396.4 L676.7 393.7 L677.5 393.1 L678.3 396.3 L679.1 392.0 L679.9 392.2 L680.6 391.9 L681.4 389.9 L682.2 401.5 L683.0 393.4 L683.8 392.9 L684.6 396.8 L685.4 384.2 L686.2 393.8 L687.0 393.9 L687.8 390.8 L688.6 395.2 L689.4 387.4 L690.2 393.5 L691.0 396.0 L691.8 386.3 L692.5 388.4 L693.3 392.0 L694.1 391.9 L694.9 389.4 L695.7 391.6 L696.5 390.2 L697.3 384.3 L698.1 386.4 L698.9 381.3 L699.7 377.0 L700.5 373.9 L701.3 380.3 L702.1 374.6 L702.9 376.9 L703.7 366.1 L704.4 366.6 L705.2 366.8 L706.0 365.2 L706.8 367.2 L707.6 367.9 L708.4 368.3 L709.2 366.8 L710.0 372.9 L710.8 382.6 L711.6 382.9 L712.4 387.1 L713.2 383.9 L714.0 386.9 L714.8 386.5 L715.6 391.5 L716.4 391.6 L717.1 393.7 L717.9 398.3 L718.7 391.0 L719.5 396.2 L720.3 390.1 L721.1 398.0 L721.9 393.5 L722.7 394.8 L723.5 395.6 L724.3 400.4 L725.1 395.4 L725.9 394.1 L726.7 392.2 L727.5 396.7 L728.3 393.4 L729.0 394.5 L729.8 396.1 L730.6 398.3 L731.4 394.2 L732.2 398.5 L733.0 401.9 L733.8 392.0 L734.6 400.8 L735.4 403.3 L736.2 395.0 L737.0 398.7 L737.8 392.7 L738.6 398.0 L739.4 396.1 L740.2 398.0 L740.9 394.4 L741.7 394.7 L742.5 395.9 L743.3 395.1 L744.1 395.5 L744.9 396.8 L745.7 394.1 L746.5 397.1 L747.3 399.0 L748.1 390.5 L748.9 398.2 L749.7 395.4 L750.5 394.3 L751.3 393.6 L752.1 395.2 L752.8 395.6 L753.6 398.9 L754.4 394.1 L755.2 401.2 L756.0 395.5 L756.8 400.2 L757.6 401.5 L758.4 394.4 L759.2 401.5 L760.0 405.0 L760.8 397.1 L761.6 400.3 L762.4 398.2 L763.2 398.9 L764.0 398.2 L764.7 397.3 L765.5 401.1 L766.3 401.6 L767.1 399.0 L767.9 403.7 L768.7 402.5 L769.5 401.3 L770.3 397.1 L771.1 405.1 L771.9 403.4 L772.7 392.9 L773.5 396.1 L774.3 398.1 L775.1 402.4 L775.9 403.4 L776.6 398.8 L777.4 400.5 L778.2 401.9 L779.0 395.9 L779.8 401.7 L780.6 399.0 L781.4 400.5 L782.2 399.8 L783.0 396.5 L783.8 397.1 L784.6 400.3 L785.4 400.6 L786.2 399.4 L787.0 403.5 L787.8 399.2 L788.5 396.6 L789.3 399.3 L790.1 399.9 L790.9 400.1 L791.7 404.0 L792.5 402.1 L793.3 403.8 L794.1 402.5 L794.9 400.2 L795.7 403.8 L796.5 400.0 L797.3 401.5 L798.1 397.8 L798.9 401.2 L799.7 399.9 L800.5 402.1 L801.2 406.5 L802.0 408.2 L802.8 404.1 L803.6 401.0 L804.4 403.6 L805.2 401.8 L806.0 399.3 L806.8 401.0 L807.6 400.5 L808.4 399.4 L809.2 405.4 L810.0 399.7 L810.8 399.8 L811.6 403.4 L812.4 399.2 L813.1 397.9 L813.9 398.8 L814.7 402.8 L815.5 402.5 L816.3 402.2 L817.1 399.9 L817.9 398.5 L818.7 403.9 L819.5 396.9 L820.3 400.5 L821.1 397.0 L821.9 399.6 L822.7 400.2 L823.5 403.9 L824.3 391.4 L825.0 403.2 L825.8 395.7 L826.6 397.7 L827.4 397.3 L828.2 390.7 L829.0 389.8 L829.8 388.1 L830.6 383.3 L831.4 378.8 L832.2 378.7 L833.0 377.7 L833.8 374.9 L834.6 383.9 L835.4 384.3 L836.2 380.9 L836.9 388.1 L837.7 397.9 L838.5 400.0 L839.3 398.2 L840.1 394.0 L840.9 399.2 L841.7 403.7 L842.5 402.3 L843.3 400.6 L844.1 399.7 L844.9 404.5 L845.7 401.6 L846.5 403.4 L847.3 404.0 L848.1 407.5 L848.8 403.3 L849.6 403.6 L850.4 397.6 L851.2 406.3 L852.0 405.7 L852.8 403.1 L853.6 396.5 L854.4 401.6 L855.2 403.6 L856.0 409.6 L856.8 405.2 L857.6 405.9 L858.4 406.0 L859.2 407.6 L860.0 400.3 L860.7 401.1 L861.5 400.2 L862.3 402.9 L863.1 402.7 L863.9 404.1 L864.7 400.8 L865.5 404.2 L866.3 401.4 L867.1 410.3 L867.9 402.4 L868.7 411.6 L869.5 408.9 L870.3 400.6 L871.1 407.0 L871.9 406.0 L872.7 399.7 L873.4 406.1 L874.2 404.0 L875.0 405.3 L875.8 401.8 L876.6 404.2 L877.4 405.6 L878.2 403.9 L879.0 402.7 L879.8 404.0 L880.6 401.6 L881.4 405.6 L882.2 397.0 L883.0 409.1 L883.8 404.8 L884.6 406.1 L885.3 407.2 L886.1 401.1 L886.9 411.5 L887.7 401.5 L888.5 406.2 L889.3 405.8 L890.1 408.8 L890.9 404.9 L891.7 400.8 L892.5 405.9 L893.3 397.7 L894.1 404.4 L894.9 403.7 L895.7 409.7 L896.5 404.3 L897.2 403.8 L898.0 402.9 L898.8 402.7 L899.6 403.6 L900.4 407.0 L901.2 401.4 L902.0 404.7 L902.8 401.0 L903.6 404.9 L904.4 405.9 L905.2 401.8 L906.0 403.7 L906.8 405.8 L907.6 407.8 L908.4 408.3 L909.1 405.2 L909.9 402.6 L910.7 400.8 L911.5 407.9 L912.3 409.8 L913.1 406.7 L913.9 410.3 L914.7 404.4 L915.5 404.6 L916.3 410.4 L917.1 402.8 L917.9 407.6 L918.7 407.0 L919.5 406.4 L920.3 411.0 L921.0 403.4 L921.8 404.7 L922.6 399.9 L923.4 403.0 L924.2 404.6 L925.0 405.0 L925.8 405.5 L926.6 407.0 L927.4 404.2 L928.2 400.4 L929.0 406.7 L929.8 407.5 L930.6 402.9 L931.4 404.0 L932.2 411.5 L932.9 409.4 L933.7 409.6 L934.5 408.4 L935.3 406.9 L936.1 405.0 L936.9 408.2 L937.7 406.0 L938.5 405.3 L939.3 406.6 L940.1 406.4 L940.9 409.3 L941.7 403.9 L942.5 414.0 L943.3 403.8 L944.1 405.5 L944.8 409.6 L945.6 404.4 L946.4 405.5 L947.2 407.0 L948.0 398.2 L948.8 405.4 L949.6 404.0 L950.4 406.1 L951.2 408.3 L952.0 408.7 L952.8 411.2 L953.6 411.0 L954.4 409.8 L955.2 406.6 L956.0 409.8 L956.8 403.8 L957.5 406.4 L958.3 410.9 L959.1 409.0 L959.9 402.6 L960.7 404.9 L961.5 409.3 L962.3 408.4 L963.1 409.7 L963.9 401.4 L964.7 402.9 L965.5 405.8 L966.3 403.7 L967.1 406.4 L967.9 406.5 L968.7 407.5 L969.4 406.1 L970.2 408.1 L971.0 408.7 L971.8 406.9 L972.6 402.9 L973.4 410.2 L974.2 407.0 L975.0 407.6 L975.8 406.8 L976.6 401.6 L977.4 408.0 L978.2 404.4 L979.0 402.7 L979.8 410.0 L980.6 405.3 L981.3 406.9 L982.1 408.6 L982.9 410.6 L983.7 400.6 L984.5 403.6 L985.3 407.6 L986.1 403.6 L986.9 396.0 L987.7 405.7 L988.5 405.9 L989.3 407.4 L990.1 405.7 L990.9 403.7 L991.7 405.4 L992.5 404.6 L993.2 403.1 L994.0 405.2 L994.8 405.4 L995.6 401.3 L996.4 407.1 L997.2 406.4 L998.0 406.1 L998.8 395.9 L999.6 403.9 L1000.4 403.1 L1001.2 400.4 L1002.0 404.7 L1002.8 398.6 L1003.6 406.3 L1004.4 403.8 L1005.1 401.0 L1005.9 406.1 L1006.7 402.8 L1007.5 401.4 L1008.3 395.5 L1009.1 398.3 L1009.9 397.6 L1010.7 392.9 L1011.5 382.6 L1012.3 383.7 L1013.1 378.9 L1013.9 372.7 L1014.7 367.2 L1015.5 364.0 L1016.3 366.4 L1017.0 370.3 L1017.8 376.7 L1018.6 382.6 L1019.4 384.8 L1020.2 387.2 L1021.0 394.1 L1021.8 394.7 L1022.6 404.2 L1023.4 398.8 L1024.2 404.6 L1025.0 406.3 L1025.8 401.7 L1026.6 407.5 L1027.4 404.4 L1028.2 402.4 L1029.0 401.5 L1029.7 403.1 L1030.5 402.9 L1031.3 390.6 L1032.1 390.0 L1032.9 380.1 L1033.7 371.8 L1034.5 370.1 L1035.3 373.5 L1036.1 380.9 L1036.9 391.3 L1037.7 394.3 L1038.5 406.8 L1039.3 407.0 L1040.1 404.6 L1040.9 401.7 L1041.6 407.6 L1042.4 406.8 L1043.2 410.3 L1044.0 410.4 L1044.8 413.9 L1045.6 408.3 L1046.4 411.1 L1047.2 407.7 L1048.0 408.0 L1048.8 413.5 L1049.6 408.9 L1050.4 409.0 L1051.2 408.4 L1052.0 410.4 L1052.8 411.3 L1053.5 409.3 L1054.3 406.5 L1055.1 410.8 L1055.9 407.6 L1056.7 409.0 L1057.5 410.7 L1058.3 410.8 L1059.1 403.6 L1059.9 415.1 L1060.7 412.6 L1061.5 415.9 L1062.3 417.6 L1063.1 407.9 L1063.9 409.0 L1064.7 411.3 L1065.4 413.3 L1066.2 409.3 L1067.0 409.9 L1067.8 413.9 L1068.6 408.4 L1069.4 411.6 L1070.2 414.1 L1071.0 410.3 L1071.8 413.3 L1072.6 410.8 L1073.4 406.7 L1074.2 409.7 L1075.0 410.7 L1075.8 410.4 L1076.6 411.5 L1077.3 412.5 L1078.1 412.3 L1078.9 412.0 L1079.7 410.3 L1080.5 410.8 L1081.3 410.3 L1082.1 409.7 L1082.9 415.1 L1083.7 405.9 L1084.5 411.8 L1085.3 406.5 L1086.1 409.3 L1086.9 413.2 L1087.7 410.1 L1088.5 414.7 L1089.2 408.1 L1090.0 409.9 L1090.8 408.8 L1091.6 410.6 L1092.4 409.6 L1093.2 409.3 L1094.0 410.6 L1094.8 413.3 L1095.6 410.6 L1096.4 410.3 L1097.2 409.2 L1098.0 408.0 L1098.8 405.8 L1099.6 406.8 L1100.4 409.8 L1101.1 404.3 L1101.9 411.3 L1102.7 408.2 L1103.5 406.7 L1104.3 407.6 L1105.1 410.9 L1105.9 409.9 L1106.7 409.5 L1107.5 413.4 L1108.3 414.7 L1109.1 404.4 L1109.9 409.9 L1110.7 404.9 L1111.5 402.5 L1112.3 403.9 L1113.1 407.0 L1113.8 402.5 L1114.6 401.0 L1115.4 405.2 L1116.2 402.5 L1117.0 401.3 L1117.8 406.8 L1118.6 404.4 L1119.4 402.1 L1120.2 402.1 L1121.0 404.6 L1121.8 406.8 L1122.6 409.4 L1123.4 409.5 L1124.2 407.7 L1125.0 404.3 L1125.7 410.0 L1126.5 407.6 L1127.3 404.3 L1128.1 403.7 L1128.9 407.4 L1129.7 407.4 L1130.5 408.2 L1131.3 402.3 L1132.1 410.1 L1132.9 399.5 L1133.7 403.5 L1134.5 406.4 L1135.3 404.8 L1136.1 398.8 L1136.9 402.1 L1137.6 403.0 L1138.4 401.3 L1139.2 396.7 L1140.0 403.5 L1140.8 395.5 L1141.6 400.2 L1142.4 397.9 L1143.2 400.3 L1144.0 401.2 L1144.8 404.0 L1145.6 399.9 L1146.4 404.3 L1147.2 407.6 L1148.0 404.7 L1148.8 406.2 L1149.5 406.0 L1150.3 402.9 L1151.1 404.0 L1151.9 405.0 L1152.7 406.1 L1153.5 410.1 L1154.3 408.7 L1155.1 402.8 L1155.9 402.5 L1156.7 400.6 L1157.5 396.7 L1158.3 405.7 L1159.1 403.0 L1159.9 395.9 L1160.7 400.3 L1161.4 405.6 L1162.2 400.0 L1163.0 399.3 L1163.8 397.9 L1164.6 394.8 L1165.4 393.3 L1166.2 393.7 L1167.0 395.9 L1167.8 394.9 L1168.6 397.4 L1169.4 400.4 L1170.2 398.0 L1171.0 399.2 L1171.8 396.9 L1172.6 395.2 L1173.3 404.7 L1174.1 401.7 L1174.9 403.6 L1175.7 400.1 L1176.5 397.2 L1177.3 405.7 L1178.1 396.9 L1178.9 402.6 L1179.7 401.9 L1180.5 404.3 L1181.3 406.1 L1182.1 406.3 L1182.9 398.6 L1183.7 407.1 L1184.5 399.4 L1185.2 406.5 L1186.0 403.5 L1186.8 401.7 L1187.6 403.4 L1188.4 401.2 L1189.2 404.8 L1190.0 407.4 L1190.8 407.1 L1191.6 405.0 L1192.4 407.9 L1193.2 406.2 L1194.0 410.7 L1194.8 406.2 L1195.6 403.2 L1196.4 404.0 L1197.2 402.7 L1197.9 403.9 L1198.7 404.3 L1199.5 406.5 L1200.3 406.8 L1201.1 404.7 L1201.9 405.7 L1202.7 402.5 L1203.5 403.0 L1204.3 397.7 L1205.1 402.2 L1205.9 402.9 L1206.7 411.3 L1207.5 400.6 L1208.3 404.5 L1209.1 403.5 L1209.8 400.2 L1210.6 405.3 L1211.4 404.7 L1212.2 400.8 L1213.0 398.4 L1213.8 404.6 L1214.6 400.9 L1215.4 406.5 L1216.2 403.9 L1217.0 405.8 L1217.8 403.2 L1218.6 407.4 L1219.4 404.0 L1220.2 404.5 L1221.0 398.7 L1221.7 393.1 L1222.5 389.3 L1223.3 388.9 L1224.1 389.8 L1224.9 388.9 L1225.7 398.9 L1226.5 396.2 L1227.3 400.6 L1228.1 402.1 L1228.9 400.5 L1229.7 407.9 L1230.5 407.8 L1231.3 409.0 L1232.1 404.7 L1232.9 407.6 L1233.6 407.7 L1234.4 411.3 L1235.2 404.6 L1236.0 410.4 L1236.8 412.2 L1237.6 407.8 L1238.4 406.9 L1239.2 412.9 L1240.0 410.1 L1240.8 412.7 L1241.6 411.8 L1242.4 412.8 L1243.2 409.6 L1244.0 404.5 L1244.8 412.0 L1245.5 408.6 L1246.3 412.3 L1247.1 409.4 L1247.9 415.3 L1248.7 410.4 L1249.5 413.4 L1250.3 414.3 L1251.1 411.2 L1251.9 412.5 L1252.7 411.7 L1253.5 409.3 L1254.3 416.0 L1255.1 409.6 L1255.9 407.9 L1256.7 410.9 L1257.4 412.8 L1258.2 412.7 L1259.0 411.7 L1259.8 411.5 L1260.6 407.1 L1261.4 414.7 L1262.2 417.8 L1263.0 411.3 L1263.8 408.5 L1264.6 415.4 L1265.4 413.0 L1266.2 402.6 L1267.0 411.4 L1267.8 409.5 L1268.6 410.3 L1269.4 419.0 L1270.1 416.3 L1270.9 413.2 L1271.7 413.7 L1272.5 418.0 L1273.3 410.7 L1274.1 415.8 L1274.9 412.1 L1275.7 416.1 L1276.5 414.5 L1277.3 411.8 L1278.1 416.8 L1278.9 415.4 L1279.7 419.0 L1280.5 412.9 L1281.3 414.4 L1282.0 412.2 L1282.8 417.4 L1283.6 412.0 L1284.4 414.1 L1285.2 417.7 L1286.0 415.6 L1286.8 415.0 L1287.6 414.9 L1288.4 415.2 L1289.2 416.0 L1290.0 413.5 L1290.8 408.9 L1291.6 418.0 L1292.4 411.5 L1293.2 419.4 L1293.9 415.2 L1294.7 423.1 L1295.5 417.6 L1296.3 415.6 L1297.1 417.0 L1297.9 410.7 L1298.7 415.0 L1299.5 413.6 L1300.3 414.6 L1301.1 409.0 L1301.9 408.6 L1302.7 416.6 L1303.5 414.8 L1304.3 413.4 L1305.1 414.4 L1305.8 412.9 L1306.6 413.4 L1307.4 416.6 L1308.2 414.1 L1309.0 416.6 L1309.8 412.9 L1310.6 409.9 L1311.4 413.0 L1312.2 414.4 L1313.0 411.8 L1313.8 413.8 L1314.6 413.5 L1315.4 417.4 L1316.2 417.2 L1317.0 417.9 L1317.7 412.9 L1318.5 415.9 L1319.3 418.5 L1320.1 415.5 L1320.9 414.8 L1321.7 413.0 L1322.5 417.3 L1323.3 415.6 L1324.1 417.8 L1324.9 414.7 L1325.7 420.7 L1326.5 415.1 L1327.3 411.9 L1328.1 415.8 L1328.9 416.5 L1329.6 418.7 L1330.4 414.0 L1331.2 413.8 L1332.0 414.6 L1332.8 414.3 L1333.6 409.6 L1334.4 417.3 L1335.2 418.7 L1336.0 413.3 L1336.8 412.7 L1337.6 415.0 L1338.4 413.2 L1339.2 417.5 L1340.0 413.8 L1340.8 417.1 L1341.5 412.1 L1342.3 411.7 L1343.1 411.3 L1343.9 411.7 L1344.7 416.6 L1345.5 417.7 L1346.3 415.9 L1347.1 416.1 L1347.9 409.6 L1348.7 418.4 L1349.5 412.1 L1350.3 418.8 L1351.1 421.6 L1351.9 415.2 L1352.7 416.6 L1353.5 416.5 L1354.2 411.2 L1355.0 411.6 L1355.8 412.6 L1356.6 414.6 L1357.4 416.3 L1358.2 414.2 L1359.0 416.6 L1359.8 412.1 L1360.6 409.5 L1361.4 413.0 L1362.2 412.4 L1363.0 408.5 L1363.8 414.4 L1364.6 408.8 L1365.4 408.7 L1366.1 410.2 L1366.9 405.7 L1367.7 408.1 L1368.5 404.8 L1369.3 400.8 L1370.1 393.8 L1370.9 385.0 L1371.7 374.9 L1372.5 366.2 L1373.3 358.5 L1374.1 354.1 L1374.9 357.1 L1375.7 366.7 L1376.5 377.9 L1377.3 382.7 L1378.0 392.7 L1378.8 401.3 L1379.6 400.9 L1380.4 403.8 L1381.2 408.1 L1382.0 407.0 L1382.8 411.2 L1383.6 407.8 L1384.4 410.4 L1385.2 415.4 L1386.0 412.0 L1386.8 405.7 L1387.6 406.5 L1388.4 406.5 L1389.2 408.8 L1389.9 405.2 L1390.7 409.9 L1391.5 412.6 L1392.3 411.9 L1393.1 405.8 L1393.9 406.6 L1394.7 406.2 L1395.5 404.5 L1396.3 410.3 L1397.1 404.0 L1397.9 402.4 L1398.7 405.5 L1399.5 404.9 L1400.3 407.2 L1401.1 406.6 L1401.8 401.8 L1402.6 396.6 L1403.4 402.5 L1404.2 402.1 L1405.0 403.6 L1405.8 395.1 L1406.6 395.3 L1407.4 400.7 L1408.2 400.0 L1409.0 398.5 L1409.8 394.8 L1410.6 396.8 L1411.4 392.0 L1412.2 389.8 L1413.0 391.6 L1413.7 391.2 L1414.5 392.0 L1415.3 391.9 L1416.1 385.3 L1416.9 389.0 L1417.7 388.8 L1418.5 384.8 L1419.3 386.4 L1420.1 386.7 L1420.9 387.1 L1421.7 384.3 L1422.5 384.6 L1423.3 383.5 L1424.1 386.4 L1424.9 385.1 L1425.7 384.7 L1426.4 387.3 L1427.2 385.9 L1428.0 384.1 L1428.8 389.2 L1429.6 389.3 L1430.4 388.7 L1431.2 386.1 L1432.0 391.1 L1432.8 388.1 L1433.6 386.0 L1434.4 390.3 L1435.2 395.0 L1436.0 390.9 L1436.8 393.7 L1437.6 396.1 L1438.3 394.2 L1439.1 393.7 L1439.9 395.1 L1440.7 397.0 L1441.5 395.2 L1442.3 397.7 L1443.1 398.8 L1443.9 397.5 L1444.7 400.8 L1445.5 401.3 L1446.3 400.0 L1447.1 401.0 L1447.9 402.4 L1448.7 402.5 L1449.5 403.0 L1450.2 401.7 L1451.0 405.0 L1451.8 407.1 L1452.6 407.4 L1453.4 404.4 L1454.2 408.2 L1455.0 408.8 L1455.8 405.6 L1456.6 409.5 L1457.4 408.2 L1458.2 408.2 L1459.0 410.0 L1459.8 409.3 L1460.6 404.7 L1461.4 411.0 L1462.1 408.1 L1462.9 410.9 L1463.7 413.0 L1464.5 411.1 L1465.3 410.8 L1466.1 412.5 L1466.9 413.6 L1467.7 410.6 L1468.5 411.3 L1469.3 414.3 L1470.1 417.2 L1470.9 413.5 L1471.7 415.8 L1472.5 412.1 L1473.3 414.1 L1474.0 414.4 L1474.8 411.2 L1475.6 414.4 L1476.4 414.1 L1477.2 408.5 L1478.0 414.3 L1478.8 415.1 L1479.6 414.8 L1480.4 414.5 L1481.2 410.5 L1482.0 410.3 L1482.8 410.0 L1483.6 406.4 L1484.4 404.6 L1485.2 405.2 L1485.9 398.4 L1486.7 398.6 L1487.5 404.2 L1488.3 402.8 L1489.1 404.0 L1489.9 409.7 L1490.7 411.9 L1491.5 413.6 L1492.3 410.7 L1493.1 416.1 L1493.9 417.0 L1494.7 421.4 L1495.5 418.5 L1496.3 416.1 L1497.1 418.2 L1497.8 419.2 L1498.6 417.5 L1499.4 417.9 L1500.2 421.4 L1501.0 419.5 L1501.8 419.7 L1502.6 416.3 L1503.4 419.8 L1504.2 414.4 L1505.0 421.9 L1505.8 418.0 L1506.6 420.8 L1507.4 422.7 L1508.2 416.9 L1509.0 422.3 L1509.8 420.2 L1510.5 422.5 L1511.3 419.0 L1512.1 418.4 L1512.9 423.1 L1513.7 421.2 L1514.5 420.4 L1515.3 417.7 L1516.1 423.5 L1516.9 419.7 L1517.7 420.1 L1518.5 419.0 L1519.3 420.8 L1520.1 422.2 L1520.9 420.7 L1521.7 420.7 L1522.4 419.7 L1523.2 424.5 L1524.0 424.8 L1524.8 420.4 L1525.6 419.0 L1526.4 421.7 L1527.2 417.3 L1528.0 421.6 L1528.8 421.6 L1529.6 421.3 L1530.4 424.6 L1531.2 425.0 L1532.0 421.7 L1532.8 419.7 L1533.6 422.6 L1534.3 422.6 L1535.1 416.8 L1535.9 417.3 L1536.7 417.5 L1537.5 413.3 L1538.3 413.0 L1539.1 416.8 L1539.9 407.9 L1540.7 408.4 L1541.5 400.4 L1542.3 397.8 L1543.1 389.9 L1543.9 383.6 L1544.7 373.9 L1545.5 371.1 L1546.2 368.2 L1547.0 371.6 L1547.8 376.6 L1548.6 382.6 L1549.4 389.3 L1550.2 396.1 L1551.0 402.4 L1551.8 405.7 L1552.6 409.6 L1553.4 412.0 L1554.2 413.2 L1555.0 419.3 L1555.8 415.2 L1556.6 421.9 L1557.4 421.3 L1558.1 416.5 L1558.9 416.7 L1559.7 421.3 L1560.5 419.2 L1561.3 422.3 L1562.1 424.4 L1562.9 423.4 L1563.7 422.3 L1564.5 422.7 L1565.3 426.6 L1566.1 422.7 L1566.9 427.7 L1567.7 428.6 L1568.5 423.3 L1569.3 425.0 L1570.0 428.4 L1570.8 423.1 L1571.6 425.8 L1572.4 427.4 L1573.2 422.8 L1574.0 426.2 L1574.8 425.8 L1575.6 424.4 L1576.4 429.3 L1577.2 425.6 L1578.0 431.3 L1578.8 427.8 L1579.6 424.8 L1580.4 427.1 L1581.2 424.8 L1581.9 428.4 L1582.7 428.1 L1583.5 423.9 L1584.3 425.7 L1585.1 427.8 L1585.9 426.8 L1586.7 424.5 L1587.5 429.2 L1588.3 429.9 L1589.1 423.5 L1589.9 430.2 L1590.7 422.3 L1591.5 426.6 L1592.3 425.4 L1593.1 425.7 L1593.9 427.4 L1594.6 424.4 L1595.4 426.8 L1596.2 430.8 L1597.0 428.1 L1597.8 430.4 L1598.6 429.0 L1599.4 423.5 L1600.2 431.1 L1601.0 429.1 L1601.8 428.7 L1602.6 426.4 L1603.4 426.1 L1604.2 424.9 L1605.0 427.0 L1605.8 427.6 L1606.5 427.0 L1607.3 427.0 L1608.1 423.0 L1608.9 425.7 L1609.7 425.7 L1610.5 428.1 L1611.3 426.5 L1612.1 426.5 L1612.9 427.7 L1613.7 426.5 L1614.5 426.9 L1615.3 430.0 L1616.1 427.2 L1616.9 425.6 L1617.7 428.9 L1618.4 429.4 L1619.2 429.0 L1620.0 424.7 L1620.8 429.8 L1621.6 427.8 L1622.4 428.0 L1623.2 427.9 L1624.0 428.8 L1624.8 428.8 L1625.6 431.0 L1626.4 428.4 L1627.2 427.6 L1628.0 429.3 L1628.8 427.6 L1629.6 430.3 L1630.3 428.2 L1631.1 429.5 L1631.9 426.8 L1632.7 430.1 L1633.5 429.3 L1634.3 426.1 L1635.1 427.2 L1635.9 428.2 L1636.7 425.1 L1637.5 425.6 L1638.3 429.1 L1639.1 429.2 L1639.9 431.1 L1640.7 425.4 L1641.5 427.5 L1642.2 423.9 L1643.0 432.1 L1643.8 425.5 L1644.6 427.9 L1645.4 432.6 L1646.2 431.6 L1647.0 426.7 L1647.8 433.4 L1648.6 429.5 L1649.4 426.4 L1650.2 429.2 L1651.0 430.0 L1651.8 430.0 L1652.6 424.1 L1653.4 432.5 L1654.1 425.1 L1654.9 428.1 L1655.7 431.5 L1656.5 429.3 L1657.3 428.3 L1658.1 427.0 L1658.9 429.4 L1659.7 430.9 L1660.5 426.7 L1661.3 428.5 L1662.1 426.7 L1662.9 426.3 L1663.7 422.6 L1664.5 427.2 L1665.3 428.3 L1666.1 425.7 L1666.8 427.9 L1667.6 425.7 L1668.4 427.5 L1669.2 424.9 L1670.0 423.5 L1670.8 422.9 L1671.6 423.8 L1672.4 424.0 L1673.2 421.6 L1674.0 422.8 L1674.8 420.4 L1675.6 420.5 L1676.4 424.5 L1677.2 424.2 L1678.0 425.6 L1678.7 424.5 L1679.5 425.2 L1680.3 428.8 L1681.1 424.0 L1681.9 426.7 L1682.7 429.8 L1683.5 431.2 L1684.3 428.7 L1685.1 427.8 L1685.9 426.3 L1686.7 428.6 L1687.5 429.6 L1688.3 429.7 L1689.1 431.0 L1689.9 431.4 L1690.6 429.6 L1691.4 429.0 L1692.2 430.5 L1693.0 432.2 L1693.8 434.9 L1694.6 428.3 L1695.4 434.1 L1696.2 431.4 L1697.0 434.4 L1697.8 436.2 L1698.6 433.4 L1699.4 430.2 L1700.2 431.8 L1701.0 433.5 L1701.8 432.2 L1702.5 432.8 L1703.3 431.4 L1704.1 432.7 L1704.9 431.9 L1705.7 435.1 L1706.5 434.0 L1707.3 435.0 L1708.1 430.2 L1708.9 432.7 L1709.7 432.1 L1710.5 432.8 L1711.3 431.9 L1712.1 432.3 L1712.9 437.0 L1713.7 433.2 L1714.4 431.2 L1715.2 433.2 L1716.0 438.5 L1716.8 435.3 L1717.6 432.0 L1718.4 433.4 L1719.2 433.8 L1720.0 434.0 L1720.8 430.2 L1721.6 432.0 L1722.4 433.7 L1723.2 430.5 L1724.0 433.7 L1724.8 434.2 L1725.6 435.7 L1726.3 436.3 L1727.1 433.7 L1727.9 434.6 L1728.7 435.5 L1729.5 436.2 L1730.3 434.3 L1731.1 432.7 L1731.9 435.4 L1732.7 436.0 L1733.5 434.5 L1734.3 435.4 L1735.1 437.5 L1735.9 433.3 L1736.7 432.9 L1737.5 432.1 L1738.2 435.0 L1739.0 436.3 L1739.8 433.3 L1740.6 438.0 L1741.4 433.2 L1742.2 435.0 L1743.0 434.2 L1743.8 437.2 L1744.6 433.2 L1745.4 437.8 L1746.2 434.1 L1747.0 431.8 L1747.8 433.4 L1748.6 434.2 L1749.4 437.9 L1750.2 433.6 L1750.9 434.5 L1751.7 438.8 L1752.5 434.9 L1753.3 433.3 L1754.1 433.1 L1754.9 431.5 L1755.7 435.3 L1756.5 437.1 L1757.3 433.9 L1758.1 432.5 L1758.9 435.2 L1759.7 434.7 L1760.5 434.4 L1761.3 435.6 L1762.1 434.7 L1762.8 434.0 L1763.6 436.7 L1764.4 431.0 L1765.2 432.5 L1766.0 434.2 L1766.8 432.0 L1767.6 437.8 L1768.4 430.4 L1769.2 436.2 L1770.0 435.9 L1770.8 435.5 L1771.6 435.6 L1772.4 433.6 L1773.2 433.4 L1774.0 437.6 L1774.7 434.5 L1775.5 431.9 L1776.3 432.4 L1777.1 431.8 L1777.9 435.4 L1778.7 437.2 L1779.5 434.3 L1780.3 435.2 L1781.1 433.9 L1781.9 436.7 L1782.7 436.7 L1783.5 436.8 L1784.3 438.6 L1785.1 432.6 L1785.9 436.6 L1786.6 432.0 L1787.4 436.5 L1788.2 436.7 L1789.0 436.6 L1789.8 436.7 L1790.6 434.9 L1791.4 433.9 L1792.2 436.7 L1793.0 434.0 L1793.8 436.6 L1794.6 433.6 L1795.4 435.9 L1796.2 435.8 L1797.0 433.6 L1797.8 434.7 L1798.5 437.1 L1799.3 435.4 L1800.1 436.4 L1800.9 434.3 L1801.7 435.6 L1802.5 432.5 L1803.3 433.9 L1804.1 437.9 L1804.9 436.5 L1805.7 435.5 L1806.5 435.7 L1807.3 432.8 L1808.1 436.3 L1808.9 433.0 L1809.7 434.0 L1810.4 436.8 L1811.2 434.0 L1812.0 434.4 L1812.8 435.2 L1813.6 435.6 L1814.4 438.0 L1815.2 432.0 L1816.0 434.5 L1816.8 436.5 L1817.6 434.4 L1818.4 434.5 L1819.2 433.7 L1820.0 434.7 L1820.8 436.5 L1821.6 437.7 L1822.4 435.9 L1823.1 437.9 L1823.9 435.4 L1824.7 432.0 L1825.5 436.7 L1826.3 431.3 L1827.1 435.1 L1827.9 435.2 L1828.7 433.0 L1829.5 434.8 L1830.3 434.1 L1831.1 435.4 L1831.9 434.6 L1832.7 436.3 L1833.5 434.4 L1834.3 436.3 L1835.0 435.1 L1835.8 435.6 L1836.6 435.3 L1837.4 434.2 L1838.2 437.3 L1839.0 436.2 L1839.8 430.7 L1840.6 432.7 L1841.4 438.4 L1842.2 434.5 L1843.0 440.5 L1843.8 435.9 L1844.6 435.9 L1845.4 434.1 L1846.2 434.6 L1846.9 435.3 L1847.7 436.8 L1848.5 435.2 L1849.3 434.9 L1850.1 433.1 L1850.9 434.0 L1851.7 434.1 L1852.5 434.7 L1853.3 433.5 L1854.1 432.8 L1854.9 434.3 L1855.7 430.1 L1856.5 431.9 L1857.3 433.2 L1858.1 435.5 L1858.8 433.4 L1859.6 432.6 L1860.4 436.0 L1861.2 434.4 L1862.0 437.3 L1862.8 434.2 L1863.6 433.3 L1864.4 433.9 L1865.2 438.0 L1866.0 437.5 L1866.8 434.9 L1867.6 436.5 L1868.4 431.9 L1869.2 436.9 L1870.0 435.2 L1870.7 434.3 L1871.5 434.5 L1872.3 435.0 L1873.1 433.6 L1873.9 433.7 L1874.7 432.1 L1875.5 437.4 L1876.3 432.7 L1877.1 434.0 L1877.9 436.3 L1878.7 436.6 L1879.5 437.0 L1880.3 433.1 L1881.1 433.4 L1881.9 434.1 L1882.6 430.6 L1883.4 435.8 L1884.2 431.0 L1885.0 433.9 L1885.8 435.8 L1886.6 435.7 L1887.4 433.2 L1888.2 435.8 L1889.0 436.1 L1889.8 430.8 L1890.6 433.5 L1891.4 435.3 L1892.2 434.8 L1893.0 433.6 L1893.8 433.8 L1894.5 438.4 L1895.3 433.3 L1896.1 436.0 L1896.9 431.7 L1897.7 435.0 L1898.5 435.9 L1899.3 433.2 L1900.1 432.8 L1900.9 437.5 L1901.7 433.6 L1902.5 436.0 L1903.3 431.3 L1904.1 437.3 L1904.9 430.3 L1905.7 432.3 L1906.5 433.0 L1907.2 434.0 L1908.0 434.5 L1908.8 437.2 L1909.6 438.1 L1910.4 437.7 L1911.2 435.7 L1912.0 434.6 L1912.8 430.2 L1913.6 434.0 L1914.4 433.1 L1915.2 435.4 L1916.0 432.2 L1916.8 432.6 L1917.6 432.7 L1918.4 435.4 L1919.1 434.5 L1919.9 432.2 L1920.7 430.8 L1921.5 433.0 L1922.3 432.9 L1923.1 433.1 L1923.9 434.3 L1924.7 435.5 L1925.5 435.6 L1926.3 432.8 L1927.1 432.6 L1927.9 437.0 L1928.7 433.6 L1929.5 435.4 L1930.3 434.4 L1931.0 434.8 L1931.8 437.1 L1932.6 433.6 L1933.4 436.2 L1934.2 435.1 L1935.0 433.8 L1935.8 433.2 L1936.6 433.1 L1937.4 436.3 L1938.2 435.9 L1939.0 432.4 L1939.8 434.8 L1940.6 430.6 L1941.4 434.1 L1942.2 437.9 L1942.9 431.8 L1943.7 434.6 L1944.5 432.8 L1945.3 434.2 L1946.1 432.0 L1946.9 434.3 L1947.7 429.5 L1948.5 433.5 L1949.3 433.4 L1950.1 433.9 L1950.9 437.9 L1951.7 431.9 L1952.5 432.8 L1953.3 431.6 L1954.1 435.2 L1954.8 434.3 L1955.6 432.1 L1956.4 436.1 L1957.2 434.9 L1958.0 437.2 L1958.8 435.9 L1959.6 434.7 L1960.4 433.1 L1961.2 430.5 L1962.0 433.5 L1962.8 436.8 L1963.6 434.3 L1964.4 433.1 L1965.2 435.3 L1966.0 436.2 L1966.7 440.2 L1967.5 433.0 L1968.3 434.3 L1969.1 432.8 L1969.9 433.6 L1970.7 436.8 L1971.5 434.9 L1972.3 432.4 L1973.1 437.8 L1973.9 438.6 L1974.7 436.8 L1975.5 433.4 L1976.3 433.3 L1977.1 437.9 L1977.9 433.5 L1978.6 434.4 L1979.4 432.7 L1980.2 439.2 L1981.0 434.3 L1981.8 435.3 L1982.6 434.3 L1983.4 434.4 L1984.2 433.6 L1985.0 437.9 L1985.8 434.6 L1986.6 438.7 L1987.4 433.5 L1988.2 436.9 L1989.0 437.9 L1989.8 433.9 L1990.6 436.6 L1991.3 435.1 L1992.1 434.1 L1992.9 435.4 L1993.7 432.7 L1994.5 435.7 L1995.3 433.4 L1996.1 437.6 L1996.9 439.3 L1997.7 439.2 L1998.5 435.1 L1999.3 436.3 L2000.1 440.4 L2000.9 439.1 L2001.7 437.9 L2002.5 432.7 L2003.2 436.2 L2004.0 441.1 L2004.8 437.8 L2005.6 436.1 L2006.4 437.1 L2007.2 441.6 L2008.0 439.6 L2008.8 434.7 L2009.6 435.0 L2010.4 437.3 L2011.2 439.8 L2012.0 435.8 L2012.8 436.2 L2013.6 432.5 L2014.4 436.2 L2015.1 438.6 L2015.9 438.7 L2016.7 434.7 L2017.5 439.1 L2018.3 436.0 L2019.1 434.9 L2019.9 438.6 L2020.7 434.5 L2021.5 436.8 L2022.3 436.1 L2023.1 437.5 L2023.9 438.2 L2024.7 437.0 L2025.5 436.3 L2026.3 436.9 L2027.0 433.3 L2027.8 437.8 L2028.6 442.1 L2029.4 438.8 L2030.2 440.5 L2031.0 438.3 L2031.8 438.4 L2032.6 439.3 L2033.4 439.8 L2034.2 439.8 L2035.0 437.0 L2035.8 438.7 L2036.6 435.8 L2037.4 440.8 L2038.2 438.7 L2038.9 438.3 L2039.7 436.4 L2040.5 439.8 L2041.3 440.9 L2042.1 440.0 L2042.9 441.2 L2043.7 437.6 L2044.5 441.0 L2045.3 439.2 L2046.1 434.1 L2046.9 439.9 L2047.7 437.4 L2048.5 439.1 L2049.3 438.1 L2050.1 437.6 L2050.8 441.3 L2051.6 438.2 L2052.4 439.6 L2053.2 440.5 L2054.0 438.4 L2054.8 436.7 L2055.6 439.2 L2056.4 438.8 L2057.2 437.2 L2058.0 439.1 L2058.8 441.3 L2059.6 440.7 L2060.4 441.8 L2061.2 441.4 L2062.0 439.1 L2062.8 438.7 L2063.5 436.5 L2064.3 440.9 L2065.1 437.4 L2065.9 439.6 L2066.7 441.6 L2067.5 438.6 L2068.3 435.4 L2069.1 436.2 L2069.9 437.5 L2070.7 440.7 L2071.5 437.5 L2072.3 437.8 L2073.1 435.9 L2073.9 438.6 L2074.7 438.1 L2075.4 439.4 L2076.2 435.9 L2077.0 438.9 L2077.8 434.9 L2078.6 436.3 L2079.4 436.5 L2080.2 437.1 L2081.0 438.2 L2081.8 432.8 L2082.6 437.1 L2083.4 436.5 L2084.2 434.6 L2085.0 436.5 L2085.8 437.9 L2086.6 436.1 L2087.3 436.0 L2088.1 438.2 L2088.9 435.4 L2089.7 438.9 L2090.5 437.5 L2091.3 437.6 L2092.1 437.8 L2092.9 439.1 L2093.7 435.2 L2094.5 438.8 L2095.3 434.8 L2096.1 437.2 L2096.9 437.6 L2097.7 436.6 L2098.5 434.1 L2099.2 433.9 L2100.0 434.1 L2100.8 436.1 L2101.6 436.4 L2102.4 437.1 L2103.2 433.0 L2104.0 436.5 L2104.8 437.9 L2105.6 436.2 L2106.4 435.8 L2107.2 437.3 L2108.0 438.7 L2108.8 438.5 L2109.6 438.6 L2110.4 433.1 L2111.1 438.3 L2111.9 434.9 L2112.7 437.1 L2113.5 434.2 L2114.3 436.0 L2115.1 434.2 L2115.9 434.7 L2116.7 438.9 L2117.5 432.8 L2118.3 437.0 L2119.1 435.2 L2119.9 432.8 L2120.7 437.5 L2121.5 434.9 L2122.3 433.8 L2123.0 435.4 L2123.8 433.2 L2124.6 437.9 L2125.4 431.8 L2126.2 433.6 L2127.0 430.7 L2127.8 434.9 L2128.6 436.0 L2129.4 436.2 L2130.2 437.3 L2131.0 434.3 L2131.8 433.4 L2132.6 436.0 L2133.4 433.0 L2134.2 434.8 L2134.9 433.3 L2135.7 432.9 L2136.5 434.3 L2137.3 436.6 L2138.1 436.2 L2138.9 434.8 L2139.7 429.6 L2140.5 434.7 L2141.3 435.4 L2142.1 435.8 L2142.9 433.4 L2143.7 436.8 L2144.5 435.5 L2145.3 431.3 L2146.1 436.4 L2146.9 438.2 L2147.6 435.6 L2148.4 433.7 L2149.2 438.7 L2150.0 437.2 L2150.8 431.8 L2151.6 437.4 L2152.4 436.2 L2153.2 436.0 L2154.0 432.2 L2154.8 432.4 L2155.6 435.9 L2156.4 439.3 L2157.2 436.0 L2158.0 435.9 L2158.8 434.6 L2159.5 435.1 L2160.3 437.8 L2161.1 434.4 L2161.9 439.5 L2162.7 436.9 L2163.5 436.6 L2164.3 435.8 L2165.1 434.7 L2165.9 435.6 L2166.7 433.4 L2167.5 436.3 L2168.3 432.6 L2169.1 440.5 L2169.9 436.2 L2170.7 433.4 L2171.4 436.8 L2172.2 436.6 L2173.0 435.4 L2173.8 437.0 L2174.6 435.0 L2175.4 436.3 L2176.2 436.2 L2177.0 437.6" fill="none" stroke="#ff00ff" stroke-width="2.5" stroke-linejoin="round"/><rect x="193.8" y="30" width="2142.5" height="1586" fill="none" stroke="#000" stroke-width="5.5"/><path d="M193.5 1618.5V1646M292.7 1618.5V1631M391.9 1618.5V1646M491.0 1618.5V1631M590.2 1618.5V1646M689.4 1618.5V1631M788.6 1618.5V1646M887.7 1618.5V1631M986.9 1618.5V1646M1086.1 1618.5V1631M1185.2 1618.5V1646M1284.4 1618.5V1631M1383.6 1618.5V1646M1482.8 1618.5V1631M1582.0 1618.5V1646M1681.1 1618.5V1631M1780.3 1618.5V1646M1879.5 1618.5V1631M1978.7 1618.5V1646M2077.8 1618.5V1631M2177.0 1618.5V1646M2276.2 1618.5V1631" stroke="#000" stroke-width="5.5" stroke-linecap="round" fill="none"/><path d="M564.5 1030.0L592.1 1057.6L564.5 1085.2L536.9 1057.6Z" fill="none" stroke="#000" stroke-width="3.4" stroke-miterlimit="10"/><path d="M707.0 1350.4L734.6 1378.0L707.0 1405.6L679.4 1378.0Z" fill="none" stroke="#000" stroke-width="3.4" stroke-miterlimit="10"/><path d="M830.4 1391.9L858.0 1419.5L830.4 1447.1L802.8 1419.5Z" fill="none" stroke="#000" stroke-width="3.4" stroke-miterlimit="10"/><path d="M1010.0 1295.2L1037.6 1322.8L1010.0 1350.4L982.4 1322.8Z" fill="none" stroke="#000" stroke-width="3.4" stroke-miterlimit="10"/><path d="M1229.7 1414.7L1257.3 1442.3L1229.7 1469.9L1202.1 1442.3Z" fill="none" stroke="#000" stroke-width="3.4" stroke-miterlimit="10"/><path d="M1423.4 1387.8L1451.0 1415.4L1423.4 1443.0L1395.8 1415.4Z" fill="none" stroke="#000" stroke-width="3.4" stroke-miterlimit="10"/><path d="M575.9 673.1L603.5 700.7L575.9 728.3L548.3 700.7Z" fill="none" stroke="#000" stroke-width="3.4" stroke-miterlimit="10"/><path d="M714.4 896.0L742.0 923.6L714.4 951.2L686.8 923.6Z" fill="none" stroke="#000" stroke-width="3.4" stroke-miterlimit="10"/><path d="M837.6 922.1L865.2 949.7L837.6 977.3L810.0 949.7Z" fill="none" stroke="#000" stroke-width="3.4" stroke-miterlimit="10"/><path d="M1020.6 877.4L1048.2 905.0L1020.6 932.6L993.0 905.0Z" fill="none" stroke="#000" stroke-width="3.4" stroke-miterlimit="10"/><path d="M1234.0 952.4L1261.6 980.0L1234.0 1007.6L1206.4 980.0Z" fill="none" stroke="#000" stroke-width="3.4" stroke-miterlimit="10"/><path d="M1435.0 933.9L1462.6 961.5L1435.0 989.1L1407.4 961.5Z" fill="none" stroke="#000" stroke-width="3.4" stroke-miterlimit="10"/><path d="M571.0 387.1L598.6 414.7L571.0 442.3L543.4 414.7Z" fill="none" stroke="#000" stroke-width="3.4" stroke-miterlimit="10"/><path d="M706.5 575.4L734.1 603.0L706.5 630.6L678.9 603.0Z" fill="none" stroke="#000" stroke-width="3.4" stroke-miterlimit="10"/><path d="M833.7 568.2L861.3 595.8L833.7 623.4L806.1 595.8Z" fill="none" stroke="#000" stroke-width="3.4" stroke-miterlimit="10"/><path d="M1009.8 545.6L1037.4 573.2L1009.8 600.8L982.2 573.2Z" fill="none" stroke="#000" stroke-width="3.4" stroke-miterlimit="10"/><path d="M1229.8 608.9L1257.4 636.5L1229.8 664.1L1202.2 636.5Z" fill="none" stroke="#000" stroke-width="3.4" stroke-miterlimit="10"/><path d="M1431.4 587.7L1459.0 615.3L1431.4 642.9L1403.8 615.3Z" fill="none" stroke="#000" stroke-width="3.4" stroke-miterlimit="10"/><path d="M644.8 535.3L696.2 535.3L670.5 579.3Z" fill="none" stroke="#000" stroke-width="3.4" stroke-miterlimit="10"/><path d="M1360.8 607.6L1397.8 607.6L1379.3 639.6Z" fill="#000"/><path d="M1816.0 597.1L1834.5 623.6L1816.0 650.1L1797.5 623.6Z" fill="none" stroke="#000" stroke-width="5.2" stroke-miterlimit="10"/><path d="M1816.0 613.6L1823.5 623.6L1816.0 633.6L1808.5 623.6Z" fill="#000"/><path d="M572.8 160.2L600.4 187.8L572.8 215.4L545.2 187.8Z" fill="none" stroke="#000" stroke-width="3.4" stroke-miterlimit="10"/><path d="M707.0 300.7L734.6 328.3L707.0 355.9L679.4 328.3Z" fill="none" stroke="#000" stroke-width="3.4" stroke-miterlimit="10"/><path d="M841.0 311.8L868.6 339.4L841.0 367.0L813.4 339.4Z" fill="none" stroke="#000" stroke-width="3.4" stroke-miterlimit="10"/><path d="M1005.0 301.4L1032.6 329.0L1005.0 356.6L977.4 329.0Z" fill="none" stroke="#000" stroke-width="3.4" stroke-miterlimit="10"/><path d="M1223.3 315.4L1250.9 343.0L1223.3 370.6L1195.7 343.0Z" fill="none" stroke="#000" stroke-width="3.4" stroke-miterlimit="10"/><path d="M1428.5 318.6L1456.1 346.2L1428.5 373.8L1400.9 346.2Z" fill="none" stroke="#000" stroke-width="3.4" stroke-miterlimit="10"/><path d="M1040.3 360.5L1015.0 316.1L1040.3 331.0L1065.6 316.4Z" fill="#000"/><path d="M1353.3 320.7L1390.3 320.7L1371.8 352.7Z" fill="#000"/><path d="M1527.3 323.2L1564.3 323.2L1545.8 355.2Z" fill="#000"/><path d="M431.0 61.0L457.0 87.0L431.0 113.0L405.0 87.0Z" fill="none" stroke="#000" stroke-width="4.0" stroke-miterlimit="10"/><path d="M841.2 57.6L894.8 57.6L868.0 103.0Z" fill="#000"/><path d="M1257.6 57.4L1307.6 57.4L1282.6 99.4Z" fill="none" stroke="#000" stroke-width="3.8" stroke-miterlimit="10"/><path d="M1638.5 101.8L1613.0 58.7L1638.5 72.7L1663.9 58.9Z" fill="#000"/><path d="M1924.5 57.7L1942.7 84.2L1924.5 110.7L1906.3 84.2Z" fill="none" stroke="#000" stroke-width="5.2" stroke-miterlimit="10"/><path d="M1924.5 74.2L1931.7 84.2L1924.5 94.2L1917.3 84.2Z" fill="#000"/><text x="465.3" y="106.0" font-family="'Liberation Serif', 'Times New Roman', serif" font-size="58.4" text-anchor="start">H-SAPO-34</text><text x="902.8" y="103.3" font-family="'Liberation Serif', 'Times New Roman', serif" font-size="59.0" text-anchor="start">(NH</text><text x="1006.6" y="125.8" font-family="'Liberation Serif', 'Times New Roman', serif" font-size="33.5" text-anchor="start">4</text><text x="1023.4" y="103.3" font-family="'Liberation Serif', 'Times New Roman', serif" font-size="59.0" text-anchor="start">)</text><text x="1043.0" y="125.8" font-family="'Liberation Serif', 'Times New Roman', serif" font-size="33.5" text-anchor="start">2</text><text x="1060.5" y="103.3" font-family="'Liberation Serif', 'Times New Roman', serif" font-size="59.0" text-anchor="start">SO</text><text x="1136.1" y="125.8" font-family="'Liberation Serif', 'Times New Roman', serif" font-size="33.5" text-anchor="start">4</text><text x="1312.5" y="106.5" font-family="'Liberation Serif', 'Times New Roman', serif" font-size="59.0" text-anchor="start">NH</text><text x="1397.3" y="129.3" font-family="'Liberation Serif', 'Times New Roman', serif" font-size="33.5" text-anchor="start">4</text><text x="1414.1" y="106.5" font-family="'Liberation Serif', 'Times New Roman', serif" font-size="59.0" text-anchor="start">HSO</text><text x="1531.9" y="129.3" font-family="'Liberation Serif', 'Times New Roman', serif" font-size="33.5" text-anchor="start">4</text><text x="1682.1" y="106.0" font-family="'Liberation Serif', 'Times New Roman', serif" font-size="59.0" text-anchor="start">CuSO</text><text x="1825.9" y="127.5" font-family="'Liberation Serif', 'Times New Roman', serif" font-size="33.5" text-anchor="start">4</text><text x="1969.5" y="102.0" font-family="'Liberation Serif', 'Times New Roman', serif" font-size="58.7" text-anchor="start">MnSO</text><text x="2125.7" y="124.6" font-family="'Liberation Serif', 'Times New Roman', serif" font-size="33.5" text-anchor="start">4</text><text x="1653.0" y="530.7" font-family="'Liberation Sans', Arial, sans-serif" font-size="58.6" text-anchor="start">with H</text><text x="1814.0" y="553.6" font-family="'Liberation Sans', Arial, sans-serif" font-size="37.0" text-anchor="start">2</text><text x="1834.4" y="530.7" font-family="'Liberation Sans', Arial, sans-serif" font-size="58.6" text-anchor="start">O and SO</text><text x="2095.1" y="553.6" font-family="'Liberation Sans', Arial, sans-serif" font-size="37.0" text-anchor="start">2</text><text x="1723.4" y="802.4" font-family="'Liberation Sans', Arial, sans-serif" font-size="58.6" text-anchor="start">with SO</text><text x="1926.9" y="825.3" font-family="'Liberation Sans', Arial, sans-serif" font-size="37.0" text-anchor="start">2</text><text x="1730.2" y="1153.2" font-family="'Liberation Sans', Arial, sans-serif" font-size="58.6" text-anchor="start">with H</text><text x="1891.4" y="1176.5" font-family="'Liberation Sans', Arial, sans-serif" font-size="37.0" text-anchor="start">2</text><text x="1911.0" y="1153.2" font-family="'Liberation Sans', Arial, sans-serif" font-size="58.6" text-anchor="start">O</text><text x="1773.1" y="1531.5" font-family="'Liberation Sans', Arial, sans-serif" font-size="59.5" text-anchor="start">fresh</text><text x="194.0" y="1709.8" font-family="'Liberation Sans', Arial, sans-serif" font-size="57.0" text-anchor="middle">0</text><text x="392.4" y="1709.8" font-family="'Liberation Sans', Arial, sans-serif" font-size="57.0" text-anchor="middle">5</text><text x="590.7" y="1709.8" font-family="'Liberation Sans', Arial, sans-serif" font-size="57.0" text-anchor="middle">10</text><text x="789.1" y="1709.8" font-family="'Liberation Sans', Arial, sans-serif" font-size="57.0" text-anchor="middle">15</text><text x="987.4" y="1709.8" font-family="'Liberation Sans', Arial, sans-serif" font-size="57.0" text-anchor="middle">20</text><text x="1185.8" y="1709.8" font-family="'Liberation Sans', Arial, sans-serif" font-size="57.0" text-anchor="middle">25</text><text x="1384.1" y="1709.8" font-family="'Liberation Sans', Arial, sans-serif" font-size="57.0" text-anchor="middle">30</text><text x="1582.5" y="1709.8" font-family="'Liberation Sans', Arial, sans-serif" font-size="57.0" text-anchor="middle">35</text><text x="1780.8" y="1709.8" font-family="'Liberation Sans', Arial, sans-serif" font-size="57.0" text-anchor="middle">40</text><text x="1979.2" y="1709.8" font-family="'Liberation Sans', Arial, sans-serif" font-size="57.0" text-anchor="middle">45</text><text x="2177.5" y="1709.8" font-family="'Liberation Sans', Arial, sans-serif" font-size="57.0" text-anchor="middle">50</text><text x="0" y="0" font-family="'Liberation Sans', Arial, sans-serif" font-size="74.2" text-anchor="middle" transform="translate(86.4 874.5) rotate(-90)">Intensity/(a.u.)</text><text x="1082.0" y="1798.2" font-family="'Liberation Sans', Arial, sans-serif" font-size="72.0" text-anchor="start">2&#952;</text><text x="1164.5" y="1798.2" font-family="'Liberation Sans', Arial, sans-serif" font-size="72.0" text-anchor="start">/(</text><text x="1208.0" y="1759.7" font-family="'Liberation Sans', Arial, sans-serif" font-size="45.0" text-anchor="start">o</text><text x="1232.6" y="1798.2" font-family="'Liberation Sans', Arial, sans-serif" font-size="72.0" text-anchor="start">C</text><text x="1289.7" y="1798.2" font-family="'Liberation Sans', Arial, sans-serif" font-size="72.0" text-anchor="start">)</text></svg></body></html>
